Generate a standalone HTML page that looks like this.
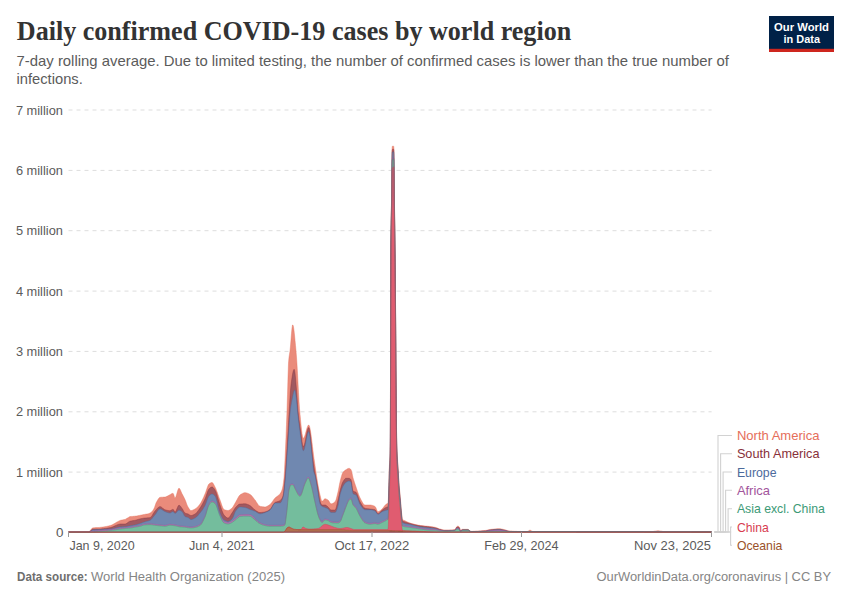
<!DOCTYPE html>
<html><head><meta charset="utf-8"><style>
html,body{margin:0;padding:0;background:#fff;width:850px;height:600px;overflow:hidden}
svg{display:block}
</style></head><body>
<svg width="850" height="600" viewBox="0 0 850 600">
<rect width="850" height="600" fill="#fff"/>
<line x1="68.5" y1="472.1" x2="711.6" y2="472.1" stroke="#dddddd" stroke-width="1" stroke-dasharray="4,4"/><line x1="68.5" y1="411.8" x2="711.6" y2="411.8" stroke="#dddddd" stroke-width="1" stroke-dasharray="4,4"/><line x1="68.5" y1="351.4" x2="711.6" y2="351.4" stroke="#dddddd" stroke-width="1" stroke-dasharray="4,4"/><line x1="68.5" y1="291.1" x2="711.6" y2="291.1" stroke="#dddddd" stroke-width="1" stroke-dasharray="4,4"/><line x1="68.5" y1="230.7" x2="711.6" y2="230.7" stroke="#dddddd" stroke-width="1" stroke-dasharray="4,4"/><line x1="68.5" y1="170.4" x2="711.6" y2="170.4" stroke="#dddddd" stroke-width="1" stroke-dasharray="4,4"/><line x1="68.5" y1="110.0" x2="711.6" y2="110.0" stroke="#dddddd" stroke-width="1" stroke-dasharray="4,4"/>
<polygon points="68.50,532.3 68.5,531.5 69.0,531.5 69.5,531.5 70.0,531.5 70.5,531.5 71.0,531.5 71.5,531.5 72.0,531.5 72.5,531.5 73.0,531.5 73.5,531.5 74.0,531.5 74.5,531.5 75.0,531.5 75.5,531.5 76.0,531.5 76.5,531.5 77.0,531.5 77.5,531.5 78.0,531.5 78.5,531.5 79.0,531.5 79.5,531.5 80.0,531.5 80.5,531.5 81.0,531.5 81.5,531.5 82.0,531.5 82.5,531.5 83.0,531.5 83.5,531.5 84.0,531.5 84.5,531.5 85.0,531.5 85.5,531.5 86.0,531.5 86.5,531.5 87.0,531.5 87.5,531.5 88.0,531.5 88.5,531.5 89.0,531.5 89.5,531.3 90.0,530.9 90.5,530.3 91.0,529.6 91.5,528.9 92.0,528.3 92.5,528.0 93.0,527.9 93.5,527.8 94.0,527.7 94.5,527.7 95.0,527.7 95.5,527.6 96.0,527.6 96.5,527.6 97.0,527.6 97.5,527.6 98.0,527.5 98.5,527.5 99.0,527.5 99.5,527.4 100.0,527.4 100.5,527.3 101.0,527.3 101.5,527.2 102.0,527.1 102.5,527.1 103.0,527.0 103.5,526.9 104.0,526.8 104.5,526.8 105.0,526.7 105.5,526.6 106.0,526.5 106.5,526.4 107.0,526.3 107.5,526.2 108.0,526.1 108.5,526.0 109.0,525.8 109.5,525.7 110.0,525.6 110.5,525.4 111.0,525.3 111.5,525.1 112.0,524.9 112.5,524.6 113.0,524.4 113.5,524.1 114.0,523.8 114.5,523.5 115.0,523.2 115.5,522.9 116.0,522.6 116.5,522.3 117.0,522.0 117.5,521.8 118.0,521.5 118.5,521.2 119.0,521.0 119.5,520.7 120.0,520.5 120.5,520.3 121.0,520.2 121.5,520.1 122.0,520.0 122.5,519.9 123.0,519.8 123.5,519.7 124.0,519.6 124.5,519.5 125.0,519.4 125.5,519.2 126.0,518.9 126.5,518.6 127.0,518.3 127.5,518.0 128.0,517.7 128.5,517.4 129.0,517.0 129.5,516.8 130.0,516.6 130.5,516.5 131.0,516.5 131.5,516.4 132.0,516.4 132.5,516.4 133.0,516.3 133.5,516.3 134.0,516.3 134.5,516.2 135.0,516.2 135.5,516.1 136.0,516.1 136.5,516.0 137.0,515.9 137.5,515.8 138.0,515.7 138.5,515.6 139.0,515.5 139.5,515.4 140.0,515.3 140.5,515.2 141.0,515.1 141.5,515.0 142.0,514.9 142.5,514.8 143.0,514.7 143.5,514.6 144.0,514.5 144.5,514.4 145.0,514.3 145.5,514.2 146.0,514.1 146.5,514.1 147.0,514.0 147.5,513.9 148.0,513.8 148.5,513.7 149.0,513.5 149.5,513.3 150.0,513.1 150.5,512.8 151.0,512.5 151.5,512.1 152.0,511.6 152.5,510.9 153.0,510.2 153.5,509.4 154.0,508.5 154.5,507.4 155.0,506.0 155.5,504.5 156.0,503.1 156.5,502.1 157.0,501.2 157.5,500.3 158.0,499.4 158.5,498.7 159.0,498.0 159.5,497.6 160.0,497.4 160.5,497.3 161.0,497.3 161.5,497.2 162.0,497.2 162.5,497.2 163.0,497.2 163.5,497.1 164.0,497.1 164.5,497.1 165.0,497.0 165.5,496.9 166.0,496.7 166.5,496.5 167.0,496.3 167.5,496.1 168.0,495.8 168.5,495.5 169.0,495.2 169.5,494.9 170.0,494.7 170.5,494.4 171.0,494.1 171.5,493.8 172.0,493.6 172.5,493.4 173.0,493.3 173.5,494.0 174.0,495.6 174.5,497.2 175.0,497.9 175.5,497.5 176.0,496.4 176.5,494.8 177.0,493.1 177.5,491.3 178.0,489.7 178.5,488.6 179.0,488.2 179.5,488.5 180.0,489.2 180.5,490.2 181.0,491.4 181.5,492.6 182.0,493.7 182.5,494.6 183.0,495.6 183.5,496.5 184.0,497.5 184.5,498.5 185.0,499.6 185.5,500.8 186.0,502.1 186.5,503.5 187.0,504.9 187.5,506.1 188.0,507.0 188.5,507.8 189.0,508.6 189.5,509.3 190.0,509.9 190.5,510.4 191.0,510.5 191.5,510.5 192.0,510.4 192.5,510.2 193.0,510.0 193.5,509.8 194.0,509.5 194.5,509.3 195.0,509.0 195.5,508.7 196.0,508.4 196.5,507.9 197.0,507.5 197.5,507.0 198.0,506.5 198.5,505.9 199.0,505.3 199.5,504.7 200.0,504.0 200.5,503.3 201.0,502.5 201.5,501.6 202.0,500.6 202.5,499.6 203.0,498.5 203.5,497.4 204.0,496.3 204.5,495.1 205.0,494.0 205.5,492.8 206.0,491.3 206.5,489.8 207.0,488.3 207.5,486.9 208.0,485.6 208.5,484.6 209.0,484.0 209.5,483.6 210.0,483.3 210.5,482.9 211.0,482.7 211.5,482.6 212.0,482.5 212.5,482.7 213.0,483.3 213.5,484.1 214.0,485.0 214.5,486.0 215.0,487.0 215.5,488.0 216.0,489.1 216.5,490.4 217.0,491.7 217.5,493.1 218.0,494.5 218.5,496.0 219.0,497.4 219.5,498.7 220.0,500.0 220.5,501.3 221.0,502.8 221.5,504.3 222.0,505.8 222.5,507.1 223.0,508.2 223.5,509.1 224.0,509.5 224.5,509.7 225.0,509.9 225.5,510.1 226.0,510.2 226.5,510.3 227.0,510.4 227.5,510.5 228.0,510.5 228.5,510.4 229.0,510.3 229.5,510.0 230.0,509.7 230.5,509.3 231.0,508.9 231.5,508.5 232.0,508.0 232.5,507.5 233.0,506.8 233.5,506.0 234.0,505.1 234.5,504.2 235.0,503.3 235.5,502.4 236.0,501.5 236.5,500.6 237.0,499.7 237.5,498.7 238.0,497.8 238.5,496.9 239.0,496.1 239.5,495.5 240.0,495.0 240.5,494.6 241.0,494.3 241.5,494.0 242.0,493.7 242.5,493.4 243.0,493.2 243.5,493.0 244.0,492.8 244.5,492.7 245.0,492.7 245.5,492.7 246.0,492.8 246.5,492.9 247.0,493.0 247.5,493.2 248.0,493.4 248.5,493.6 249.0,493.9 249.5,494.1 250.0,494.4 250.5,494.7 251.0,495.1 251.5,495.6 252.0,496.2 252.5,496.8 253.0,497.4 253.5,498.1 254.0,498.7 254.5,499.4 255.0,500.0 255.5,500.6 256.0,501.4 256.5,502.2 257.0,503.0 257.5,503.8 258.0,504.5 258.5,505.2 259.0,505.7 259.5,506.1 260.0,506.3 260.5,506.4 261.0,506.5 261.5,506.6 262.0,506.7 262.5,506.7 263.0,506.8 263.5,506.8 264.0,506.9 264.5,506.9 265.0,506.9 265.5,506.9 266.0,506.8 266.5,506.6 267.0,506.4 267.5,506.1 268.0,505.8 268.5,505.5 269.0,505.1 269.5,504.8 270.0,504.4 270.5,504.0 271.0,503.5 271.5,502.8 272.0,502.2 272.5,501.4 273.0,500.7 273.5,500.0 274.0,499.3 274.5,498.7 275.0,498.1 275.5,497.6 276.0,497.2 276.5,496.8 277.0,496.5 277.5,496.1 278.0,495.7 278.5,495.3 279.0,494.9 279.5,494.4 280.0,493.8 280.5,493.1 281.0,492.3 281.5,491.3 282.0,490.0 282.5,488.2 283.0,485.7 283.5,482.3 284.0,478.0 284.5,470.4 285.0,460.0 285.5,449.1 286.0,437.2 286.5,424.3 287.0,411.0 287.5,394.8 288.0,376.9 288.5,363.1 289.0,357.3 289.5,354.2 290.0,351.0 290.5,346.0 291.0,339.7 291.5,333.3 292.0,328.0 292.5,325.0 293.0,325.1 293.5,327.1 294.0,330.5 294.5,335.0 295.0,340.2 295.5,345.6 296.0,351.0 296.5,357.2 297.0,364.6 297.5,373.4 298.0,383.0 298.5,392.6 299.0,401.4 299.5,408.7 300.0,414.2 300.5,419.6 301.0,424.7 301.5,429.4 302.0,433.4 302.5,436.3 303.0,438.0 303.5,438.2 304.0,437.7 304.5,436.6 305.0,435.2 305.5,433.5 306.0,431.6 306.5,429.8 307.0,428.1 307.5,426.7 308.0,425.6 308.5,425.1 309.0,425.2 309.5,426.3 310.0,428.4 310.5,431.2 311.0,434.5 311.5,438.3 312.0,442.4 312.5,446.6 313.0,450.8 313.5,454.9 314.0,458.6 314.5,462.0 315.0,465.5 315.5,469.0 316.0,472.3 316.5,475.7 317.0,478.9 317.5,482.1 318.0,485.0 318.5,487.8 319.0,490.4 319.5,492.9 320.0,495.0 320.5,497.1 321.0,499.1 321.5,500.7 322.0,501.3 322.5,501.1 323.0,500.7 323.5,500.1 324.0,499.4 324.5,499.0 325.0,498.8 325.5,498.8 326.0,499.0 326.5,499.2 327.0,499.4 327.5,499.7 328.0,500.0 328.5,500.5 329.0,501.3 329.5,502.1 330.0,502.9 330.5,503.6 331.0,503.8 331.5,503.8 332.0,503.7 332.5,503.5 333.0,503.2 333.5,503.0 334.0,502.6 334.5,502.2 335.0,501.8 335.5,501.0 336.0,499.8 336.5,498.1 337.0,496.1 337.5,494.1 338.0,492.0 338.5,489.7 339.0,487.0 339.5,484.3 340.0,482.0 340.5,480.0 341.0,478.0 341.5,476.2 342.0,474.5 342.5,473.2 343.0,472.3 343.5,471.7 344.0,471.2 344.5,470.7 345.0,470.3 345.5,470.0 346.0,469.7 346.5,469.4 347.0,469.1 347.5,468.8 348.0,468.5 348.5,468.4 349.0,468.3 349.5,468.4 350.0,468.7 350.5,469.1 351.0,469.7 351.5,471.0 352.0,473.1 352.5,475.6 353.0,477.7 353.5,479.4 354.0,481.0 354.5,482.6 355.0,484.1 355.5,485.6 356.0,487.0 356.5,488.5 357.0,489.9 357.5,491.4 358.0,492.8 358.5,494.2 359.0,495.5 359.5,496.7 360.0,497.7 360.5,498.7 361.0,499.7 361.5,500.7 362.0,501.6 362.5,502.5 363.0,503.3 363.5,504.0 364.0,504.5 364.5,504.9 365.0,505.0 365.5,505.0 366.0,505.0 366.5,505.0 367.0,505.0 367.5,505.0 368.0,505.0 368.5,505.0 369.0,505.0 369.5,505.0 370.0,505.0 370.5,505.0 371.0,505.1 371.5,505.2 372.0,505.3 372.5,505.4 373.0,505.6 373.5,505.8 374.0,506.0 374.5,506.2 375.0,506.5 375.5,507.1 376.0,508.1 376.5,509.3 377.0,510.5 377.5,511.4 378.0,511.7 378.5,511.6 379.0,511.4 379.5,511.1 380.0,510.8 380.5,510.4 381.0,509.9 381.5,509.4 382.0,509.0 382.5,508.5 383.0,507.9 383.5,507.3 384.0,506.6 384.5,506.0 385.0,505.3 385.5,504.8 386.0,504.3 386.5,504.0 387.0,503.8 387.5,503.6 388.0,503.0 388.1,502.5 388.2,501.4 388.3,500.0 388.4,498.2 388.5,495.7 388.6,492.6 388.7,489.2 388.8,485.4 388.9,481.6 389.0,477.8 389.1,474.2 389.2,471.0 389.3,468.3 389.4,466.1 389.5,464.2 389.6,462.5 389.7,460.8 389.8,458.9 389.9,456.6 390.0,453.7 390.1,450.1 390.2,445.6 390.3,440.0 390.4,420.3 390.5,382.6 390.6,340.0 390.7,282.9 390.8,240.0 390.9,229.6 391.0,222.0 391.1,216.6 391.2,212.6 391.3,209.4 391.4,206.2 391.5,202.3 391.6,197.2 391.7,190.0 391.8,176.3 391.9,159.3 392.0,150.0 392.1,148.4 392.2,147.2 392.3,146.4 392.4,146.2 392.5,146.2 392.6,146.2 392.7,146.2 392.8,146.2 392.9,146.2 393.0,146.2 393.1,146.2 393.2,146.2 393.3,146.2 393.4,146.2 393.5,146.2 393.6,146.2 393.7,146.4 393.8,147.2 393.9,148.4 394.0,150.0 394.1,159.0 394.2,175.7 394.3,190.0 394.4,198.8 394.5,206.1 394.6,212.5 394.7,218.6 394.8,224.8 394.9,231.8 395.0,240.0 395.1,249.9 395.2,261.4 395.3,273.9 395.4,287.3 395.5,300.9 395.6,314.5 395.7,327.7 395.8,340.0 395.9,352.4 396.0,365.6 396.1,379.3 396.2,392.8 396.3,405.6 396.4,417.2 396.5,427.2 396.6,434.9 396.7,440.0 396.8,443.3 396.9,446.3 397.0,449.0 397.1,451.4 397.2,453.5 397.3,455.5 397.4,457.2 397.5,458.9 397.6,460.4 397.7,461.8 397.8,463.2 397.9,464.6 398.0,466.1 398.1,467.6 398.2,469.2 398.3,471.0 398.4,472.9 398.5,474.8 398.6,476.7 398.7,478.4 398.8,480.0 398.9,481.4 399.0,482.8 399.1,484.1 399.2,485.4 399.3,486.6 399.4,487.8 399.5,488.9 399.6,490.1 399.7,491.2 399.8,492.2 399.9,493.3 400.0,494.4 400.1,495.5 400.2,496.6 400.3,497.7 400.4,498.8 400.5,500.0 400.6,501.2 400.7,502.5 400.8,503.8 400.9,505.1 401.0,506.3 401.1,507.6 401.2,508.8 401.3,510.0 401.4,511.0 401.5,512.0 401.6,512.9 401.7,513.9 401.8,514.9 401.9,515.8 402.0,516.7 402.1,517.5 402.2,518.2 402.3,518.8 402.4,519.2 402.5,519.4 402.6,519.5 402.7,519.6 402.8,519.7 402.9,519.8 403.0,519.9 403.5,520.2 404.5,520.6 405.5,521.0 406.5,521.5 407.5,522.0 408.5,522.4 409.5,522.8 410.5,523.2 411.5,523.5 412.5,523.8 413.5,524.0 414.5,524.3 415.5,524.5 416.5,524.8 417.5,525.0 418.5,525.2 419.5,525.3 420.5,525.5 421.5,525.6 422.5,525.7 423.5,525.8 424.5,525.9 425.5,526.0 426.5,526.1 427.5,526.2 428.5,526.3 429.5,526.4 430.5,526.6 431.5,526.7 432.5,526.8 433.5,527.0 434.5,527.2 435.5,527.4 436.5,527.7 437.5,528.1 438.5,528.5 439.5,528.9 440.5,529.1 441.5,529.4 442.5,529.7 443.5,529.9 444.5,530.0 445.5,530.0 446.5,530.0 447.5,530.0 448.5,530.0 449.5,530.0 450.5,529.9 451.5,529.9 452.5,529.9 453.5,529.8 454.5,529.7 455.5,529.1 456.5,526.9 457.5,526.2 458.5,526.2 459.5,527.4 460.5,531.0 461.5,529.7 462.5,529.3 463.5,529.3 464.5,529.3 465.5,529.3 466.5,529.3 467.5,529.3 468.5,529.6 469.5,530.8 470.5,531.3 471.5,531.3 472.5,531.3 473.5,531.2 474.5,531.2 475.5,531.2 476.5,531.1 477.5,531.1 478.5,531.0 479.5,530.9 480.5,530.9 481.5,530.8 482.5,530.7 483.5,530.6 484.5,530.5 485.5,530.4 486.5,530.3 487.5,530.0 488.5,529.8 489.5,529.6 490.5,529.4 491.5,529.3 492.5,529.2 493.5,529.1 494.5,528.9 495.5,528.9 496.5,528.8 497.5,528.7 498.5,528.7 499.5,528.7 500.5,528.8 501.5,529.0 502.5,529.2 503.5,529.4 504.5,529.7 505.5,529.9 506.5,530.3 507.5,530.7 508.5,530.9 509.5,531.0 510.5,531.1 511.5,531.1 512.5,531.2 513.5,531.2 514.5,531.3 515.5,531.3 516.5,531.3 517.5,531.4 518.5,531.4 519.5,531.4 520.5,531.4 521.5,531.5 522.5,531.5 523.5,531.5 524.5,531.5 525.5,531.5 526.5,531.5 527.5,531.4 528.5,530.9 529.5,530.3 530.5,530.3 531.5,530.9 532.5,531.4 533.5,531.5 534.5,531.5 535.5,531.5 536.5,531.5 537.5,531.5 538.5,531.5 539.5,531.5 540.5,531.5 541.5,531.5 542.5,531.5 543.5,531.5 544.5,531.5 545.5,531.5 546.5,531.5 547.5,531.5 548.5,531.5 549.5,531.5 550.5,531.5 551.5,531.5 552.5,531.5 553.5,531.5 554.5,531.5 555.5,531.5 556.5,531.5 557.5,531.5 558.5,531.5 559.5,531.5 560.5,531.5 561.5,531.5 562.5,531.5 563.5,531.5 564.5,531.5 565.5,531.5 566.5,531.5 567.5,531.5 568.5,531.5 569.5,531.5 570.5,531.5 571.5,531.5 572.5,531.5 573.5,531.5 574.5,531.5 575.5,531.5 576.5,531.5 577.5,531.5 578.5,531.5 579.5,531.5 580.5,531.5 581.5,531.5 582.5,531.5 583.5,531.5 584.5,531.5 585.5,531.5 586.5,531.5 587.5,531.5 588.5,531.5 589.5,531.5 590.5,531.5 591.5,531.5 592.5,531.5 593.5,531.5 594.5,531.5 595.5,531.5 596.5,531.5 597.5,531.5 598.5,531.5 599.5,531.5 600.5,531.5 601.5,531.5 602.5,531.5 603.5,531.5 604.5,531.5 605.5,531.5 606.5,531.5 607.5,531.5 608.5,531.5 609.5,531.5 610.5,531.5 611.5,531.5 612.5,531.5 613.5,531.5 614.5,531.5 615.5,531.5 616.5,531.5 617.5,531.5 618.5,531.5 619.5,531.5 620.5,531.5 621.5,531.5 622.5,531.5 623.5,531.5 624.5,531.5 625.5,531.5 626.5,531.5 627.5,531.5 628.5,531.5 629.5,531.5 630.5,531.5 631.5,531.5 632.5,531.5 633.5,531.5 634.5,531.5 635.5,531.5 636.5,531.5 637.5,531.5 638.5,531.5 639.5,531.5 640.5,531.5 641.5,531.5 642.5,531.5 643.5,531.5 644.5,531.5 645.5,531.5 646.5,531.5 647.5,531.5 648.5,531.5 649.5,531.5 650.5,531.5 651.5,531.5 652.5,531.5 653.5,531.4 654.5,531.2 655.5,531.1 656.5,530.9 657.5,530.8 658.5,530.8 659.5,530.9 660.5,531.1 661.5,531.2 662.5,531.4 663.5,531.5 664.5,531.5 665.5,531.5 666.5,531.5 667.5,531.5 668.5,531.5 669.5,531.5 670.5,531.5 671.5,531.5 672.5,531.5 673.5,531.5 674.5,531.5 675.5,531.5 676.5,531.5 677.5,531.5 678.5,531.5 679.5,531.5 680.5,531.5 681.5,531.5 682.5,531.5 683.5,531.5 684.5,531.5 685.5,531.5 686.5,531.5 687.5,531.5 688.5,531.5 689.5,531.5 690.5,531.5 691.5,531.5 692.5,531.5 693.5,531.5 694.5,531.5 695.5,531.5 696.5,531.5 697.5,531.5 698.5,531.5 699.5,531.5 700.5,531.5 701.5,531.5 702.5,531.5 703.5,531.5 704.5,531.5 705.5,531.5 706.5,531.5 707.5,531.5 708.5,531.5 709.5,531.5 710.5,531.5 711.5,531.5 711.50,532.3" fill="#ea8b7b"/>
<polygon points="68.50,532.3 68.5,531.8 69.0,531.8 69.5,531.8 70.0,531.8 70.5,531.8 71.0,531.8 71.5,531.8 72.0,531.8 72.5,531.8 73.0,531.8 73.5,531.8 74.0,531.8 74.5,531.8 75.0,531.8 75.5,531.8 76.0,531.8 76.5,531.8 77.0,531.8 77.5,531.8 78.0,531.8 78.5,531.8 79.0,531.8 79.5,531.8 80.0,531.8 80.5,531.8 81.0,531.8 81.5,531.8 82.0,531.8 82.5,531.8 83.0,531.8 83.5,531.8 84.0,531.8 84.5,531.8 85.0,531.8 85.5,531.8 86.0,531.8 86.5,531.8 87.0,531.8 87.5,531.8 88.0,531.8 88.5,531.8 89.0,531.8 89.5,531.7 90.0,531.4 90.5,530.9 91.0,530.4 91.5,530.0 92.0,529.6 92.5,529.3 93.0,529.3 93.5,529.2 94.0,529.2 94.5,529.2 95.0,529.2 95.5,529.1 96.0,529.1 96.5,529.1 97.0,529.1 97.5,529.1 98.0,529.1 98.5,529.1 99.0,529.0 99.5,529.0 100.0,529.0 100.5,529.0 101.0,528.9 101.5,528.9 102.0,528.8 102.5,528.8 103.0,528.7 103.5,528.7 104.0,528.6 104.5,528.5 105.0,528.5 105.5,528.4 106.0,528.3 106.5,528.3 107.0,528.2 107.5,528.1 108.0,528.0 108.5,527.9 109.0,527.8 109.5,527.7 110.0,527.7 110.5,527.6 111.0,527.4 111.5,527.3 112.0,527.1 112.5,526.9 113.0,526.7 113.5,526.5 114.0,526.3 114.5,526.1 115.0,525.8 115.5,525.6 116.0,525.4 116.5,525.2 117.0,525.0 117.5,524.8 118.0,524.6 118.5,524.4 119.0,524.3 119.5,524.2 120.0,524.1 120.5,524.0 121.0,524.0 121.5,524.0 122.0,524.0 122.5,524.0 123.0,524.0 123.5,524.0 124.0,524.0 124.5,524.0 125.0,524.0 125.5,523.9 126.0,523.8 126.5,523.5 127.0,523.1 127.5,522.8 128.0,522.4 128.5,522.0 129.0,521.7 129.5,521.4 130.0,521.2 130.5,521.1 131.0,521.0 131.5,520.9 132.0,520.8 132.5,520.7 133.0,520.6 133.5,520.6 134.0,520.5 134.5,520.4 135.0,520.3 135.5,520.2 136.0,520.0 136.5,519.9 137.0,519.8 137.5,519.6 138.0,519.4 138.5,519.3 139.0,519.2 139.5,519.0 140.0,518.9 140.5,518.8 141.0,518.7 141.5,518.6 142.0,518.5 142.5,518.4 143.0,518.3 143.5,518.2 144.0,518.1 144.5,518.1 145.0,518.0 145.5,518.0 146.0,517.9 146.5,517.9 147.0,517.9 147.5,517.8 148.0,517.8 148.5,517.8 149.0,517.7 149.5,517.7 150.0,517.6 150.5,517.4 151.0,517.0 151.5,516.4 152.0,515.7 152.5,514.9 153.0,514.1 153.5,513.2 154.0,512.4 154.5,511.7 155.0,511.1 155.5,510.5 156.0,510.0 156.5,509.3 157.0,508.8 157.5,508.2 158.0,507.7 158.5,507.2 159.0,506.9 159.5,506.7 160.0,506.6 160.5,506.7 161.0,506.9 161.5,507.2 162.0,507.6 162.5,508.0 163.0,508.5 163.5,508.9 164.0,509.3 164.5,509.6 165.0,509.8 165.5,509.9 166.0,510.1 166.5,510.2 167.0,510.3 167.5,510.4 168.0,510.5 168.5,510.6 169.0,510.7 169.5,510.7 170.0,510.7 170.5,510.6 171.0,510.3 171.5,510.0 172.0,509.7 172.5,509.4 173.0,509.3 173.5,509.7 174.0,510.6 174.5,511.6 175.0,512.0 175.5,511.7 176.0,510.9 176.5,509.8 177.0,508.6 177.5,507.4 178.0,506.3 178.5,505.5 179.0,505.2 179.5,505.3 180.0,505.8 180.5,506.3 181.0,507.0 181.5,507.7 182.0,508.4 182.5,509.1 183.0,510.0 183.5,511.0 184.0,511.8 184.5,512.6 185.0,513.0 185.5,513.2 186.0,513.4 186.5,513.6 187.0,513.7 187.5,513.8 188.0,514.0 188.5,514.2 189.0,514.6 189.5,514.9 190.0,515.2 190.5,515.4 191.0,515.5 191.5,515.5 192.0,515.4 192.5,515.2 193.0,515.0 193.5,514.8 194.0,514.5 194.5,514.3 195.0,514.0 195.5,513.7 196.0,513.2 196.5,512.7 197.0,512.2 197.5,511.5 198.0,510.9 198.5,510.2 199.0,509.5 199.5,508.7 200.0,508.0 200.5,507.3 201.0,506.5 201.5,505.7 202.0,504.8 202.5,503.9 203.0,503.0 203.5,502.0 204.0,501.1 204.5,500.0 205.0,499.0 205.5,497.8 206.0,496.4 206.5,495.0 207.0,493.5 207.5,492.0 208.0,490.7 208.5,489.7 209.0,489.0 209.5,488.5 210.0,488.0 210.5,487.6 211.0,487.3 211.5,487.1 212.0,487.0 212.5,487.1 213.0,487.5 213.5,488.0 214.0,488.6 214.5,489.3 215.0,490.0 215.5,490.9 216.0,492.0 216.5,493.4 217.0,495.0 217.5,496.7 218.0,498.5 218.5,500.2 219.0,501.9 219.5,503.5 220.0,505.0 220.5,506.4 221.0,507.9 221.5,509.4 222.0,510.8 222.5,512.1 223.0,513.3 223.5,514.3 224.0,515.0 224.5,515.6 225.0,516.1 225.5,516.6 226.0,517.1 226.5,517.5 227.0,517.7 227.5,517.9 228.0,518.0 228.5,517.9 229.0,517.5 229.5,516.9 230.0,516.2 230.5,515.4 231.0,514.5 231.5,513.7 232.0,513.0 232.5,512.3 233.0,511.5 233.5,510.7 234.0,509.8 234.5,509.0 235.0,508.2 235.5,507.6 236.0,507.0 236.5,506.5 237.0,506.0 237.5,505.5 238.0,505.0 238.5,504.6 239.0,504.3 239.5,504.1 240.0,504.0 240.5,504.0 241.0,503.9 241.5,503.9 242.0,503.9 242.5,503.9 243.0,503.8 243.5,503.8 244.0,503.8 244.5,503.8 245.0,503.8 245.5,503.8 246.0,503.9 246.5,504.0 247.0,504.2 247.5,504.4 248.0,504.6 248.5,504.8 249.0,505.1 249.5,505.3 250.0,505.6 250.5,505.9 251.0,506.3 251.5,506.7 252.0,507.2 252.5,507.7 253.0,508.2 253.5,508.7 254.0,509.2 254.5,509.6 255.0,510.0 255.5,510.3 256.0,510.7 256.5,511.0 257.0,511.3 257.5,511.6 258.0,511.9 258.5,512.2 259.0,512.3 259.5,512.5 260.0,512.5 260.5,512.5 261.0,512.5 261.5,512.4 262.0,512.4 262.5,512.3 263.0,512.3 263.5,512.2 264.0,512.1 264.5,512.0 265.0,511.9 265.5,511.8 266.0,511.6 266.5,511.4 267.0,511.2 267.5,511.0 268.0,510.7 268.5,510.4 269.0,510.1 269.5,509.8 270.0,509.4 270.5,508.9 271.0,508.3 271.5,507.6 272.0,506.7 272.5,505.9 273.0,505.0 273.5,504.2 274.0,503.5 274.5,502.9 275.0,502.5 275.5,502.2 276.0,502.0 276.5,501.9 277.0,501.7 277.5,501.6 278.0,501.4 278.5,501.3 279.0,501.1 279.5,500.9 280.0,500.6 280.5,500.2 281.0,499.7 281.5,499.1 282.0,498.3 282.5,497.3 283.0,496.0 283.5,493.5 284.0,489.1 284.5,483.7 285.0,478.0 285.5,471.8 286.0,464.5 286.5,456.5 287.0,448.2 287.5,440.0 288.0,431.6 288.5,422.8 289.0,414.2 289.5,406.1 290.0,397.8 290.5,390.3 291.0,385.0 291.5,381.2 292.0,377.7 292.5,374.6 293.0,372.0 293.5,370.2 294.0,369.3 294.5,369.8 295.0,373.0 295.5,378.1 296.0,384.1 296.5,390.0 297.0,396.8 297.5,404.6 298.0,411.0 298.5,415.7 299.0,419.7 299.5,423.3 300.0,426.7 300.5,430.0 301.0,433.7 301.5,437.6 302.0,441.4 302.5,444.5 303.0,446.4 303.5,446.6 304.0,445.8 304.5,444.3 305.0,442.2 305.5,439.7 306.0,437.1 306.5,434.5 307.0,432.0 307.5,429.9 308.0,428.4 308.5,427.6 309.0,427.8 309.5,429.6 310.0,432.7 310.5,436.8 311.0,441.5 311.5,446.5 312.0,451.5 312.5,456.1 313.0,460.0 313.5,463.4 314.0,466.8 314.5,470.0 315.0,473.0 315.5,475.8 316.0,478.4 316.5,481.0 317.0,483.5 317.5,486.1 318.0,488.8 318.5,492.0 319.0,495.6 319.5,498.8 320.0,501.0 320.5,502.5 321.0,503.8 321.5,504.7 322.0,505.0 322.5,505.0 323.0,505.0 323.5,505.0 324.0,505.0 324.5,505.0 325.0,505.0 325.5,505.1 326.0,505.3 326.5,505.7 327.0,506.1 327.5,506.5 328.0,506.9 328.5,507.4 329.0,508.1 329.5,508.7 330.0,509.4 330.5,509.8 331.0,510.0 331.5,510.0 332.0,510.0 332.5,510.0 333.0,510.0 333.5,510.0 334.0,510.0 334.5,510.0 335.0,510.0 335.5,509.5 336.0,508.3 336.5,506.5 337.0,504.3 337.5,502.1 338.0,500.0 338.5,497.9 339.0,495.5 339.5,493.1 340.0,491.0 340.5,489.1 341.0,487.3 341.5,485.6 342.0,484.0 342.5,482.7 343.0,481.7 343.5,480.9 344.0,480.1 344.5,479.4 345.0,478.8 345.5,478.4 346.0,478.3 346.5,478.3 347.0,478.3 347.5,478.3 348.0,478.3 348.5,478.3 349.0,478.3 349.5,478.4 350.0,478.7 350.5,479.1 351.0,479.7 351.5,481.7 352.0,485.4 352.5,489.1 353.0,491.0 353.5,491.3 354.0,491.6 354.5,491.7 355.0,491.8 355.5,492.0 356.0,492.3 356.5,492.9 357.0,493.8 357.5,495.1 358.0,496.5 358.5,498.0 359.0,499.4 359.5,500.7 360.0,501.7 360.5,502.6 361.0,503.4 361.5,504.3 362.0,505.1 362.5,505.9 363.0,506.6 363.5,507.2 364.0,507.7 364.5,508.1 365.0,508.3 365.5,508.4 366.0,508.5 366.5,508.6 367.0,508.7 367.5,508.7 368.0,508.8 368.5,508.8 369.0,508.9 369.5,508.9 370.0,509.0 370.5,509.1 371.0,509.1 371.5,509.2 372.0,509.2 372.5,509.3 373.0,509.3 373.5,509.4 374.0,509.5 374.5,509.6 375.0,509.7 375.5,510.1 376.0,510.9 376.5,511.8 377.0,512.7 377.5,513.4 378.0,513.7 378.5,513.6 379.0,513.3 379.5,512.9 380.0,512.4 380.5,511.8 381.0,511.3 381.5,510.7 382.0,510.3 382.5,509.9 383.0,509.5 383.5,509.1 384.0,508.7 384.5,508.3 385.0,508.0 385.5,507.7 386.0,507.5 386.5,507.3 387.0,507.2 387.5,507.0 388.0,507.0 388.1,506.4 388.2,505.3 388.3,504.0 388.4,502.1 388.5,499.6 388.6,496.5 388.7,493.0 388.8,489.3 388.9,485.5 389.0,481.7 389.1,478.1 389.2,474.8 389.3,472.1 389.4,469.9 389.5,468.0 389.6,466.3 389.7,464.5 389.8,462.6 389.9,460.3 390.0,457.4 390.1,453.8 390.2,449.3 390.3,443.7 390.4,424.0 390.5,386.2 390.6,343.6 390.7,286.5 390.8,243.6 390.9,233.2 391.0,225.6 391.1,220.1 391.2,216.1 391.3,212.9 391.4,209.6 391.5,205.8 391.6,200.6 391.7,193.4 391.8,179.7 391.9,162.7 392.0,153.4 392.1,151.7 392.2,150.5 392.3,149.8 392.4,149.5 392.5,149.5 392.6,149.5 392.7,149.5 392.8,149.5 392.9,149.5 393.0,149.4 393.1,149.4 393.2,149.4 393.3,149.4 393.4,149.4 393.5,149.4 393.6,149.4 393.7,149.6 393.8,150.3 393.9,151.5 394.0,153.1 394.1,162.1 394.2,178.8 394.3,193.0 394.4,201.8 394.5,209.1 394.6,215.5 394.7,221.6 394.8,227.8 394.9,234.7 395.0,242.9 395.1,252.9 395.2,264.3 395.3,276.8 395.4,290.1 395.5,303.8 395.6,317.4 395.7,330.5 395.8,342.8 395.9,355.2 396.0,368.4 396.1,382.1 396.2,395.5 396.3,408.3 396.4,419.9 396.5,429.9 396.6,437.6 396.7,442.7 396.8,446.0 396.9,449.0 397.0,451.6 397.1,454.0 397.2,456.2 397.3,458.1 397.4,459.8 397.5,461.4 397.6,462.9 397.7,464.3 397.8,465.7 397.9,467.1 398.0,468.6 398.1,470.1 398.2,471.7 398.3,473.4 398.4,475.3 398.5,477.2 398.6,479.1 398.7,480.8 398.8,482.4 398.9,483.8 399.0,485.2 399.1,486.5 399.2,487.7 399.3,488.9 399.4,490.1 399.5,491.2 399.6,492.3 399.7,493.4 399.8,494.5 399.9,495.5 400.0,496.6 400.1,497.7 400.2,498.7 400.3,499.8 400.4,501.0 400.5,502.1 400.6,503.3 400.7,504.6 400.8,505.8 400.9,507.1 401.0,508.4 401.1,509.6 401.2,510.8 401.3,512.0 401.4,513.0 401.5,514.0 401.6,514.9 401.7,515.8 401.8,516.8 401.9,517.7 402.0,518.6 402.1,519.4 402.2,520.1 402.3,520.6 402.4,521.0 402.5,521.2 402.6,521.2 402.7,521.3 402.8,521.3 402.9,521.4 403.0,521.4 403.5,521.6 404.5,521.8 405.5,522.2 406.5,522.5 407.5,522.8 408.5,523.1 409.5,523.4 410.5,523.6 411.5,523.9 412.5,524.2 413.5,524.4 414.5,524.7 415.5,524.9 416.5,525.1 417.5,525.3 418.5,525.5 419.5,525.7 420.5,525.9 421.5,526.0 422.5,526.1 423.5,526.3 424.5,526.4 425.5,526.5 426.5,526.6 427.5,526.7 428.5,526.8 429.5,526.9 430.5,527.1 431.5,527.2 432.5,527.4 433.5,527.5 434.5,527.7 435.5,527.9 436.5,528.3 437.5,528.6 438.5,529.0 439.5,529.4 440.5,529.6 441.5,529.9 442.5,530.1 443.5,530.3 444.5,530.4 445.5,530.4 446.5,530.4 447.5,530.4 448.5,530.4 449.5,530.3 450.5,530.3 451.5,530.3 452.5,530.2 453.5,530.1 454.5,530.0 455.5,529.5 456.5,527.5 457.5,527.0 458.5,527.0 459.5,528.1 460.5,531.3 461.5,530.2 462.5,529.8 463.5,529.8 464.5,529.8 465.5,529.8 466.5,529.8 467.5,529.8 468.5,530.1 469.5,530.8 470.5,531.4 471.5,531.5 472.5,531.5 473.5,531.5 474.5,531.5 475.5,531.4 476.5,531.4 477.5,531.4 478.5,531.3 479.5,531.3 480.5,531.3 481.5,531.2 482.5,531.1 483.5,531.1 484.5,531.0 485.5,531.0 486.5,530.8 487.5,530.5 488.5,530.3 489.5,530.1 490.5,529.9 491.5,529.8 492.5,529.7 493.5,529.6 494.5,529.5 495.5,529.4 496.5,529.4 497.5,529.3 498.5,529.3 499.5,529.3 500.5,529.4 501.5,529.6 502.5,529.8 503.5,530.0 504.5,530.2 505.5,530.4 506.5,530.7 507.5,531.0 508.5,531.2 509.5,531.3 510.5,531.4 511.5,531.4 512.5,531.5 513.5,531.5 514.5,531.5 515.5,531.5 516.5,531.5 517.5,531.5 518.5,531.5 519.5,531.5 520.5,531.5 521.5,531.5 522.5,531.5 523.5,531.5 524.5,531.5 525.5,531.5 526.5,531.5 527.5,531.5 528.5,531.5 529.5,531.5 530.5,531.5 531.5,531.5 532.5,531.5 533.5,531.5 534.5,531.5 535.5,531.5 536.5,531.5 537.5,531.5 538.5,531.5 539.5,531.5 540.5,531.5 541.5,531.5 542.5,531.5 543.5,531.5 544.5,531.5 545.5,531.5 546.5,531.5 547.5,531.5 548.5,531.5 549.5,531.5 550.5,531.5 551.5,531.5 552.5,531.5 553.5,531.5 554.5,531.5 555.5,531.5 556.5,531.5 557.5,531.5 558.5,531.5 559.5,531.5 560.5,531.5 561.5,531.5 562.5,531.5 563.5,531.5 564.5,531.5 565.5,531.5 566.5,531.5 567.5,531.5 568.5,531.5 569.5,531.5 570.5,531.5 571.5,531.5 572.5,531.5 573.5,531.5 574.5,531.5 575.5,531.5 576.5,531.6 577.5,531.6 578.5,531.6 579.5,531.6 580.5,531.6 581.5,531.6 582.5,531.6 583.5,531.6 584.5,531.6 585.5,531.6 586.5,531.6 587.5,531.6 588.5,531.6 589.5,531.6 590.5,531.6 591.5,531.6 592.5,531.6 593.5,531.6 594.5,531.6 595.5,531.6 596.5,531.6 597.5,531.6 598.5,531.6 599.5,531.6 600.5,531.6 601.5,531.6 602.5,531.6 603.5,531.6 604.5,531.6 605.5,531.6 606.5,531.6 607.5,531.6 608.5,531.6 609.5,531.6 610.5,531.6 611.5,531.6 612.5,531.6 613.5,531.6 614.5,531.6 615.5,531.6 616.5,531.6 617.5,531.6 618.5,531.6 619.5,531.6 620.5,531.6 621.5,531.6 622.5,531.6 623.5,531.6 624.5,531.6 625.5,531.6 626.5,531.6 627.5,531.6 628.5,531.6 629.5,531.6 630.5,531.6 631.5,531.6 632.5,531.6 633.5,531.6 634.5,531.6 635.5,531.6 636.5,531.6 637.5,531.6 638.5,531.6 639.5,531.6 640.5,531.6 641.5,531.6 642.5,531.6 643.5,531.6 644.5,531.7 645.5,531.7 646.5,531.7 647.5,531.7 648.5,531.7 649.5,531.7 650.5,531.7 651.5,531.7 652.5,531.7 653.5,531.7 654.5,531.7 655.5,531.7 656.5,531.7 657.5,531.7 658.5,531.7 659.5,531.7 660.5,531.7 661.5,531.7 662.5,531.7 663.5,531.7 664.5,531.7 665.5,531.7 666.5,531.7 667.5,531.7 668.5,531.7 669.5,531.7 670.5,531.7 671.5,531.7 672.5,531.7 673.5,531.7 674.5,531.7 675.5,531.7 676.5,531.7 677.5,531.7 678.5,531.7 679.5,531.7 680.5,531.7 681.5,531.7 682.5,531.7 683.5,531.7 684.5,531.7 685.5,531.7 686.5,531.7 687.5,531.7 688.5,531.7 689.5,531.7 690.5,531.7 691.5,531.8 692.5,531.8 693.5,531.8 694.5,531.8 695.5,531.8 696.5,531.8 697.5,531.8 698.5,531.8 699.5,531.8 700.5,531.8 701.5,531.8 702.5,531.8 703.5,531.8 704.5,531.8 705.5,531.8 706.5,531.8 707.5,531.8 708.5,531.8 709.5,531.8 710.5,531.8 711.5,531.8 711.50,532.3" fill="#a05961"/>
<polygon points="68.50,532.3 68.5,532.0 69.0,532.0 69.5,532.0 70.0,532.0 70.5,532.0 71.0,532.0 71.5,532.0 72.0,532.0 72.5,532.0 73.0,532.0 73.5,532.0 74.0,532.0 74.5,532.0 75.0,532.0 75.5,532.0 76.0,532.0 76.5,532.0 77.0,532.0 77.5,532.0 78.0,532.0 78.5,532.0 79.0,532.0 79.5,532.0 80.0,532.0 80.5,532.0 81.0,532.0 81.5,532.0 82.0,532.0 82.5,532.0 83.0,532.0 83.5,532.0 84.0,532.0 84.5,532.0 85.0,532.0 85.5,532.0 86.0,532.0 86.5,532.0 87.0,532.0 87.5,532.0 88.0,532.0 88.5,532.0 89.0,532.0 89.5,531.9 90.0,531.6 90.5,531.2 91.0,530.8 91.5,530.4 92.0,530.0 92.5,529.8 93.0,529.8 93.5,529.7 94.0,529.7 94.5,529.7 95.0,529.7 95.5,529.6 96.0,529.6 96.5,529.6 97.0,529.6 97.5,529.6 98.0,529.6 98.5,529.5 99.0,529.5 99.5,529.5 100.0,529.5 100.5,529.5 101.0,529.4 101.5,529.4 102.0,529.4 102.5,529.4 103.0,529.4 103.5,529.4 104.0,529.3 104.5,529.3 105.0,529.3 105.5,529.3 106.0,529.3 106.5,529.2 107.0,529.2 107.5,529.2 108.0,529.2 108.5,529.1 109.0,529.1 109.5,529.1 110.0,529.0 110.5,529.0 111.0,528.9 111.5,528.9 112.0,528.8 112.5,528.7 113.0,528.6 113.5,528.5 114.0,528.4 114.5,528.2 115.0,528.1 115.5,528.0 116.0,527.9 116.5,527.7 117.0,527.6 117.5,527.5 118.0,527.4 118.5,527.3 119.0,527.2 119.5,527.1 120.0,527.0 120.5,526.9 121.0,526.9 121.5,526.9 122.0,526.8 122.5,526.8 123.0,526.8 123.5,526.8 124.0,526.8 124.5,526.7 125.0,526.7 125.5,526.7 126.0,526.6 126.5,526.5 127.0,526.4 127.5,526.3 128.0,526.2 128.5,526.1 129.0,526.0 129.5,525.9 130.0,525.8 130.5,525.7 131.0,525.6 131.5,525.5 132.0,525.5 132.5,525.4 133.0,525.3 133.5,525.2 134.0,525.1 134.5,525.0 135.0,524.9 135.5,524.8 136.0,524.7 136.5,524.5 137.0,524.4 137.5,524.3 138.0,524.1 138.5,524.0 139.0,523.8 139.5,523.7 140.0,523.5 140.5,523.3 141.0,523.2 141.5,523.0 142.0,522.8 142.5,522.6 143.0,522.4 143.5,522.2 144.0,522.0 144.5,521.9 145.0,521.7 145.5,521.6 146.0,521.4 146.5,521.3 147.0,521.2 147.5,521.1 148.0,521.0 148.5,520.8 149.0,520.7 149.5,520.5 150.0,520.3 150.5,520.0 151.0,519.6 151.5,519.1 152.0,518.6 152.5,518.0 153.0,517.3 153.5,516.7 154.0,516.0 154.5,515.4 155.0,514.8 155.5,514.2 156.0,513.5 156.5,512.7 157.0,511.9 157.5,511.1 158.0,510.4 158.5,509.8 159.0,509.3 159.5,509.0 160.0,508.9 160.5,509.0 161.0,509.1 161.5,509.4 162.0,509.7 162.5,510.0 163.0,510.4 163.5,510.7 164.0,511.1 164.5,511.4 165.0,511.6 165.5,511.8 166.0,512.0 166.5,512.2 167.0,512.4 167.5,512.5 168.0,512.7 168.5,512.8 169.0,512.9 169.5,513.0 170.0,513.0 170.5,512.9 171.0,512.6 171.5,512.3 172.0,512.0 172.5,511.7 173.0,511.6 173.5,511.9 174.0,512.5 174.5,513.1 175.0,513.4 175.5,513.3 176.0,512.9 176.5,512.4 177.0,511.8 177.5,511.2 178.0,510.7 178.5,510.3 179.0,510.2 179.5,510.3 180.0,510.4 180.5,510.6 181.0,510.9 181.5,511.2 182.0,511.6 182.5,512.2 183.0,513.1 183.5,514.1 184.0,515.1 184.5,516.0 185.0,516.5 185.5,516.7 186.0,516.9 186.5,517.0 187.0,517.2 187.5,517.3 188.0,517.5 188.5,517.8 189.0,518.2 189.5,518.7 190.0,519.1 190.5,519.4 191.0,519.5 191.5,519.5 192.0,519.4 192.5,519.2 193.0,519.0 193.5,518.8 194.0,518.5 194.5,518.3 195.0,518.0 195.5,517.7 196.0,517.3 196.5,516.9 197.0,516.4 197.5,515.9 198.0,515.4 198.5,514.8 199.0,514.2 199.5,513.6 200.0,513.0 200.5,512.4 201.0,511.7 201.5,511.1 202.0,510.4 202.5,509.7 203.0,508.9 203.5,508.1 204.0,507.3 204.5,506.4 205.0,505.5 205.5,504.4 206.0,503.2 206.5,501.8 207.0,500.3 207.5,498.9 208.0,497.7 208.5,496.7 209.0,496.0 209.5,495.5 210.0,495.0 210.5,494.6 211.0,494.3 211.5,494.1 212.0,494.0 212.5,494.1 213.0,494.3 213.5,494.6 214.0,495.0 214.5,495.5 215.0,496.0 215.5,496.8 216.0,498.1 216.5,499.7 217.0,501.6 217.5,503.7 218.0,505.9 218.5,508.0 219.0,509.9 219.5,511.6 220.0,513.0 220.5,514.1 221.0,515.3 221.5,516.3 222.0,517.3 222.5,518.2 223.0,519.0 223.5,519.6 224.0,520.0 224.5,520.3 225.0,520.6 225.5,520.8 226.0,521.1 226.5,521.2 227.0,521.4 227.5,521.5 228.0,521.5 228.5,521.4 229.0,521.3 229.5,521.0 230.0,520.7 230.5,520.4 231.0,519.9 231.5,519.5 232.0,519.0 232.5,518.3 233.0,517.4 233.5,516.2 234.0,514.9 234.5,513.6 235.0,512.3 235.5,511.3 236.0,510.5 236.5,509.9 237.0,509.3 237.5,508.7 238.0,508.1 238.5,507.7 239.0,507.3 239.5,507.1 240.0,507.0 240.5,507.0 241.0,507.0 241.5,507.1 242.0,507.1 242.5,507.2 243.0,507.2 243.5,507.3 244.0,507.3 244.5,507.4 245.0,507.5 245.5,507.6 246.0,507.7 246.5,507.9 247.0,508.1 247.5,508.3 248.0,508.5 248.5,508.8 249.0,509.0 249.5,509.2 250.0,509.4 250.5,509.6 251.0,509.8 251.5,510.0 252.0,510.1 252.5,510.3 253.0,510.5 253.5,510.7 254.0,510.9 254.5,511.1 255.0,511.3 255.5,511.5 256.0,511.8 256.5,512.2 257.0,512.5 257.5,512.8 258.0,513.1 258.5,513.4 259.0,513.6 259.5,513.7 260.0,513.8 260.5,513.8 261.0,513.7 261.5,513.6 262.0,513.5 262.5,513.4 263.0,513.2 263.5,513.0 264.0,512.9 264.5,512.7 265.0,512.5 265.5,512.3 266.0,512.1 266.5,511.9 267.0,511.7 267.5,511.5 268.0,511.2 268.5,511.0 269.0,510.7 269.5,510.4 270.0,510.0 270.5,509.5 271.0,508.8 271.5,508.0 272.0,507.1 272.5,506.1 273.0,505.2 273.5,504.4 274.0,503.7 274.5,503.3 275.0,503.1 275.5,503.1 276.0,503.1 276.5,503.1 277.0,503.1 277.5,503.1 278.0,503.0 278.5,503.0 279.0,503.0 279.5,503.0 280.0,503.0 280.5,502.8 281.0,502.2 281.5,501.4 282.0,500.3 282.5,499.0 283.0,497.5 283.5,495.1 284.0,491.4 284.5,486.9 285.0,482.0 285.5,476.4 286.0,469.7 286.5,462.7 287.0,455.9 287.5,449.0 288.0,441.9 288.5,435.0 289.0,427.8 289.5,420.5 290.0,414.0 290.5,409.3 291.0,405.7 291.5,402.6 292.0,400.0 292.5,397.5 293.0,395.0 293.5,392.7 294.0,391.0 294.5,390.1 295.0,390.4 295.5,392.7 296.0,396.1 296.5,400.0 297.0,405.2 297.5,411.0 298.0,415.7 298.5,420.2 299.0,424.5 299.5,428.4 300.0,432.0 300.5,435.6 301.0,439.5 301.5,443.2 302.0,446.5 302.5,449.0 303.0,450.5 303.5,450.7 304.0,449.9 304.5,448.4 305.0,446.3 305.5,443.9 306.0,441.2 306.5,438.6 307.0,436.2 307.5,434.1 308.0,432.6 308.5,431.8 309.0,432.0 309.5,433.7 310.0,436.7 310.5,440.6 311.0,445.2 311.5,450.1 312.0,455.2 312.5,460.0 313.0,466.1 313.5,471.0 314.0,472.6 314.5,473.7 315.0,475.0 315.5,477.1 316.0,479.8 316.5,482.9 317.0,486.2 317.5,489.5 318.0,492.5 318.5,495.7 319.0,499.1 319.5,502.0 320.0,503.8 320.5,504.7 321.0,505.4 321.5,505.9 322.0,506.3 322.5,506.6 323.0,506.8 323.5,507.0 324.0,507.1 324.5,507.3 325.0,507.5 325.5,507.7 326.0,507.9 326.5,508.1 327.0,508.3 327.5,508.5 328.0,508.8 328.5,509.3 329.0,510.0 329.5,510.9 330.0,511.7 330.5,512.3 331.0,512.5 331.5,512.5 332.0,512.5 332.5,512.5 333.0,512.5 333.5,512.5 334.0,512.5 334.5,512.5 335.0,512.5 335.5,512.2 336.0,511.5 336.5,510.5 337.0,509.1 337.5,507.6 338.0,506.0 338.5,503.7 339.0,500.7 339.5,497.5 340.0,495.0 340.5,493.1 341.0,491.4 341.5,489.9 342.0,488.5 342.5,487.3 343.0,486.3 343.5,485.4 344.0,484.6 344.5,483.9 345.0,483.2 345.5,482.7 346.0,482.3 346.5,482.0 347.0,481.7 347.5,481.4 348.0,481.2 348.5,481.1 349.0,481.0 349.5,481.1 350.0,481.4 350.5,481.8 351.0,482.3 351.5,484.3 352.0,488.1 352.5,491.8 353.0,493.7 353.5,494.0 354.0,494.3 354.5,494.4 355.0,494.5 355.5,494.7 356.0,495.0 356.5,495.6 357.0,496.6 357.5,497.8 358.0,499.3 358.5,500.7 359.0,502.1 359.5,503.4 360.0,504.3 360.5,505.1 361.0,505.8 361.5,506.6 362.0,507.3 362.5,507.9 363.0,508.5 363.5,509.0 364.0,509.4 364.5,509.6 365.0,509.7 365.5,509.7 366.0,509.7 366.5,509.7 367.0,509.7 367.5,509.7 368.0,509.7 368.5,509.7 369.0,509.7 369.5,509.7 370.0,509.7 370.5,509.7 371.0,509.8 371.5,509.8 372.0,509.9 372.5,510.1 373.0,510.2 373.5,510.4 374.0,510.6 374.5,510.8 375.0,511.0 375.5,511.4 376.0,512.1 376.5,512.8 377.0,513.5 377.5,514.1 378.0,514.3 378.5,514.2 379.0,514.0 379.5,513.6 380.0,513.2 380.5,512.8 381.0,512.4 381.5,512.0 382.0,511.7 382.5,511.5 383.0,511.3 383.5,511.1 384.0,510.9 384.5,510.7 385.0,510.5 385.5,510.4 386.0,510.3 386.5,510.2 387.0,510.1 387.5,510.0 388.0,510.0 388.1,509.4 388.2,508.3 388.3,506.9 388.4,505.1 388.5,502.6 388.6,499.5 388.7,496.0 388.8,492.2 388.9,488.4 389.0,484.6 389.1,481.0 389.2,477.7 389.3,475.0 389.4,472.8 389.5,470.9 389.6,469.1 389.7,467.4 389.8,465.4 389.9,463.1 390.0,460.2 390.1,456.6 390.2,452.0 390.3,446.4 390.4,426.7 390.5,388.9 390.6,346.3 390.7,289.2 390.8,246.3 390.9,235.9 391.0,228.3 391.1,222.8 391.2,218.8 391.3,215.5 391.4,212.3 391.5,208.4 391.6,203.3 391.7,196.1 391.8,182.3 391.9,165.3 392.0,156.0 392.1,154.3 392.2,153.1 392.3,152.4 392.4,152.1 392.5,152.1 392.6,152.0 392.7,152.0 392.8,152.0 392.9,152.0 393.0,151.9 393.1,151.9 393.2,151.9 393.3,151.9 393.4,151.8 393.5,151.8 393.6,151.8 393.7,152.0 393.8,152.7 393.9,153.9 394.0,155.5 394.1,164.5 394.2,181.2 394.3,195.4 394.4,204.2 394.5,211.5 394.6,217.9 394.7,223.9 394.8,230.1 394.9,237.0 395.0,245.2 395.1,255.1 395.2,266.6 395.3,279.1 395.4,292.4 395.5,306.0 395.6,319.6 395.7,332.7 395.8,345.0 395.9,357.4 396.0,370.6 396.1,384.2 396.2,397.7 396.3,410.5 396.4,422.1 396.5,432.0 396.6,439.8 396.7,444.8 396.8,448.1 396.9,451.1 397.0,453.7 397.1,456.1 397.2,458.2 397.3,460.1 397.4,461.9 397.5,463.4 397.6,464.9 397.7,466.4 397.8,467.7 397.9,469.1 398.0,470.5 398.1,472.0 398.2,473.6 398.3,475.4 398.4,477.3 398.5,479.1 398.6,481.0 398.7,482.7 398.8,484.3 398.9,485.7 399.0,487.0 399.1,488.3 399.2,489.6 399.3,490.8 399.4,491.9 399.5,493.0 399.6,494.1 399.7,495.2 399.8,496.3 399.9,497.3 400.0,498.4 400.1,499.4 400.2,500.5 400.3,501.6 400.4,502.7 400.5,503.8 400.6,505.0 400.7,506.3 400.8,507.5 400.9,508.8 401.0,510.1 401.1,511.3 401.2,512.5 401.3,513.6 401.4,514.6 401.5,515.6 401.6,516.5 401.7,517.4 401.8,518.4 401.9,519.3 402.0,520.2 402.1,520.9 402.2,521.6 402.3,522.2 402.4,522.5 402.5,522.7 402.6,522.8 402.7,522.8 402.8,522.9 402.9,522.9 403.0,522.9 403.5,523.1 404.5,523.5 405.5,523.7 406.5,523.9 407.5,524.1 408.5,524.2 409.5,524.4 410.5,524.6 411.5,524.8 412.5,525.1 413.5,525.3 414.5,525.6 415.5,525.8 416.5,526.1 417.5,526.3 418.5,526.5 419.5,526.7 420.5,526.9 421.5,527.0 422.5,527.2 423.5,527.3 424.5,527.4 425.5,527.5 426.5,527.6 427.5,527.7 428.5,527.8 429.5,527.9 430.5,528.1 431.5,528.1 432.5,528.2 433.5,528.3 434.5,528.4 435.5,528.6 436.5,528.9 437.5,529.2 438.5,529.6 439.5,529.9 440.5,530.1 441.5,530.3 442.5,530.5 443.5,530.7 444.5,530.8 445.5,530.8 446.5,530.8 447.5,530.8 448.5,530.8 449.5,530.7 450.5,530.7 451.5,530.6 452.5,530.5 453.5,530.5 454.5,530.4 455.5,529.9 456.5,528.3 457.5,528.0 458.5,528.3 459.5,529.4 460.5,531.3 461.5,530.4 462.5,530.0 463.5,530.0 464.5,530.0 465.5,530.0 466.5,530.0 467.5,530.0 468.5,530.1 469.5,530.8 470.5,531.4 471.5,531.5 472.5,531.5 473.5,531.5 474.5,531.5 475.5,531.5 476.5,531.5 477.5,531.5 478.5,531.5 479.5,531.4 480.5,531.4 481.5,531.4 482.5,531.3 483.5,531.3 484.5,531.2 485.5,531.2 486.5,531.0 487.5,530.7 488.5,530.5 489.5,530.3 490.5,530.1 491.5,530.0 492.5,529.9 493.5,529.8 494.5,529.7 495.5,529.6 496.5,529.6 497.5,529.5 498.5,529.5 499.5,529.5 500.5,529.6 501.5,529.8 502.5,530.0 503.5,530.2 504.5,530.4 505.5,530.6 506.5,530.9 507.5,531.2 508.5,531.4 509.5,531.5 510.5,531.5 511.5,531.5 512.5,531.5 513.5,531.5 514.5,531.5 515.5,531.5 516.5,531.5 517.5,531.5 518.5,531.5 519.5,531.5 520.5,531.5 521.5,531.5 522.5,531.5 523.5,531.5 524.5,531.5 525.5,531.5 526.5,531.5 527.5,531.5 528.5,531.5 529.5,531.5 530.5,531.5 531.5,531.5 532.5,531.5 533.5,531.5 534.5,531.5 535.5,531.5 536.5,531.5 537.5,531.5 538.5,531.5 539.5,531.5 540.5,531.5 541.5,531.5 542.5,531.5 543.5,531.5 544.5,531.5 545.5,531.5 546.5,531.5 547.5,531.5 548.5,531.5 549.5,531.5 550.5,531.5 551.5,531.5 552.5,531.5 553.5,531.5 554.5,531.5 555.5,531.5 556.5,531.5 557.5,531.5 558.5,531.5 559.5,531.5 560.5,531.5 561.5,531.5 562.5,531.5 563.5,531.5 564.5,531.5 565.5,531.5 566.5,531.5 567.5,531.5 568.5,531.5 569.5,531.5 570.5,531.5 571.5,531.5 572.5,531.5 573.5,531.5 574.5,531.5 575.5,531.5 576.5,531.6 577.5,531.6 578.5,531.6 579.5,531.6 580.5,531.6 581.5,531.6 582.5,531.6 583.5,531.6 584.5,531.6 585.5,531.6 586.5,531.6 587.5,531.6 588.5,531.6 589.5,531.6 590.5,531.6 591.5,531.6 592.5,531.6 593.5,531.6 594.5,531.6 595.5,531.6 596.5,531.6 597.5,531.6 598.5,531.6 599.5,531.6 600.5,531.6 601.5,531.6 602.5,531.6 603.5,531.6 604.5,531.6 605.5,531.6 606.5,531.6 607.5,531.6 608.5,531.6 609.5,531.6 610.5,531.6 611.5,531.6 612.5,531.6 613.5,531.6 614.5,531.6 615.5,531.6 616.5,531.6 617.5,531.6 618.5,531.6 619.5,531.6 620.5,531.6 621.5,531.6 622.5,531.6 623.5,531.6 624.5,531.6 625.5,531.6 626.5,531.6 627.5,531.6 628.5,531.6 629.5,531.6 630.5,531.6 631.5,531.6 632.5,531.6 633.5,531.6 634.5,531.6 635.5,531.6 636.5,531.6 637.5,531.6 638.5,531.6 639.5,531.6 640.5,531.6 641.5,531.6 642.5,531.6 643.5,531.6 644.5,531.7 645.5,531.7 646.5,531.7 647.5,531.7 648.5,531.7 649.5,531.7 650.5,531.7 651.5,531.7 652.5,531.7 653.5,531.7 654.5,531.7 655.5,531.7 656.5,531.7 657.5,531.7 658.5,531.7 659.5,531.7 660.5,531.7 661.5,531.7 662.5,531.7 663.5,531.7 664.5,531.7 665.5,531.7 666.5,531.7 667.5,531.7 668.5,531.7 669.5,531.7 670.5,531.7 671.5,531.7 672.5,531.7 673.5,531.7 674.5,531.7 675.5,531.7 676.5,531.7 677.5,531.7 678.5,531.7 679.5,531.7 680.5,531.7 681.5,531.7 682.5,531.7 683.5,531.7 684.5,531.7 685.5,531.7 686.5,531.7 687.5,531.7 688.5,531.7 689.5,531.7 690.5,531.7 691.5,531.8 692.5,531.8 693.5,531.8 694.5,531.8 695.5,531.8 696.5,531.8 697.5,531.8 698.5,531.8 699.5,531.8 700.5,531.8 701.5,531.8 702.5,531.8 703.5,531.8 704.5,531.8 705.5,531.8 706.5,531.8 707.5,531.8 708.5,531.8 709.5,531.8 710.5,531.8 711.5,531.8 711.50,532.3" fill="#7088b0"/>
<polygon points="68.50,532.3 68.5,532.0 69.0,532.0 69.5,532.0 70.0,532.0 70.5,532.0 71.0,532.0 71.5,532.0 72.0,532.0 72.5,532.0 73.0,532.0 73.5,532.0 74.0,532.0 74.5,532.0 75.0,532.0 75.5,532.0 76.0,532.0 76.5,532.0 77.0,532.0 77.5,532.0 78.0,532.0 78.5,532.0 79.0,532.0 79.5,532.0 80.0,532.0 80.5,532.0 81.0,532.0 81.5,532.0 82.0,532.0 82.5,532.0 83.0,532.0 83.5,532.0 84.0,532.0 84.5,532.0 85.0,532.0 85.5,532.0 86.0,532.0 86.5,532.0 87.0,532.0 87.5,532.0 88.0,532.0 88.5,532.0 89.0,532.0 89.5,531.9 90.0,531.6 90.5,531.2 91.0,531.1 91.5,531.1 92.0,531.0 92.5,531.0 93.0,531.0 93.5,531.0 94.0,530.9 94.5,530.9 95.0,530.9 95.5,530.8 96.0,530.8 96.5,530.7 97.0,530.7 97.5,530.7 98.0,530.6 98.5,530.6 99.0,530.6 99.5,530.5 100.0,530.5 100.5,530.4 101.0,530.4 101.5,530.4 102.0,530.3 102.5,530.3 103.0,530.2 103.5,530.2 104.0,530.1 104.5,530.1 105.0,530.0 105.5,530.0 106.0,530.0 106.5,529.9 107.0,529.9 107.5,529.8 108.0,529.8 108.5,529.7 109.0,529.6 109.5,529.6 110.0,529.5 110.5,529.5 111.0,529.4 111.5,529.4 112.0,529.3 112.5,529.2 113.0,529.2 113.5,529.1 114.0,529.0 114.5,528.9 115.0,528.9 115.5,528.8 116.0,528.7 116.5,528.6 117.0,528.6 117.5,528.5 118.0,528.4 118.5,528.3 119.0,528.3 119.5,528.2 120.0,528.1 120.5,528.1 121.0,528.0 121.5,527.9 122.0,527.9 122.5,527.8 123.0,527.7 123.5,527.7 124.0,527.6 124.5,527.6 125.0,527.5 125.5,527.5 126.0,527.4 126.5,527.4 127.0,527.3 127.5,527.3 128.0,527.3 128.5,527.2 129.0,527.2 129.5,527.2 130.0,527.1 130.5,527.0 131.0,527.0 131.5,526.9 132.0,526.8 132.5,526.7 133.0,526.6 133.5,526.5 134.0,526.4 134.5,526.3 135.0,526.2 135.5,526.1 136.0,526.0 136.5,525.9 137.0,525.9 137.5,525.8 138.0,525.7 138.5,525.6 139.0,525.5 139.5,525.4 140.0,525.3 140.5,525.2 141.0,525.0 141.5,524.9 142.0,524.7 142.5,524.5 143.0,524.3 143.5,524.2 144.0,524.1 144.5,524.0 145.0,523.9 145.5,523.9 146.0,523.8 146.5,523.8 147.0,523.8 147.5,523.8 148.0,523.7 148.5,523.7 149.0,523.7 149.5,523.7 150.0,523.7 150.5,523.7 151.0,523.7 151.5,523.8 152.0,523.9 152.5,523.9 153.0,524.0 153.5,524.1 154.0,524.2 154.5,524.2 155.0,524.3 155.5,524.4 156.0,524.4 156.5,524.5 157.0,524.5 157.5,524.6 158.0,524.6 158.5,524.7 159.0,524.7 159.5,524.8 160.0,524.8 160.5,524.9 161.0,524.9 161.5,525.0 162.0,525.0 162.5,525.1 163.0,525.2 163.5,525.2 164.0,525.3 164.5,525.3 165.0,525.3 165.5,525.3 166.0,525.2 166.5,525.1 167.0,524.9 167.5,524.8 168.0,524.7 168.5,524.5 169.0,524.4 169.5,524.3 170.0,524.3 170.5,524.3 171.0,524.3 171.5,524.4 172.0,524.4 172.5,524.5 173.0,524.5 173.5,524.6 174.0,524.7 174.5,524.7 175.0,524.8 175.5,524.9 176.0,525.0 176.5,525.1 177.0,525.2 177.5,525.4 178.0,525.5 178.5,525.6 179.0,525.7 179.5,525.8 180.0,525.8 180.5,525.9 181.0,525.9 181.5,526.0 182.0,526.0 182.5,526.1 183.0,526.1 183.5,526.2 184.0,526.2 184.5,526.2 185.0,526.3 185.5,526.4 186.0,526.4 186.5,526.5 187.0,526.6 187.5,526.7 188.0,526.7 188.5,526.8 189.0,526.9 189.5,526.9 190.0,527.0 190.5,527.0 191.0,527.0 191.5,527.0 192.0,527.0 192.5,526.9 193.0,526.8 193.5,526.8 194.0,526.7 194.5,526.6 195.0,526.5 195.5,526.4 196.0,526.3 196.5,526.1 197.0,526.0 197.5,525.8 198.0,525.6 198.5,525.3 199.0,525.1 199.5,524.8 200.0,524.5 200.5,524.1 201.0,523.6 201.5,522.9 202.0,522.1 202.5,521.2 203.0,520.3 203.5,519.2 204.0,518.2 204.5,517.1 205.0,516.0 205.5,514.7 206.0,513.2 206.5,511.4 207.0,509.6 207.5,507.9 208.0,506.3 208.5,505.0 209.0,504.0 209.5,503.3 210.0,502.6 210.5,502.0 211.0,501.5 211.5,501.1 212.0,501.0 212.5,501.1 213.0,501.2 213.5,501.5 214.0,501.8 214.5,502.1 215.0,502.5 215.5,503.1 216.0,504.0 216.5,505.1 217.0,506.5 217.5,508.0 218.0,509.5 218.5,511.0 219.0,512.5 219.5,513.9 220.0,515.0 220.5,516.1 221.0,517.2 221.5,518.3 222.0,519.3 222.5,519.6 223.0,520.4 223.5,521.0 224.0,521.4 224.5,521.6 225.0,521.8 225.5,522.0 226.0,522.1 226.5,522.2 227.0,522.3 227.5,522.4 228.0,522.4 228.5,522.4 229.0,522.3 229.5,522.1 230.0,521.9 230.5,521.7 231.0,521.4 231.5,521.2 232.0,520.9 232.5,520.6 233.0,520.3 233.5,519.9 234.0,519.5 234.5,519.1 235.0,518.7 235.5,518.3 236.0,517.9 236.5,517.5 237.0,517.0 237.5,516.6 238.0,516.1 238.5,515.7 239.0,515.3 239.5,515.0 240.0,514.9 240.5,514.8 241.0,514.8 241.5,514.8 242.0,514.7 242.5,514.7 243.0,514.7 243.5,514.6 244.0,514.6 244.5,514.6 245.0,514.6 245.5,514.6 246.0,514.6 246.5,514.6 247.0,514.6 247.5,514.6 248.0,514.6 248.5,514.6 249.0,514.7 249.5,514.7 250.0,514.7 250.5,514.8 251.0,515.0 251.5,515.3 252.0,515.7 252.5,516.1 253.0,516.6 253.5,517.1 254.0,517.5 254.5,518.0 255.0,519.0 255.5,519.4 256.0,519.8 256.5,520.2 257.0,520.6 257.5,521.1 258.0,521.5 258.5,521.9 259.0,522.2 259.5,522.5 260.0,522.8 260.5,523.0 261.0,523.3 261.5,523.5 262.0,523.7 262.5,523.9 263.0,524.1 263.5,524.2 264.0,524.4 264.5,524.5 265.0,524.6 265.5,524.7 266.0,524.8 266.5,524.9 267.0,525.0 267.5,525.1 268.0,525.2 268.5,525.2 269.0,525.3 269.5,525.3 270.0,525.3 270.5,525.3 271.0,525.3 271.5,525.3 272.0,525.3 272.5,525.3 273.0,525.3 273.5,525.3 274.0,525.3 274.5,525.3 275.0,525.3 275.5,525.3 276.0,525.3 276.5,525.3 277.0,525.3 277.5,525.3 278.0,525.3 278.5,525.3 279.0,525.3 279.5,525.3 280.0,525.3 280.5,525.3 281.0,525.3 281.5,525.2 282.0,525.2 282.5,525.1 283.0,525.0 283.5,524.9 284.0,524.7 284.5,524.4 285.0,524.0 285.5,521.3 286.0,517.0 286.5,513.2 287.0,509.0 287.5,503.8 288.0,497.8 288.5,492.4 289.0,489.0 289.5,487.1 290.0,485.5 290.5,484.4 291.0,484.0 291.5,484.0 292.0,484.0 292.5,484.0 293.0,484.0 293.5,484.4 294.0,485.5 294.5,486.7 295.0,487.8 295.5,488.7 296.0,489.7 296.5,490.7 297.0,491.7 297.5,492.6 298.0,493.5 298.5,494.2 299.0,494.8 299.5,495.2 300.0,495.3 300.5,495.0 301.0,494.3 301.5,493.2 302.0,491.9 302.5,490.3 303.0,488.7 303.5,487.0 304.0,485.4 304.5,484.0 305.0,482.8 305.5,481.7 306.0,480.5 306.5,479.4 307.0,478.4 307.5,477.6 308.0,477.1 308.5,477.1 309.0,477.7 309.5,479.0 310.0,480.6 310.5,482.3 311.0,484.0 311.5,485.7 312.0,487.7 312.5,489.9 313.0,492.2 313.5,494.6 314.0,497.0 314.5,499.3 315.0,501.5 315.5,503.7 316.0,506.0 316.5,508.2 317.0,510.3 317.5,512.3 318.0,514.0 318.5,515.5 319.0,516.9 319.5,518.0 320.0,519.0 320.5,519.9 321.0,520.7 321.5,521.3 322.0,521.5 322.5,521.3 323.0,520.9 323.5,520.2 324.0,519.6 324.5,519.2 325.0,519.0 325.5,519.0 326.0,519.1 326.5,519.2 327.0,519.3 327.5,519.5 328.0,519.6 328.5,519.8 329.0,520.2 329.5,520.6 330.0,521.0 330.5,521.3 331.0,521.5 331.5,521.6 332.0,521.7 332.5,521.8 333.0,521.8 333.5,521.9 334.0,521.9 334.5,522.0 335.0,522.0 335.5,522.0 336.0,522.0 336.5,522.1 337.0,522.1 337.5,522.1 338.0,522.1 338.5,522.0 339.0,521.8 339.5,521.4 340.0,521.0 340.5,520.4 341.0,519.4 341.5,518.1 342.0,516.7 342.5,515.3 343.0,514.0 343.5,512.7 344.0,511.4 344.5,510.0 345.0,508.6 345.5,507.3 346.0,506.0 346.5,504.7 347.0,503.4 347.5,502.1 348.0,500.9 348.5,500.0 349.0,499.3 349.5,498.8 350.0,498.4 350.5,498.1 351.0,498.0 351.5,498.8 352.0,500.6 352.5,502.6 353.0,504.0 353.5,504.7 354.0,505.3 354.5,505.7 355.0,506.2 355.5,506.7 356.0,507.3 356.5,508.1 357.0,509.0 357.5,510.1 358.0,511.2 358.5,512.3 359.0,513.4 359.5,514.4 360.0,515.3 360.5,516.1 361.0,517.0 361.5,517.8 362.0,518.6 362.5,519.4 363.0,520.1 363.5,520.7 364.0,521.3 364.5,521.7 365.0,522.0 365.5,522.2 366.0,522.4 366.5,522.6 367.0,522.8 367.5,522.9 368.0,523.1 368.5,523.2 369.0,523.2 369.5,523.3 370.0,523.3 370.5,523.3 371.0,523.2 371.5,523.2 372.0,523.1 372.5,523.0 373.0,522.9 373.5,522.8 374.0,522.8 374.5,522.7 375.0,522.7 375.5,522.7 376.0,522.9 376.5,523.0 377.0,523.1 377.5,523.3 378.0,523.3 378.5,523.2 379.0,523.1 379.5,522.9 380.0,522.6 380.5,522.3 381.0,522.0 381.5,521.8 382.0,521.5 382.5,521.3 383.0,521.0 383.5,520.8 384.0,520.6 384.5,520.3 385.0,520.1 385.5,519.8 386.0,519.5 386.5,519.1 387.0,518.8 387.5,518.6 388.0,518.5 388.1,517.9 388.2,516.7 388.3,515.3 388.4,513.4 388.5,510.8 388.6,507.7 388.7,504.2 388.8,500.4 388.9,496.5 389.0,492.6 389.1,489.0 389.2,485.7 389.3,482.9 389.4,480.7 389.5,478.7 389.6,477.0 389.7,475.2 389.8,473.2 389.9,470.8 390.0,467.8 390.1,464.2 390.2,459.6 390.3,454.0 390.4,434.2 390.5,396.4 390.6,353.8 390.7,296.6 390.8,253.6 390.9,243.2 391.0,235.5 391.1,230.0 391.2,225.9 391.3,222.6 391.4,219.4 391.5,215.5 391.6,210.3 391.7,203.0 391.8,189.2 391.9,172.2 392.0,162.8 392.1,161.1 392.2,159.9 392.3,159.1 392.4,158.7 392.5,158.7 392.6,158.6 392.7,158.5 392.8,158.5 392.9,158.4 393.0,158.3 393.1,158.3 393.2,158.2 393.3,158.1 393.4,158.1 393.5,158.0 393.6,157.9 393.7,158.1 393.8,158.8 393.9,159.9 394.0,161.5 394.1,170.4 394.2,187.1 394.3,201.3 394.4,210.0 394.5,217.2 394.6,223.6 394.7,229.6 394.8,235.8 394.9,242.6 395.0,250.8 395.1,260.7 395.2,272.0 395.3,284.5 395.4,297.8 395.5,311.4 395.6,324.9 395.7,338.0 395.8,350.3 395.9,362.6 396.0,375.8 396.1,389.3 396.2,402.7 396.3,415.5 396.4,427.1 396.5,437.0 396.6,444.7 396.7,449.7 396.8,452.9 396.9,455.9 397.0,458.5 397.1,460.8 397.2,462.9 397.3,464.7 397.4,466.4 397.5,468.0 397.6,469.4 397.7,470.8 397.8,472.1 397.9,473.5 398.0,474.9 398.1,476.3 398.2,477.9 398.3,479.6 398.4,481.4 398.5,483.2 398.6,485.0 398.7,486.7 398.8,488.2 398.9,489.6 399.0,490.9 399.1,492.2 399.2,493.4 399.3,494.5 399.4,495.6 399.5,496.7 399.6,497.8 399.7,498.8 399.8,499.8 399.9,500.8 400.0,501.8 400.1,502.9 400.2,503.9 400.3,504.9 400.4,506.0 400.5,507.1 400.6,508.3 400.7,509.4 400.8,510.7 400.9,511.9 401.0,513.1 401.1,514.3 401.2,515.4 401.3,516.5 401.4,517.5 401.5,518.4 401.6,519.3 401.7,520.2 401.8,521.1 401.9,522.0 402.0,522.8 402.1,523.5 402.2,524.2 402.3,524.7 402.4,525.0 402.5,525.2 402.6,525.2 402.7,525.2 402.8,525.2 402.9,525.3 403.0,525.3 403.5,525.4 404.5,525.7 405.5,525.9 406.5,526.0 407.5,526.2 408.5,526.3 409.5,526.4 410.5,526.6 411.5,526.7 412.5,526.9 413.5,527.0 414.5,527.2 415.5,527.3 416.5,527.5 417.5,527.6 418.5,527.8 419.5,527.9 420.5,528.1 421.5,528.2 422.5,528.4 423.5,528.5 424.5,528.7 425.5,528.8 426.5,529.0 427.5,529.1 428.5,529.2 429.5,529.2 430.5,529.2 431.5,529.2 432.5,529.2 433.5,529.2 434.5,529.2 435.5,529.2 436.5,529.4 437.5,529.6 438.5,529.8 439.5,530.0 440.5,530.1 441.5,530.3 442.5,530.5 443.5,530.7 444.5,530.8 445.5,530.8 446.5,530.8 447.5,530.8 448.5,530.8 449.5,530.7 450.5,530.7 451.5,530.6 452.5,530.5 453.5,530.5 454.5,530.4 455.5,529.9 456.5,528.3 457.5,528.1 458.5,528.4 459.5,529.4 460.5,531.3 461.5,530.4 462.5,530.0 463.5,530.0 464.5,530.0 465.5,530.0 466.5,530.0 467.5,530.0 468.5,530.1 469.5,530.8 470.5,531.4 471.5,531.5 472.5,531.5 473.5,531.5 474.5,531.5 475.5,531.5 476.5,531.5 477.5,531.5 478.5,531.5 479.5,531.4 480.5,531.4 481.5,531.4 482.5,531.3 483.5,531.3 484.5,531.2 485.5,531.2 486.5,531.0 487.5,530.7 488.5,530.5 489.5,530.5 490.5,530.5 491.5,530.5 492.5,530.5 493.5,530.5 494.5,530.5 495.5,530.5 496.5,530.5 497.5,530.5 498.5,530.5 499.5,530.5 500.5,530.5 501.5,530.5 502.5,530.5 503.5,530.5 504.5,530.5 505.5,530.6 506.5,530.9 507.5,531.2 508.5,531.4 509.5,531.5 510.5,531.5 511.5,531.5 512.5,531.5 513.5,531.5 514.5,531.5 515.5,531.5 516.5,531.5 517.5,531.5 518.5,531.5 519.5,531.5 520.5,531.5 521.5,531.5 522.5,531.5 523.5,531.5 524.5,531.5 525.5,531.5 526.5,531.5 527.5,531.5 528.5,531.5 529.5,531.5 530.5,531.5 531.5,531.5 532.5,531.5 533.5,531.5 534.5,531.5 535.5,531.5 536.5,531.5 537.5,531.5 538.5,531.5 539.5,531.5 540.5,531.5 541.5,531.5 542.5,531.5 543.5,531.5 544.5,531.5 545.5,531.5 546.5,531.5 547.5,531.5 548.5,531.5 549.5,531.5 550.5,531.5 551.5,531.5 552.5,531.5 553.5,531.5 554.5,531.5 555.5,531.5 556.5,531.5 557.5,531.5 558.5,531.5 559.5,531.5 560.5,531.5 561.5,531.5 562.5,531.5 563.5,531.5 564.5,531.5 565.5,531.5 566.5,531.5 567.5,531.5 568.5,531.5 569.5,531.5 570.5,531.5 571.5,531.5 572.5,531.5 573.5,531.5 574.5,531.5 575.5,531.5 576.5,531.6 577.5,531.6 578.5,531.6 579.5,531.6 580.5,531.6 581.5,531.6 582.5,531.6 583.5,531.6 584.5,531.6 585.5,531.6 586.5,531.6 587.5,531.6 588.5,531.6 589.5,531.6 590.5,531.6 591.5,531.6 592.5,531.6 593.5,531.6 594.5,531.6 595.5,531.6 596.5,531.6 597.5,531.6 598.5,531.6 599.5,531.6 600.5,531.6 601.5,531.6 602.5,531.6 603.5,531.6 604.5,531.6 605.5,531.6 606.5,531.6 607.5,531.6 608.5,531.6 609.5,531.6 610.5,531.6 611.5,531.6 612.5,531.6 613.5,531.6 614.5,531.6 615.5,531.6 616.5,531.6 617.5,531.6 618.5,531.6 619.5,531.6 620.5,531.6 621.5,531.6 622.5,531.6 623.5,531.6 624.5,531.6 625.5,531.6 626.5,531.6 627.5,531.6 628.5,531.6 629.5,531.6 630.5,531.6 631.5,531.6 632.5,531.6 633.5,531.6 634.5,531.6 635.5,531.6 636.5,531.6 637.5,531.6 638.5,531.6 639.5,531.6 640.5,531.6 641.5,531.6 642.5,531.6 643.5,531.6 644.5,531.7 645.5,531.7 646.5,531.7 647.5,531.7 648.5,531.7 649.5,531.7 650.5,531.7 651.5,531.7 652.5,531.7 653.5,531.7 654.5,531.7 655.5,531.7 656.5,531.7 657.5,531.7 658.5,531.7 659.5,531.7 660.5,531.7 661.5,531.7 662.5,531.7 663.5,531.7 664.5,531.7 665.5,531.7 666.5,531.7 667.5,531.7 668.5,531.7 669.5,531.7 670.5,531.7 671.5,531.7 672.5,531.7 673.5,531.7 674.5,531.7 675.5,531.7 676.5,531.7 677.5,531.7 678.5,531.7 679.5,531.7 680.5,531.7 681.5,531.7 682.5,531.7 683.5,531.7 684.5,531.7 685.5,531.7 686.5,531.7 687.5,531.7 688.5,531.7 689.5,531.7 690.5,531.7 691.5,531.8 692.5,531.8 693.5,531.8 694.5,531.8 695.5,531.8 696.5,531.8 697.5,531.8 698.5,531.8 699.5,531.8 700.5,531.8 701.5,531.8 702.5,531.8 703.5,531.8 704.5,531.8 705.5,531.8 706.5,531.8 707.5,531.8 708.5,531.8 709.5,531.8 710.5,531.8 711.5,531.8 711.50,532.3" fill="#b577b0"/>
<polygon points="68.50,532.3 68.5,532.2 69.0,532.2 69.5,532.2 70.0,532.2 70.5,532.2 71.0,532.2 71.5,532.2 72.0,532.2 72.5,532.2 73.0,532.2 73.5,532.2 74.0,532.2 74.5,532.2 75.0,532.2 75.5,532.2 76.0,532.2 76.5,532.2 77.0,532.2 77.5,532.2 78.0,532.2 78.5,532.2 79.0,532.2 79.5,532.2 80.0,532.2 80.5,532.2 81.0,532.2 81.5,532.2 82.0,532.2 82.5,532.2 83.0,532.2 83.5,532.2 84.0,532.2 84.5,532.2 85.0,532.2 85.5,532.2 86.0,532.2 86.5,532.2 87.0,532.2 87.5,532.2 88.0,532.2 88.5,532.2 89.0,532.2 89.5,532.2 90.0,532.2 90.5,532.1 91.0,532.1 91.5,532.1 92.0,532.0 92.5,532.0 93.0,532.0 93.5,532.0 94.0,531.9 94.5,531.9 95.0,531.9 95.5,531.8 96.0,531.8 96.5,531.7 97.0,531.7 97.5,531.7 98.0,531.6 98.5,531.6 99.0,531.6 99.5,531.5 100.0,531.5 100.5,531.4 101.0,531.4 101.5,531.4 102.0,531.3 102.5,531.3 103.0,531.2 103.5,531.2 104.0,531.1 104.5,531.1 105.0,531.0 105.5,531.0 106.0,531.0 106.5,530.9 107.0,530.9 107.5,530.8 108.0,530.8 108.5,530.7 109.0,530.6 109.5,530.6 110.0,530.5 110.5,530.5 111.0,530.4 111.5,530.4 112.0,530.3 112.5,530.2 113.0,530.2 113.5,530.1 114.0,530.0 114.5,529.9 115.0,529.9 115.5,529.8 116.0,529.7 116.5,529.6 117.0,529.6 117.5,529.5 118.0,529.4 118.5,529.3 119.0,529.3 119.5,529.2 120.0,529.1 120.5,529.1 121.0,529.0 121.5,528.9 122.0,528.9 122.5,528.8 123.0,528.7 123.5,528.7 124.0,528.6 124.5,528.6 125.0,528.5 125.5,528.5 126.0,528.4 126.5,528.4 127.0,528.3 127.5,528.3 128.0,528.3 128.5,528.2 129.0,528.2 129.5,528.2 130.0,528.1 130.5,528.0 131.0,528.0 131.5,527.9 132.0,527.8 132.5,527.7 133.0,527.6 133.5,527.5 134.0,527.4 134.5,527.3 135.0,527.2 135.5,527.1 136.0,527.0 136.5,526.9 137.0,526.9 137.5,526.8 138.0,526.7 138.5,526.6 139.0,526.5 139.5,526.4 140.0,526.3 140.5,526.2 141.0,526.0 141.5,525.9 142.0,525.7 142.5,525.5 143.0,525.3 143.5,525.2 144.0,525.1 144.5,525.0 145.0,524.9 145.5,524.9 146.0,524.8 146.5,524.8 147.0,524.8 147.5,524.8 148.0,524.7 148.5,524.7 149.0,524.7 149.5,524.7 150.0,524.7 150.5,524.7 151.0,524.7 151.5,524.8 152.0,524.9 152.5,524.9 153.0,525.0 153.5,525.1 154.0,525.2 154.5,525.2 155.0,525.3 155.5,525.4 156.0,525.4 156.5,525.5 157.0,525.5 157.5,525.6 158.0,525.6 158.5,525.7 159.0,525.7 159.5,525.8 160.0,525.8 160.5,525.9 161.0,525.9 161.5,526.0 162.0,526.0 162.5,526.1 163.0,526.2 163.5,526.2 164.0,526.3 164.5,526.3 165.0,526.3 165.5,526.3 166.0,526.2 166.5,526.1 167.0,525.9 167.5,525.8 168.0,525.7 168.5,525.5 169.0,525.4 169.5,525.3 170.0,525.3 170.5,525.3 171.0,525.3 171.5,525.4 172.0,525.4 172.5,525.5 173.0,525.5 173.5,525.6 174.0,525.7 174.5,525.7 175.0,525.8 175.5,525.9 176.0,526.0 176.5,526.1 177.0,526.2 177.5,526.4 178.0,526.5 178.5,526.6 179.0,526.7 179.5,526.8 180.0,526.8 180.5,526.9 181.0,526.9 181.5,527.0 182.0,527.0 182.5,527.1 183.0,527.1 183.5,527.2 184.0,527.2 184.5,527.2 185.0,527.3 185.5,527.4 186.0,527.4 186.5,527.5 187.0,527.6 187.5,527.7 188.0,527.7 188.5,527.8 189.0,527.9 189.5,527.9 190.0,528.0 190.5,528.0 191.0,528.0 191.5,528.0 192.0,528.0 192.5,527.9 193.0,527.8 193.5,527.8 194.0,527.7 194.5,527.6 195.0,527.5 195.5,527.4 196.0,527.3 196.5,527.1 197.0,527.0 197.5,526.8 198.0,526.6 198.5,526.3 199.0,526.1 199.5,525.8 200.0,525.5 200.5,525.1 201.0,524.6 201.5,523.9 202.0,523.1 202.5,522.2 203.0,521.3 203.5,520.2 204.0,519.2 204.5,518.1 205.0,517.0 205.5,515.7 206.0,514.2 206.5,512.4 207.0,510.6 207.5,508.9 208.0,507.3 208.5,506.0 209.0,505.0 209.5,504.3 210.0,503.6 210.5,503.0 211.0,502.5 211.5,502.1 212.0,502.0 212.5,502.1 213.0,502.2 213.5,502.5 214.0,502.8 214.5,503.1 215.0,503.5 215.5,504.1 216.0,505.0 216.5,506.1 217.0,507.5 217.5,509.0 218.0,510.5 218.5,512.0 219.0,513.5 219.5,514.9 220.0,516.0 220.5,517.1 221.0,518.2 221.5,519.3 222.0,520.3 222.5,521.2 223.0,522.0 223.5,522.6 224.0,523.0 224.5,523.2 225.0,523.4 225.5,523.6 226.0,523.7 226.5,523.8 227.0,523.9 227.5,524.0 228.0,524.0 228.5,524.0 229.0,523.9 229.5,523.7 230.0,523.5 230.5,523.3 231.0,523.0 231.5,522.8 232.0,522.5 232.5,522.2 233.0,521.9 233.5,521.5 234.0,521.1 234.5,520.7 235.0,520.3 235.5,519.9 236.0,519.5 236.5,519.1 237.0,518.6 237.5,518.2 238.0,517.7 238.5,517.3 239.0,516.9 239.5,516.6 240.0,516.5 240.5,516.4 241.0,516.4 241.5,516.4 242.0,516.3 242.5,516.3 243.0,516.3 243.5,516.2 244.0,516.2 244.5,516.2 245.0,516.2 245.5,516.2 246.0,516.2 246.5,516.2 247.0,516.2 247.5,516.2 248.0,516.2 248.5,516.2 249.0,516.3 249.5,516.3 250.0,516.3 250.5,516.4 251.0,516.6 251.5,516.9 252.0,517.3 252.5,517.7 253.0,518.2 253.5,518.7 254.0,519.1 254.5,519.6 255.0,520.0 255.5,520.4 256.0,520.8 256.5,521.2 257.0,521.6 257.5,522.1 258.0,522.5 258.5,522.9 259.0,523.2 259.5,523.5 260.0,523.8 260.5,524.0 261.0,524.3 261.5,524.5 262.0,524.7 262.5,524.9 263.0,525.1 263.5,525.2 264.0,525.4 264.5,525.5 265.0,525.6 265.5,525.7 266.0,525.8 266.5,525.9 267.0,526.0 267.5,526.1 268.0,526.2 268.5,526.2 269.0,526.3 269.5,526.3 270.0,526.3 270.5,526.3 271.0,526.3 271.5,526.3 272.0,526.3 272.5,526.3 273.0,526.3 273.5,526.3 274.0,526.3 274.5,526.3 275.0,526.3 275.5,526.3 276.0,526.3 276.5,526.3 277.0,526.3 277.5,526.3 278.0,526.3 278.5,526.3 279.0,526.3 279.5,526.3 280.0,526.3 280.5,526.3 281.0,526.3 281.5,526.2 282.0,526.2 282.5,526.1 283.0,526.0 283.5,525.9 284.0,525.7 284.5,525.4 285.0,525.0 285.5,522.3 286.0,518.0 286.5,514.2 287.0,510.0 287.5,504.8 288.0,498.8 288.5,493.4 289.0,490.0 289.5,488.1 290.0,486.5 290.5,485.4 291.0,485.0 291.5,485.0 292.0,485.0 292.5,485.0 293.0,485.0 293.5,485.4 294.0,486.5 294.5,487.7 295.0,488.8 295.5,489.7 296.0,490.7 296.5,491.7 297.0,492.7 297.5,493.6 298.0,494.5 298.5,495.2 299.0,495.8 299.5,496.2 300.0,496.3 300.5,496.0 301.0,495.3 301.5,494.2 302.0,492.9 302.5,491.3 303.0,489.7 303.5,488.0 304.0,486.4 304.5,485.0 305.0,483.8 305.5,482.7 306.0,481.5 306.5,480.4 307.0,479.4 307.5,478.6 308.0,478.1 308.5,478.1 309.0,478.7 309.5,480.0 310.0,481.6 310.5,483.3 311.0,485.0 311.5,486.7 312.0,488.7 312.5,490.9 313.0,493.2 313.5,495.6 314.0,498.0 314.5,500.3 315.0,502.5 315.5,504.7 316.0,507.0 316.5,509.2 317.0,511.3 317.5,513.3 318.0,515.0 318.5,516.5 319.0,517.9 319.5,519.0 320.0,520.0 320.5,520.9 321.0,521.7 321.5,522.3 322.0,522.5 322.5,522.3 323.0,521.9 323.5,521.2 324.0,520.6 324.5,520.2 325.0,520.0 325.5,520.0 326.0,520.1 326.5,520.2 327.0,520.3 327.5,520.5 328.0,520.6 328.5,520.8 329.0,521.2 329.5,521.6 330.0,522.0 330.5,522.3 331.0,522.5 331.5,522.6 332.0,522.7 332.5,522.8 333.0,522.8 333.5,522.9 334.0,522.9 334.5,523.0 335.0,523.0 335.5,523.0 336.0,523.0 336.5,523.1 337.0,523.1 337.5,523.1 338.0,523.1 338.5,523.0 339.0,522.8 339.5,522.4 340.0,522.0 340.5,521.4 341.0,520.4 341.5,519.1 342.0,517.7 342.5,516.3 343.0,515.0 343.5,513.7 344.0,512.4 344.5,511.0 345.0,509.6 345.5,508.3 346.0,507.0 346.5,505.7 347.0,504.4 347.5,503.1 348.0,501.9 348.5,501.0 349.0,500.3 349.5,499.8 350.0,499.4 350.5,499.1 351.0,499.0 351.5,499.8 352.0,501.6 352.5,503.6 353.0,505.0 353.5,505.7 354.0,506.3 354.5,506.7 355.0,507.2 355.5,507.7 356.0,508.3 356.5,509.1 357.0,510.0 357.5,511.1 358.0,512.2 358.5,513.3 359.0,514.4 359.5,515.4 360.0,516.3 360.5,517.1 361.0,518.0 361.5,518.8 362.0,519.6 362.5,520.4 363.0,521.1 363.5,521.7 364.0,522.3 364.5,522.7 365.0,523.0 365.5,523.2 366.0,523.4 366.5,523.6 367.0,523.8 367.5,523.9 368.0,524.1 368.5,524.2 369.0,524.2 369.5,524.3 370.0,524.3 370.5,524.3 371.0,524.2 371.5,524.2 372.0,524.1 372.5,524.0 373.0,523.9 373.5,523.8 374.0,523.8 374.5,523.7 375.0,523.7 375.5,523.7 376.0,523.9 376.5,524.0 377.0,524.1 377.5,524.3 378.0,524.3 378.5,524.2 379.0,524.1 379.5,523.9 380.0,523.6 380.5,523.3 381.0,523.0 381.5,522.8 382.0,522.5 382.5,522.3 383.0,522.0 383.5,521.8 384.0,521.6 384.5,521.3 385.0,521.1 385.5,520.8 386.0,520.5 386.5,520.1 387.0,519.8 387.5,519.6 388.0,519.5 388.1,518.9 388.2,517.7 388.3,516.3 388.4,514.4 388.5,511.8 388.6,508.7 388.7,505.2 388.8,501.4 388.9,497.5 389.0,493.6 389.1,490.0 389.2,486.7 389.3,483.9 389.4,481.7 389.5,479.7 389.6,478.0 389.7,476.2 389.8,474.2 389.9,471.8 390.0,468.8 390.1,465.2 390.2,460.6 390.3,455.0 390.4,435.2 390.5,397.4 390.6,354.8 390.7,297.6 390.8,254.6 390.9,244.2 391.0,236.5 391.1,231.0 391.2,226.9 391.3,223.6 391.4,220.4 391.5,216.5 391.6,211.3 391.7,204.0 391.8,190.2 391.9,173.2 392.0,163.8 392.1,162.1 392.2,160.9 392.3,160.1 392.4,159.7 392.5,159.7 392.6,159.6 392.7,159.5 392.8,159.5 392.9,159.4 393.0,159.3 393.1,159.3 393.2,159.2 393.3,159.1 393.4,159.1 393.5,159.0 393.6,158.9 393.7,159.1 393.8,159.8 393.9,160.9 394.0,162.5 394.1,171.4 394.2,188.1 394.3,202.3 394.4,211.0 394.5,218.2 394.6,224.6 394.7,230.6 394.8,236.8 394.9,243.6 395.0,251.8 395.1,261.7 395.2,273.0 395.3,285.5 395.4,298.8 395.5,312.4 395.6,325.9 395.7,339.0 395.8,351.3 395.9,363.6 396.0,376.8 396.1,390.3 396.2,403.7 396.3,416.5 396.4,428.1 396.5,438.0 396.6,445.7 396.7,450.7 396.8,453.9 396.9,456.9 397.0,459.5 397.1,461.8 397.2,463.9 397.3,465.7 397.4,467.4 397.5,469.0 397.6,470.4 397.7,471.8 397.8,473.1 397.9,474.5 398.0,475.9 398.1,477.3 398.2,478.9 398.3,480.6 398.4,482.4 398.5,484.2 398.6,486.0 398.7,487.7 398.8,489.2 398.9,490.6 399.0,491.9 399.1,493.2 399.2,494.4 399.3,495.5 399.4,496.6 399.5,497.7 399.6,498.8 399.7,499.8 399.8,500.8 399.9,501.8 400.0,502.8 400.1,503.9 400.2,504.9 400.3,505.9 400.4,507.0 400.5,508.1 400.6,509.3 400.7,510.4 400.8,511.7 400.9,512.9 401.0,514.1 401.1,515.3 401.2,516.4 401.3,517.5 401.4,518.5 401.5,519.4 401.6,520.3 401.7,521.2 401.8,522.1 401.9,523.0 402.0,523.8 402.1,524.5 402.2,525.2 402.3,525.7 402.4,526.0 402.5,526.2 402.6,526.2 402.7,526.2 402.8,526.2 402.9,526.3 403.0,526.3 403.5,526.4 404.5,526.7 405.5,526.9 406.5,527.0 407.5,527.2 408.5,527.3 409.5,527.4 410.5,527.6 411.5,527.7 412.5,527.9 413.5,528.0 414.5,528.2 415.5,528.3 416.5,528.5 417.5,528.6 418.5,528.8 419.5,528.9 420.5,529.1 421.5,529.2 422.5,529.4 423.5,529.5 424.5,529.7 425.5,529.8 426.5,530.0 427.5,530.1 428.5,530.2 429.5,530.2 430.5,530.2 431.5,530.2 432.5,530.2 433.5,530.2 434.5,530.2 435.5,530.2 436.5,530.4 437.5,530.6 438.5,530.8 439.5,531.0 440.5,531.0 441.5,531.0 442.5,531.0 443.5,531.0 444.5,531.0 445.5,531.0 446.5,531.0 447.5,531.0 448.5,531.0 449.5,530.9 450.5,530.9 451.5,530.8 452.5,530.7 453.5,530.7 454.5,530.6 455.5,530.2 456.5,529.2 457.5,529.1 458.5,529.4 459.5,530.1 460.5,531.3 461.5,531.3 462.5,530.2 463.5,530.0 464.5,530.0 465.5,530.0 466.5,530.0 467.5,530.0 468.5,530.1 469.5,530.8 470.5,531.4 471.5,531.5 472.5,531.5 473.5,531.5 474.5,531.5 475.5,531.5 476.5,531.5 477.5,531.5 478.5,531.5 479.5,531.5 480.5,531.5 481.5,531.5 482.5,531.5 483.5,531.5 484.5,531.5 485.5,531.5 486.5,531.5 487.5,531.5 488.5,531.5 489.5,531.5 490.5,531.5 491.5,531.5 492.5,531.5 493.5,531.5 494.5,531.5 495.5,531.5 496.5,531.5 497.5,531.5 498.5,531.5 499.5,531.5 500.5,531.5 501.5,531.5 502.5,531.5 503.5,531.5 504.5,531.5 505.5,531.5 506.5,531.5 507.5,531.5 508.5,531.5 509.5,531.5 510.5,531.5 511.5,531.5 512.5,531.5 513.5,531.5 514.5,531.5 515.5,531.5 516.5,531.5 517.5,531.5 518.5,531.5 519.5,531.5 520.5,531.5 521.5,531.5 522.5,531.5 523.5,531.5 524.5,531.5 525.5,531.5 526.5,531.5 527.5,531.5 528.5,531.5 529.5,531.5 530.5,531.5 531.5,531.5 532.5,531.5 533.5,531.5 534.5,531.5 535.5,531.5 536.5,531.5 537.5,531.5 538.5,531.5 539.5,531.5 540.5,531.5 541.5,531.5 542.5,531.5 543.5,531.5 544.5,531.5 545.5,531.5 546.5,531.5 547.5,531.5 548.5,531.5 549.5,531.5 550.5,531.5 551.5,531.5 552.5,531.5 553.5,531.5 554.5,531.5 555.5,531.5 556.5,531.5 557.5,531.5 558.5,531.5 559.5,531.5 560.5,531.5 561.5,531.5 562.5,531.5 563.5,531.5 564.5,531.5 565.5,531.5 566.5,531.5 567.5,531.5 568.5,531.5 569.5,531.5 570.5,531.5 571.5,531.5 572.5,531.5 573.5,531.5 574.5,531.5 575.5,531.5 576.5,531.6 577.5,531.6 578.5,531.6 579.5,531.6 580.5,531.6 581.5,531.6 582.5,531.6 583.5,531.6 584.5,531.6 585.5,531.6 586.5,531.6 587.5,531.6 588.5,531.6 589.5,531.6 590.5,531.6 591.5,531.6 592.5,531.6 593.5,531.6 594.5,531.6 595.5,531.6 596.5,531.6 597.5,531.6 598.5,531.6 599.5,531.6 600.5,531.6 601.5,531.6 602.5,531.6 603.5,531.6 604.5,531.6 605.5,531.6 606.5,531.6 607.5,531.6 608.5,531.6 609.5,531.6 610.5,531.6 611.5,531.6 612.5,531.6 613.5,531.6 614.5,531.6 615.5,531.6 616.5,531.6 617.5,531.6 618.5,531.6 619.5,531.6 620.5,531.6 621.5,531.6 622.5,531.6 623.5,531.6 624.5,531.6 625.5,531.6 626.5,531.6 627.5,531.6 628.5,531.6 629.5,531.6 630.5,531.6 631.5,531.6 632.5,531.6 633.5,531.6 634.5,531.6 635.5,531.6 636.5,531.6 637.5,531.6 638.5,531.6 639.5,531.6 640.5,531.6 641.5,531.6 642.5,531.6 643.5,531.6 644.5,531.7 645.5,531.7 646.5,531.7 647.5,531.7 648.5,531.7 649.5,531.7 650.5,531.7 651.5,531.7 652.5,531.7 653.5,531.7 654.5,531.7 655.5,531.7 656.5,531.7 657.5,531.7 658.5,531.7 659.5,531.7 660.5,531.7 661.5,531.7 662.5,531.7 663.5,531.7 664.5,531.7 665.5,531.7 666.5,531.7 667.5,531.7 668.5,531.7 669.5,531.7 670.5,531.7 671.5,531.7 672.5,531.7 673.5,531.7 674.5,531.7 675.5,531.7 676.5,531.7 677.5,531.7 678.5,531.7 679.5,531.7 680.5,531.7 681.5,531.7 682.5,531.7 683.5,531.7 684.5,531.7 685.5,531.7 686.5,531.7 687.5,531.7 688.5,531.7 689.5,531.7 690.5,531.7 691.5,531.8 692.5,531.8 693.5,531.8 694.5,531.8 695.5,531.8 696.5,531.8 697.5,531.8 698.5,531.8 699.5,531.8 700.5,531.8 701.5,531.8 702.5,531.8 703.5,531.8 704.5,531.8 705.5,531.8 706.5,531.8 707.5,531.8 708.5,531.8 709.5,531.8 710.5,531.8 711.5,531.8 711.50,532.3" fill="#74bd9d"/>
<polygon points="68.50,532.3 68.5,532.3 69.0,532.3 69.5,532.3 70.0,532.3 70.5,532.3 71.0,532.3 71.5,532.3 72.0,532.3 72.5,532.3 73.0,532.3 73.5,532.3 74.0,532.3 74.5,532.3 75.0,532.3 75.5,532.3 76.0,532.3 76.5,532.3 77.0,532.3 77.5,532.3 78.0,532.3 78.5,532.3 79.0,532.3 79.5,532.3 80.0,532.3 80.5,532.3 81.0,532.3 81.5,532.3 82.0,532.3 82.5,532.3 83.0,532.3 83.5,532.3 84.0,532.3 84.5,532.3 85.0,532.3 85.5,532.3 86.0,532.3 86.5,532.3 87.0,532.3 87.5,532.3 88.0,532.3 88.5,532.3 89.0,532.3 89.5,532.3 90.0,532.3 90.5,532.3 91.0,532.3 91.5,532.3 92.0,532.3 92.5,532.3 93.0,532.3 93.5,532.3 94.0,532.3 94.5,532.3 95.0,532.3 95.5,532.3 96.0,532.3 96.5,532.3 97.0,532.3 97.5,532.3 98.0,532.3 98.5,532.3 99.0,532.3 99.5,532.3 100.0,532.3 100.5,532.3 101.0,532.3 101.5,532.3 102.0,532.3 102.5,532.3 103.0,532.3 103.5,532.3 104.0,532.3 104.5,532.3 105.0,532.3 105.5,532.3 106.0,532.3 106.5,532.3 107.0,532.3 107.5,532.3 108.0,532.3 108.5,532.3 109.0,532.3 109.5,532.3 110.0,532.3 110.5,532.3 111.0,532.3 111.5,532.3 112.0,532.3 112.5,532.3 113.0,532.3 113.5,532.3 114.0,532.3 114.5,532.3 115.0,532.3 115.5,532.3 116.0,532.3 116.5,532.3 117.0,532.3 117.5,532.3 118.0,532.3 118.5,532.3 119.0,532.3 119.5,532.3 120.0,532.3 120.5,532.3 121.0,532.3 121.5,532.3 122.0,532.3 122.5,532.3 123.0,532.3 123.5,532.3 124.0,532.3 124.5,532.3 125.0,532.3 125.5,532.3 126.0,532.3 126.5,532.3 127.0,532.3 127.5,532.3 128.0,532.3 128.5,532.3 129.0,532.3 129.5,532.3 130.0,532.3 130.5,532.3 131.0,532.3 131.5,532.3 132.0,532.3 132.5,532.3 133.0,532.3 133.5,532.3 134.0,532.3 134.5,532.3 135.0,532.3 135.5,532.3 136.0,532.3 136.5,532.3 137.0,532.3 137.5,532.3 138.0,532.3 138.5,532.3 139.0,532.3 139.5,532.3 140.0,532.3 140.5,532.3 141.0,532.3 141.5,532.3 142.0,532.3 142.5,532.3 143.0,532.3 143.5,532.3 144.0,532.3 144.5,532.3 145.0,532.3 145.5,532.3 146.0,532.3 146.5,532.3 147.0,532.3 147.5,532.3 148.0,532.3 148.5,532.3 149.0,532.3 149.5,532.3 150.0,532.3 150.5,532.3 151.0,532.3 151.5,532.3 152.0,532.3 152.5,532.3 153.0,532.3 153.5,532.3 154.0,532.3 154.5,532.3 155.0,532.3 155.5,532.3 156.0,532.3 156.5,532.3 157.0,532.3 157.5,532.3 158.0,532.3 158.5,532.3 159.0,532.3 159.5,532.3 160.0,532.3 160.5,532.3 161.0,532.3 161.5,532.3 162.0,532.3 162.5,532.3 163.0,532.3 163.5,532.3 164.0,532.3 164.5,532.3 165.0,532.3 165.5,532.3 166.0,532.3 166.5,532.3 167.0,532.3 167.5,532.3 168.0,532.3 168.5,532.3 169.0,532.3 169.5,532.3 170.0,532.3 170.5,532.3 171.0,532.3 171.5,532.3 172.0,532.3 172.5,532.3 173.0,532.3 173.5,532.3 174.0,532.3 174.5,532.3 175.0,532.3 175.5,532.3 176.0,532.3 176.5,532.3 177.0,532.3 177.5,532.3 178.0,532.3 178.5,532.3 179.0,532.3 179.5,532.3 180.0,532.3 180.5,532.3 181.0,532.3 181.5,532.3 182.0,532.3 182.5,532.3 183.0,532.3 183.5,532.3 184.0,532.3 184.5,532.3 185.0,532.3 185.5,532.3 186.0,532.3 186.5,532.3 187.0,532.3 187.5,532.3 188.0,532.3 188.5,532.3 189.0,532.3 189.5,532.3 190.0,532.3 190.5,532.3 191.0,532.3 191.5,532.3 192.0,532.3 192.5,532.3 193.0,532.3 193.5,532.3 194.0,532.3 194.5,532.3 195.0,532.3 195.5,532.3 196.0,532.3 196.5,532.3 197.0,532.3 197.5,532.3 198.0,532.3 198.5,532.3 199.0,532.3 199.5,532.3 200.0,532.3 200.5,532.3 201.0,532.3 201.5,532.3 202.0,532.3 202.5,532.3 203.0,532.3 203.5,532.3 204.0,532.3 204.5,532.3 205.0,532.3 205.5,532.3 206.0,532.3 206.5,532.3 207.0,532.3 207.5,532.3 208.0,532.3 208.5,532.3 209.0,532.3 209.5,532.3 210.0,532.3 210.5,532.3 211.0,532.3 211.5,532.3 212.0,532.3 212.5,532.3 213.0,532.3 213.5,532.3 214.0,532.3 214.5,532.3 215.0,532.3 215.5,532.3 216.0,532.3 216.5,532.3 217.0,532.3 217.5,532.3 218.0,532.3 218.5,532.3 219.0,532.3 219.5,532.3 220.0,532.3 220.5,532.3 221.0,532.3 221.5,532.3 222.0,532.3 222.5,532.3 223.0,532.3 223.5,532.3 224.0,532.3 224.5,532.3 225.0,532.3 225.5,532.3 226.0,532.3 226.5,532.3 227.0,532.3 227.5,532.3 228.0,532.3 228.5,532.3 229.0,532.3 229.5,532.3 230.0,532.3 230.5,532.3 231.0,532.3 231.5,532.3 232.0,532.3 232.5,532.3 233.0,532.3 233.5,532.3 234.0,532.3 234.5,532.3 235.0,532.3 235.5,532.3 236.0,532.3 236.5,532.3 237.0,532.3 237.5,532.3 238.0,532.3 238.5,532.3 239.0,532.3 239.5,532.3 240.0,532.3 240.5,532.3 241.0,532.3 241.5,532.3 242.0,532.3 242.5,532.3 243.0,532.3 243.5,532.3 244.0,532.3 244.5,532.3 245.0,532.3 245.5,532.3 246.0,532.3 246.5,532.3 247.0,532.3 247.5,532.3 248.0,532.3 248.5,532.3 249.0,532.3 249.5,532.3 250.0,532.3 250.5,532.3 251.0,532.3 251.5,532.3 252.0,532.3 252.5,532.3 253.0,532.3 253.5,532.3 254.0,532.3 254.5,532.3 255.0,532.3 255.5,532.3 256.0,532.3 256.5,532.3 257.0,532.3 257.5,532.3 258.0,532.3 258.5,532.3 259.0,532.3 259.5,532.3 260.0,532.3 260.5,532.3 261.0,532.3 261.5,532.3 262.0,532.3 262.5,532.3 263.0,532.3 263.5,532.3 264.0,532.3 264.5,532.3 265.0,532.3 265.5,532.3 266.0,532.3 266.5,532.3 267.0,532.3 267.5,532.3 268.0,532.3 268.5,532.3 269.0,532.3 269.5,532.3 270.0,532.3 270.5,532.3 271.0,532.3 271.5,532.3 272.0,532.3 272.5,532.3 273.0,532.3 273.5,532.3 274.0,532.3 274.5,532.3 275.0,532.3 275.5,532.3 276.0,532.3 276.5,532.3 277.0,532.3 277.5,532.3 278.0,532.3 278.5,532.3 279.0,532.3 279.5,532.3 280.0,532.3 280.5,532.3 281.0,532.3 281.5,532.3 282.0,532.3 282.5,532.3 283.0,532.3 283.5,532.2 284.0,531.9 284.5,531.5 285.0,531.0 285.5,530.3 286.0,529.5 286.5,528.6 287.0,528.0 287.5,527.6 288.0,527.3 288.5,527.1 289.0,527.0 289.5,527.1 290.0,527.4 290.5,527.7 291.0,528.0 291.5,528.2 292.0,528.4 292.5,528.7 293.0,528.9 293.5,529.1 294.0,529.2 294.5,529.3 295.0,529.4 295.5,529.4 296.0,529.5 296.5,529.5 297.0,529.5 297.5,529.5 298.0,529.6 298.5,529.6 299.0,529.6 299.5,529.6 300.0,529.6 300.5,529.6 301.0,529.6 301.5,529.0 302.0,528.1 302.5,527.3 303.0,527.0 303.5,527.1 304.0,527.3 304.5,527.7 305.0,528.0 305.5,528.3 306.0,528.5 306.5,528.6 307.0,528.7 307.5,528.8 308.0,528.9 308.5,528.9 309.0,529.0 309.5,529.0 310.0,529.0 310.5,529.0 311.0,529.0 311.5,529.0 312.0,529.0 312.5,528.9 313.0,528.9 313.5,528.9 314.0,528.9 314.5,528.8 315.0,528.8 315.5,528.8 316.0,528.7 316.5,528.7 317.0,528.6 317.5,528.6 318.0,528.5 318.5,528.4 319.0,528.2 319.5,527.9 320.0,527.5 320.5,527.2 321.0,526.7 321.5,526.3 322.0,525.9 322.5,525.5 323.0,525.1 323.5,524.8 324.0,524.5 324.5,524.4 325.0,524.3 325.5,524.3 326.0,524.4 326.5,524.5 327.0,524.6 327.5,524.7 328.0,524.9 328.5,525.1 329.0,525.3 329.5,525.5 330.0,525.6 330.5,525.8 331.0,526.0 331.5,526.2 332.0,526.4 332.5,526.6 333.0,526.8 333.5,527.0 334.0,527.2 334.5,527.4 335.0,527.5 335.5,527.6 336.0,527.8 336.5,527.9 337.0,528.0 337.5,528.2 338.0,528.3 338.5,528.4 339.0,528.4 339.5,528.5 340.0,528.5 340.5,528.5 341.0,528.4 341.5,528.4 342.0,528.3 342.5,528.2 343.0,528.1 343.5,528.0 344.0,527.9 344.5,527.8 345.0,527.7 345.5,527.6 346.0,527.6 346.5,527.5 347.0,527.5 347.5,527.5 348.0,527.6 348.5,527.7 349.0,527.8 349.5,528.0 350.0,528.2 350.5,528.4 351.0,528.6 351.5,528.7 352.0,528.9 352.5,529.1 353.0,529.3 353.5,529.4 354.0,529.5 354.5,529.6 355.0,529.6 355.5,529.6 356.0,529.6 356.5,529.6 357.0,529.6 357.5,529.6 358.0,529.6 358.5,529.6 359.0,529.6 359.5,529.6 360.0,529.6 360.5,529.6 361.0,529.6 361.5,529.6 362.0,529.6 362.5,529.6 363.0,529.6 363.5,529.6 364.0,529.6 364.5,529.6 365.0,529.6 365.5,529.6 366.0,529.6 366.5,529.6 367.0,529.6 367.5,529.6 368.0,529.6 368.5,529.6 369.0,529.6 369.5,529.6 370.0,529.6 370.5,529.6 371.0,529.6 371.5,529.6 372.0,529.6 372.5,529.6 373.0,529.6 373.5,529.6 374.0,529.6 374.5,529.6 375.0,529.6 375.5,529.6 376.0,529.6 376.5,529.6 377.0,529.6 377.5,529.6 378.0,529.6 378.5,529.6 379.0,529.6 379.5,529.6 380.0,529.6 380.5,529.6 381.0,529.6 381.5,529.6 382.0,529.6 382.5,529.6 383.0,529.6 383.5,529.6 384.0,529.6 384.5,529.6 385.0,529.6 385.5,529.6 386.0,529.6 386.5,529.6 387.0,529.5 387.5,529.5 388.0,529.5 388.1,528.9 388.2,527.7 388.3,526.2 388.4,524.3 388.5,521.7 388.6,518.5 388.7,514.9 388.8,511.1 388.9,507.1 389.0,503.3 389.1,499.6 389.2,496.2 389.3,493.4 389.4,491.1 389.5,489.2 389.6,487.3 389.7,485.5 389.8,483.5 389.9,481.0 390.0,478.1 390.1,474.4 390.2,469.8 390.3,464.1 390.4,444.3 390.5,406.4 390.6,363.7 390.7,306.5 390.8,263.5 390.9,253.0 391.0,245.3 391.1,239.8 391.2,235.7 391.3,232.3 391.4,229.1 391.5,225.1 391.6,219.9 391.7,212.6 391.8,198.8 391.9,181.7 392.0,172.3 392.1,170.5 392.2,169.2 392.3,168.4 392.4,168.0 392.5,167.9 392.6,167.8 392.7,167.7 392.8,167.6 392.9,167.5 393.0,167.4 393.1,167.3 393.2,167.2 393.3,167.1 393.4,167.0 393.5,166.9 393.6,166.8 393.7,166.9 393.8,167.5 393.9,168.6 394.0,170.1 394.1,179.1 394.2,195.6 394.3,209.8 394.4,218.5 394.5,225.7 394.6,232.0 394.7,238.0 394.8,244.1 394.9,251.0 395.0,259.1 395.1,268.9 395.2,280.2 395.3,292.7 395.4,305.9 395.5,319.4 395.6,332.9 395.7,346.0 395.8,358.2 395.9,370.5 396.0,383.7 396.1,397.2 396.2,410.5 396.3,423.3 396.4,434.8 396.5,444.7 396.6,452.3 396.7,457.3 396.8,460.5 396.9,463.4 397.0,465.9 397.1,468.2 397.2,470.3 397.3,472.1 397.4,473.8 397.5,475.3 397.6,476.7 397.7,478.0 397.8,479.3 397.9,480.6 398.0,482.0 398.1,483.4 398.2,484.9 398.3,486.6 398.4,488.3 398.5,490.1 398.6,491.9 398.7,493.5 398.8,495.0 398.9,496.4 399.0,497.6 399.1,498.9 399.2,500.0 399.3,501.1 399.4,502.2 399.5,503.2 399.6,504.2 399.7,505.2 399.8,506.2 399.9,507.2 400.0,508.2 400.1,509.1 400.2,510.1 400.3,511.1 400.4,512.2 400.5,513.2 400.6,514.3 400.7,515.5 400.8,516.7 400.9,517.9 401.0,519.0 401.1,520.2 401.2,521.3 401.3,522.3 401.4,523.3 401.5,524.2 401.6,525.0 401.7,525.9 401.8,526.7 401.9,527.5 402.0,528.3 402.1,529.0 402.2,529.6 402.3,530.1 402.4,530.4 402.5,530.5 402.6,530.5 402.7,530.5 402.8,530.5 402.9,530.5 403.0,530.5 403.5,530.6 404.5,530.6 405.5,530.7 406.5,530.7 407.5,530.8 408.5,530.8 409.5,530.8 410.5,530.9 411.5,530.9 412.5,531.0 413.5,531.0 414.5,531.1 415.5,531.1 416.5,531.1 417.5,531.2 418.5,531.2 419.5,531.3 420.5,531.3 421.5,531.4 422.5,531.4 423.5,531.5 424.5,531.5 425.5,531.6 426.5,531.7 427.5,531.7 428.5,531.8 429.5,531.8 430.5,531.9 431.5,531.9 432.5,532.0 433.5,532.0 434.5,532.1 435.5,532.1 436.5,532.1 437.5,532.2 438.5,532.2 439.5,532.2 440.5,532.2 441.5,532.2 442.5,532.2 443.5,532.2 444.5,532.2 445.5,532.2 446.5,532.2 447.5,532.2 448.5,532.2 449.5,532.2 450.5,532.2 451.5,532.2 452.5,532.2 453.5,532.2 454.5,532.2 455.5,532.2 456.5,532.2 457.5,532.2 458.5,532.2 459.5,532.2 460.5,532.2 461.5,532.2 462.5,532.2 463.5,532.2 464.5,532.2 465.5,532.2 466.5,532.2 467.5,532.2 468.5,532.2 469.5,532.2 470.5,532.2 471.5,532.2 472.5,532.2 473.5,532.2 474.5,532.2 475.5,532.2 476.5,532.2 477.5,532.2 478.5,532.2 479.5,532.2 480.5,532.2 481.5,532.2 482.5,532.2 483.5,532.2 484.5,532.2 485.5,532.2 486.5,532.2 487.5,532.2 488.5,532.2 489.5,532.2 490.5,532.2 491.5,532.2 492.5,532.2 493.5,532.2 494.5,532.2 495.5,532.2 496.5,532.2 497.5,532.2 498.5,532.2 499.5,532.2 500.5,532.2 501.5,532.3 502.5,532.3 503.5,532.3 504.5,532.3 505.5,532.3 506.5,532.3 507.5,532.3 508.5,532.3 509.5,532.3 510.5,532.3 511.5,532.3 512.5,532.3 513.5,532.3 514.5,532.3 515.5,532.3 516.5,532.3 517.5,532.3 518.5,532.3 519.5,532.3 520.5,532.3 521.5,532.3 522.5,532.3 523.5,532.3 524.5,532.3 525.5,532.3 526.5,532.3 527.5,532.3 528.5,532.3 529.5,532.3 530.5,532.3 531.5,532.3 532.5,532.3 533.5,532.3 534.5,532.3 535.5,532.3 536.5,532.3 537.5,532.3 538.5,532.3 539.5,532.3 540.5,532.3 541.5,532.3 542.5,532.3 543.5,532.3 544.5,532.3 545.5,532.3 546.5,532.3 547.5,532.3 548.5,532.3 549.5,532.3 550.5,532.3 551.5,532.3 552.5,532.3 553.5,532.3 554.5,532.3 555.5,532.3 556.5,532.3 557.5,532.3 558.5,532.3 559.5,532.3 560.5,532.3 561.5,532.3 562.5,532.3 563.5,532.3 564.5,532.3 565.5,532.3 566.5,532.3 567.5,532.3 568.5,532.3 569.5,532.3 570.5,532.3 571.5,532.3 572.5,532.3 573.5,532.3 574.5,532.3 575.5,532.3 576.5,532.3 577.5,532.3 578.5,532.3 579.5,532.3 580.5,532.3 581.5,532.3 582.5,532.3 583.5,532.3 584.5,532.3 585.5,532.3 586.5,532.3 587.5,532.3 588.5,532.3 589.5,532.3 590.5,532.3 591.5,532.3 592.5,532.3 593.5,532.3 594.5,532.3 595.5,532.3 596.5,532.3 597.5,532.3 598.5,532.3 599.5,532.3 600.5,532.3 601.5,532.3 602.5,532.3 603.5,532.3 604.5,532.3 605.5,532.3 606.5,532.3 607.5,532.3 608.5,532.3 609.5,532.3 610.5,532.3 611.5,532.3 612.5,532.3 613.5,532.3 614.5,532.3 615.5,532.3 616.5,532.3 617.5,532.3 618.5,532.3 619.5,532.3 620.5,532.3 621.5,532.3 622.5,532.3 623.5,532.3 624.5,532.3 625.5,532.3 626.5,532.3 627.5,532.3 628.5,532.3 629.5,532.3 630.5,532.3 631.5,532.3 632.5,532.3 633.5,532.3 634.5,532.3 635.5,532.3 636.5,532.3 637.5,532.3 638.5,532.3 639.5,532.3 640.5,532.3 641.5,532.3 642.5,532.3 643.5,532.3 644.5,532.3 645.5,532.3 646.5,532.3 647.5,532.3 648.5,532.3 649.5,532.3 650.5,532.3 651.5,532.3 652.5,532.3 653.5,532.3 654.5,532.3 655.5,532.3 656.5,532.3 657.5,532.3 658.5,532.3 659.5,532.3 660.5,532.3 661.5,532.3 662.5,532.3 663.5,532.3 664.5,532.3 665.5,532.3 666.5,532.3 667.5,532.3 668.5,532.3 669.5,532.3 670.5,532.3 671.5,532.3 672.5,532.3 673.5,532.3 674.5,532.3 675.5,532.3 676.5,532.3 677.5,532.3 678.5,532.3 679.5,532.3 680.5,532.3 681.5,532.3 682.5,532.3 683.5,532.3 684.5,532.3 685.5,532.3 686.5,532.3 687.5,532.3 688.5,532.3 689.5,532.3 690.5,532.3 691.5,532.3 692.5,532.3 693.5,532.3 694.5,532.3 695.5,532.3 696.5,532.3 697.5,532.3 698.5,532.3 699.5,532.3 700.5,532.3 701.5,532.3 702.5,532.3 703.5,532.3 704.5,532.3 705.5,532.3 706.5,532.3 707.5,532.3 708.5,532.3 709.5,532.3 710.5,532.3 711.5,532.3 711.50,532.3" fill="#e05c70"/>
<polygon points="68.50,532.3 68.5,532.3 69.0,532.3 69.5,532.3 70.0,532.3 70.5,532.3 71.0,532.3 71.5,532.3 72.0,532.3 72.5,532.3 73.0,532.3 73.5,532.3 74.0,532.3 74.5,532.3 75.0,532.3 75.5,532.3 76.0,532.3 76.5,532.3 77.0,532.3 77.5,532.3 78.0,532.3 78.5,532.3 79.0,532.3 79.5,532.3 80.0,532.3 80.5,532.3 81.0,532.3 81.5,532.3 82.0,532.3 82.5,532.3 83.0,532.3 83.5,532.3 84.0,532.3 84.5,532.3 85.0,532.3 85.5,532.3 86.0,532.3 86.5,532.3 87.0,532.3 87.5,532.3 88.0,532.3 88.5,532.3 89.0,532.3 89.5,532.3 90.0,532.3 90.5,532.3 91.0,532.3 91.5,532.3 92.0,532.3 92.5,532.3 93.0,532.3 93.5,532.3 94.0,532.3 94.5,532.3 95.0,532.3 95.5,532.3 96.0,532.3 96.5,532.3 97.0,532.3 97.5,532.3 98.0,532.3 98.5,532.3 99.0,532.3 99.5,532.3 100.0,532.3 100.5,532.3 101.0,532.3 101.5,532.3 102.0,532.3 102.5,532.3 103.0,532.3 103.5,532.3 104.0,532.3 104.5,532.3 105.0,532.3 105.5,532.3 106.0,532.3 106.5,532.3 107.0,532.3 107.5,532.3 108.0,532.3 108.5,532.3 109.0,532.3 109.5,532.3 110.0,532.3 110.5,532.3 111.0,532.3 111.5,532.3 112.0,532.3 112.5,532.3 113.0,532.3 113.5,532.3 114.0,532.3 114.5,532.3 115.0,532.3 115.5,532.3 116.0,532.3 116.5,532.3 117.0,532.3 117.5,532.3 118.0,532.3 118.5,532.3 119.0,532.3 119.5,532.3 120.0,532.3 120.5,532.3 121.0,532.3 121.5,532.3 122.0,532.3 122.5,532.3 123.0,532.3 123.5,532.3 124.0,532.3 124.5,532.3 125.0,532.3 125.5,532.3 126.0,532.3 126.5,532.3 127.0,532.3 127.5,532.3 128.0,532.3 128.5,532.3 129.0,532.3 129.5,532.3 130.0,532.3 130.5,532.3 131.0,532.3 131.5,532.3 132.0,532.3 132.5,532.3 133.0,532.3 133.5,532.3 134.0,532.3 134.5,532.3 135.0,532.3 135.5,532.3 136.0,532.3 136.5,532.3 137.0,532.3 137.5,532.3 138.0,532.3 138.5,532.3 139.0,532.3 139.5,532.3 140.0,532.3 140.5,532.3 141.0,532.3 141.5,532.3 142.0,532.3 142.5,532.3 143.0,532.3 143.5,532.3 144.0,532.3 144.5,532.3 145.0,532.3 145.5,532.3 146.0,532.3 146.5,532.3 147.0,532.3 147.5,532.3 148.0,532.3 148.5,532.3 149.0,532.3 149.5,532.3 150.0,532.3 150.5,532.3 151.0,532.3 151.5,532.3 152.0,532.3 152.5,532.3 153.0,532.3 153.5,532.3 154.0,532.3 154.5,532.3 155.0,532.3 155.5,532.3 156.0,532.3 156.5,532.3 157.0,532.3 157.5,532.3 158.0,532.3 158.5,532.3 159.0,532.3 159.5,532.3 160.0,532.3 160.5,532.3 161.0,532.3 161.5,532.3 162.0,532.3 162.5,532.3 163.0,532.3 163.5,532.3 164.0,532.3 164.5,532.3 165.0,532.3 165.5,532.3 166.0,532.3 166.5,532.3 167.0,532.3 167.5,532.3 168.0,532.3 168.5,532.3 169.0,532.3 169.5,532.3 170.0,532.3 170.5,532.3 171.0,532.3 171.5,532.3 172.0,532.3 172.5,532.3 173.0,532.3 173.5,532.3 174.0,532.3 174.5,532.3 175.0,532.3 175.5,532.3 176.0,532.3 176.5,532.3 177.0,532.3 177.5,532.3 178.0,532.3 178.5,532.3 179.0,532.3 179.5,532.3 180.0,532.3 180.5,532.3 181.0,532.3 181.5,532.3 182.0,532.3 182.5,532.3 183.0,532.3 183.5,532.3 184.0,532.3 184.5,532.3 185.0,532.3 185.5,532.3 186.0,532.3 186.5,532.3 187.0,532.3 187.5,532.3 188.0,532.3 188.5,532.3 189.0,532.3 189.5,532.3 190.0,532.3 190.5,532.3 191.0,532.3 191.5,532.3 192.0,532.3 192.5,532.3 193.0,532.3 193.5,532.3 194.0,532.3 194.5,532.3 195.0,532.3 195.5,532.3 196.0,532.3 196.5,532.3 197.0,532.3 197.5,532.3 198.0,532.3 198.5,532.3 199.0,532.3 199.5,532.3 200.0,532.3 200.5,532.3 201.0,532.3 201.5,532.3 202.0,532.3 202.5,532.3 203.0,532.3 203.5,532.3 204.0,532.3 204.5,532.3 205.0,532.3 205.5,532.3 206.0,532.3 206.5,532.3 207.0,532.3 207.5,532.3 208.0,532.3 208.5,532.3 209.0,532.3 209.5,532.3 210.0,532.3 210.5,532.3 211.0,532.3 211.5,532.3 212.0,532.3 212.5,532.3 213.0,532.3 213.5,532.3 214.0,532.3 214.5,532.3 215.0,532.3 215.5,532.3 216.0,532.3 216.5,532.3 217.0,532.3 217.5,532.3 218.0,532.3 218.5,532.3 219.0,532.3 219.5,532.3 220.0,532.3 220.5,532.3 221.0,532.3 221.5,532.3 222.0,532.3 222.5,532.3 223.0,532.3 223.5,532.3 224.0,532.3 224.5,532.3 225.0,532.3 225.5,532.3 226.0,532.3 226.5,532.3 227.0,532.3 227.5,532.3 228.0,532.3 228.5,532.3 229.0,532.3 229.5,532.3 230.0,532.3 230.5,532.3 231.0,532.3 231.5,532.3 232.0,532.3 232.5,532.3 233.0,532.3 233.5,532.3 234.0,532.3 234.5,532.3 235.0,532.3 235.5,532.3 236.0,532.3 236.5,532.3 237.0,532.3 237.5,532.3 238.0,532.3 238.5,532.3 239.0,532.3 239.5,532.3 240.0,532.3 240.5,532.3 241.0,532.3 241.5,532.3 242.0,532.3 242.5,532.3 243.0,532.3 243.5,532.3 244.0,532.3 244.5,532.3 245.0,532.3 245.5,532.3 246.0,532.3 246.5,532.3 247.0,532.3 247.5,532.3 248.0,532.3 248.5,532.3 249.0,532.3 249.5,532.3 250.0,532.3 250.5,532.3 251.0,532.3 251.5,532.3 252.0,532.3 252.5,532.3 253.0,532.3 253.5,532.3 254.0,532.3 254.5,532.3 255.0,532.3 255.5,532.3 256.0,532.3 256.5,532.3 257.0,532.3 257.5,532.3 258.0,532.3 258.5,532.3 259.0,532.3 259.5,532.3 260.0,532.3 260.5,532.3 261.0,532.3 261.5,532.3 262.0,532.3 262.5,532.3 263.0,532.3 263.5,532.3 264.0,532.3 264.5,532.3 265.0,532.3 265.5,532.3 266.0,532.3 266.5,532.3 267.0,532.3 267.5,532.3 268.0,532.3 268.5,532.3 269.0,532.3 269.5,532.3 270.0,532.3 270.5,532.3 271.0,532.3 271.5,532.3 272.0,532.3 272.5,532.3 273.0,532.3 273.5,532.3 274.0,532.3 274.5,532.3 275.0,532.3 275.5,532.3 276.0,532.3 276.5,532.3 277.0,532.3 277.5,532.3 278.0,532.3 278.5,532.3 279.0,532.3 279.5,532.3 280.0,532.3 280.5,532.3 281.0,532.3 281.5,532.3 282.0,532.3 282.5,532.3 283.0,532.3 283.5,532.2 284.0,531.9 284.5,531.5 285.0,531.0 285.5,530.3 286.0,529.5 286.5,528.6 287.0,528.0 287.5,527.6 288.0,527.3 288.5,527.1 289.0,527.0 289.5,527.1 290.0,527.4 290.5,527.7 291.0,528.0 291.5,528.2 292.0,528.4 292.5,528.7 293.0,528.9 293.5,529.1 294.0,529.2 294.5,529.3 295.0,529.4 295.5,529.4 296.0,529.5 296.5,529.5 297.0,529.5 297.5,529.5 298.0,529.6 298.5,529.6 299.0,529.6 299.5,529.6 300.0,529.6 300.5,529.6 301.0,529.6 301.5,529.6 302.0,529.6 302.5,529.6 303.0,529.6 303.5,529.6 304.0,529.6 304.5,529.6 305.0,529.6 305.5,529.6 306.0,529.6 306.5,529.6 307.0,529.6 307.5,529.6 308.0,529.6 308.5,529.6 309.0,529.6 309.5,529.6 310.0,529.6 310.5,529.6 311.0,529.6 311.5,529.6 312.0,529.6 312.5,529.6 313.0,529.6 313.5,529.6 314.0,529.6 314.5,529.6 315.0,529.6 315.5,529.6 316.0,529.6 316.5,529.6 317.0,529.6 317.5,529.6 318.0,529.6 318.5,529.6 319.0,529.6 319.5,529.6 320.0,529.6 320.5,529.6 321.0,529.6 321.5,529.6 322.0,529.6 322.5,529.6 323.0,529.6 323.5,529.6 324.0,529.6 324.5,529.6 325.0,529.6 325.5,529.6 326.0,529.6 326.5,529.6 327.0,529.6 327.5,529.6 328.0,529.6 328.5,529.6 329.0,529.6 329.5,529.6 330.0,529.6 330.5,529.6 331.0,529.6 331.5,529.6 332.0,529.6 332.5,529.6 333.0,529.6 333.5,529.6 334.0,529.6 334.5,529.6 335.0,529.6 335.5,529.6 336.0,529.6 336.5,529.6 337.0,529.6 337.5,529.6 338.0,529.6 338.5,529.6 339.0,529.6 339.5,529.6 340.0,529.6 340.5,529.6 341.0,529.6 341.5,529.6 342.0,529.6 342.5,529.7 343.0,529.7 343.5,529.7 344.0,529.8 344.5,529.8 345.0,529.8 345.5,529.9 346.0,529.9 346.5,530.0 347.0,530.0 347.5,530.0 348.0,530.1 348.5,530.1 349.0,530.2 349.5,530.2 350.0,530.3 350.5,530.3 351.0,530.3 351.5,530.4 352.0,530.4 352.5,530.4 353.0,530.5 353.5,530.5 354.0,530.5 354.5,530.5 355.0,530.5 355.5,530.5 356.0,530.5 356.5,530.5 357.0,530.5 357.5,530.5 358.0,530.5 358.5,530.5 359.0,530.5 359.5,530.5 360.0,530.5 360.5,530.5 361.0,530.5 361.5,530.5 362.0,530.5 362.5,530.5 363.0,530.5 363.5,530.5 364.0,530.5 364.5,530.5 365.0,530.5 365.5,530.5 366.0,530.5 366.5,530.5 367.0,530.5 367.5,530.5 368.0,530.5 368.5,530.5 369.0,530.5 369.5,530.5 370.0,530.5 370.5,530.5 371.0,530.5 371.5,530.5 372.0,530.5 372.5,530.5 373.0,530.5 373.5,530.5 374.0,530.5 374.5,530.5 375.0,530.5 375.5,530.5 376.0,530.5 376.5,530.5 377.0,530.5 377.5,530.5 378.0,530.5 378.5,530.5 379.0,530.5 379.5,530.5 380.0,530.5 380.5,530.5 381.0,530.5 381.5,530.5 382.0,530.5 382.5,530.5 383.0,530.5 383.5,530.5 384.0,530.5 384.5,530.5 385.0,530.5 385.5,530.5 386.0,530.5 386.5,530.5 387.0,530.5 387.5,530.5 388.0,530.5 388.1,530.5 388.2,530.5 388.3,530.5 388.4,530.5 388.5,530.5 388.6,530.5 388.7,530.5 388.8,530.5 388.9,530.5 389.0,530.5 389.1,530.5 389.2,530.5 389.3,530.5 389.4,530.5 389.5,530.6 389.6,530.6 389.7,530.6 389.8,530.6 389.9,530.6 390.0,530.6 390.1,530.6 390.2,530.6 390.3,530.6 390.4,530.6 390.5,530.6 390.6,530.6 390.7,530.6 390.8,530.6 390.9,530.6 391.0,530.6 391.1,530.6 391.2,530.6 391.3,530.6 391.4,530.6 391.5,530.6 391.6,530.6 391.7,530.6 391.8,530.6 391.9,530.6 392.0,530.6 392.1,530.6 392.2,530.6 392.3,530.7 392.4,530.7 392.5,530.7 392.6,530.7 392.7,530.7 392.8,530.7 392.9,530.7 393.0,530.7 393.1,530.7 393.2,530.7 393.3,530.7 393.4,530.7 393.5,530.7 393.6,530.7 393.7,530.7 393.8,530.7 393.9,530.7 394.0,530.7 394.1,530.7 394.2,530.7 394.3,530.7 394.4,530.7 394.5,530.7 394.6,530.7 394.7,530.7 394.8,530.7 394.9,530.7 395.0,530.7 395.1,530.8 395.2,530.8 395.3,530.8 395.4,530.8 395.5,530.8 395.6,530.8 395.7,530.8 395.8,530.8 395.9,530.8 396.0,530.8 396.1,530.8 396.2,530.8 396.3,530.8 396.4,530.8 396.5,530.8 396.6,530.8 396.7,530.8 396.8,530.8 396.9,530.8 397.0,530.8 397.1,530.8 397.2,530.8 397.3,530.8 397.4,530.8 397.5,530.8 397.6,530.8 397.7,530.8 397.8,530.8 397.9,530.9 398.0,530.9 398.1,530.9 398.2,530.9 398.3,530.9 398.4,530.9 398.5,530.9 398.6,530.9 398.7,530.9 398.8,530.9 398.9,530.9 399.0,530.9 399.1,530.9 399.2,530.9 399.3,530.9 399.4,530.9 399.5,530.9 399.6,530.9 399.7,530.9 399.8,530.9 399.9,530.9 400.0,530.9 400.1,530.9 400.2,530.9 400.3,530.9 400.4,530.9 400.5,530.9 400.6,530.9 400.7,531.0 400.8,531.0 400.9,531.0 401.0,531.0 401.1,531.0 401.2,531.0 401.3,531.0 401.4,531.0 401.5,531.0 401.6,531.0 401.7,531.0 401.8,531.0 401.9,531.0 402.0,531.0 402.1,531.0 402.2,531.0 402.3,531.0 402.4,531.0 402.5,531.0 402.6,531.0 402.7,531.0 402.8,531.0 402.9,531.0 403.0,531.0 403.5,531.1 404.5,531.1 405.5,531.1 406.5,531.2 407.5,531.2 408.5,531.2 409.5,531.3 410.5,531.3 411.5,531.3 412.5,531.4 413.5,531.4 414.5,531.4 415.5,531.4 416.5,531.5 417.5,531.5 418.5,531.5 419.5,531.6 420.5,531.6 421.5,531.7 422.5,531.7 423.5,531.7 424.5,531.8 425.5,531.8 426.5,531.9 427.5,531.9 428.5,532.0 429.5,532.0 430.5,532.1 431.5,532.1 432.5,532.1 433.5,532.2 434.5,532.2 435.5,532.2 436.5,532.3 437.5,532.3 438.5,532.3 439.5,532.3 440.5,532.3 441.5,532.3 442.5,532.3 443.5,532.3 444.5,532.3 445.5,532.3 446.5,532.3 447.5,532.3 448.5,532.3 449.5,532.3 450.5,532.3 451.5,532.3 452.5,532.3 453.5,532.3 454.5,532.3 455.5,532.3 456.5,532.3 457.5,532.3 458.5,532.3 459.5,532.3 460.5,532.3 461.5,532.3 462.5,532.3 463.5,532.3 464.5,532.3 465.5,532.3 466.5,532.3 467.5,532.3 468.5,532.3 469.5,532.3 470.5,532.3 471.5,532.3 472.5,532.3 473.5,532.3 474.5,532.3 475.5,532.3 476.5,532.3 477.5,532.3 478.5,532.3 479.5,532.3 480.5,532.3 481.5,532.3 482.5,532.3 483.5,532.3 484.5,532.3 485.5,532.3 486.5,532.3 487.5,532.3 488.5,532.3 489.5,532.3 490.5,532.3 491.5,532.3 492.5,532.3 493.5,532.3 494.5,532.3 495.5,532.3 496.5,532.3 497.5,532.3 498.5,532.3 499.5,532.3 500.5,532.3 501.5,532.3 502.5,532.3 503.5,532.3 504.5,532.3 505.5,532.3 506.5,532.3 507.5,532.3 508.5,532.3 509.5,532.3 510.5,532.3 511.5,532.3 512.5,532.3 513.5,532.3 514.5,532.3 515.5,532.3 516.5,532.3 517.5,532.3 518.5,532.3 519.5,532.3 520.5,532.3 521.5,532.3 522.5,532.3 523.5,532.3 524.5,532.3 525.5,532.3 526.5,532.3 527.5,532.3 528.5,532.3 529.5,532.3 530.5,532.3 531.5,532.3 532.5,532.3 533.5,532.3 534.5,532.3 535.5,532.3 536.5,532.3 537.5,532.3 538.5,532.3 539.5,532.3 540.5,532.3 541.5,532.3 542.5,532.3 543.5,532.3 544.5,532.3 545.5,532.3 546.5,532.3 547.5,532.3 548.5,532.3 549.5,532.3 550.5,532.3 551.5,532.3 552.5,532.3 553.5,532.3 554.5,532.3 555.5,532.3 556.5,532.3 557.5,532.3 558.5,532.3 559.5,532.3 560.5,532.3 561.5,532.3 562.5,532.3 563.5,532.3 564.5,532.3 565.5,532.3 566.5,532.3 567.5,532.3 568.5,532.3 569.5,532.3 570.5,532.3 571.5,532.3 572.5,532.3 573.5,532.3 574.5,532.3 575.5,532.3 576.5,532.3 577.5,532.3 578.5,532.3 579.5,532.3 580.5,532.3 581.5,532.3 582.5,532.3 583.5,532.3 584.5,532.3 585.5,532.3 586.5,532.3 587.5,532.3 588.5,532.3 589.5,532.3 590.5,532.3 591.5,532.3 592.5,532.3 593.5,532.3 594.5,532.3 595.5,532.3 596.5,532.3 597.5,532.3 598.5,532.3 599.5,532.3 600.5,532.3 601.5,532.3 602.5,532.3 603.5,532.3 604.5,532.3 605.5,532.3 606.5,532.3 607.5,532.3 608.5,532.3 609.5,532.3 610.5,532.3 611.5,532.3 612.5,532.3 613.5,532.3 614.5,532.3 615.5,532.3 616.5,532.3 617.5,532.3 618.5,532.3 619.5,532.3 620.5,532.3 621.5,532.3 622.5,532.3 623.5,532.3 624.5,532.3 625.5,532.3 626.5,532.3 627.5,532.3 628.5,532.3 629.5,532.3 630.5,532.3 631.5,532.3 632.5,532.3 633.5,532.3 634.5,532.3 635.5,532.3 636.5,532.3 637.5,532.3 638.5,532.3 639.5,532.3 640.5,532.3 641.5,532.3 642.5,532.3 643.5,532.3 644.5,532.3 645.5,532.3 646.5,532.3 647.5,532.3 648.5,532.3 649.5,532.3 650.5,532.3 651.5,532.3 652.5,532.3 653.5,532.3 654.5,532.3 655.5,532.3 656.5,532.3 657.5,532.3 658.5,532.3 659.5,532.3 660.5,532.3 661.5,532.3 662.5,532.3 663.5,532.3 664.5,532.3 665.5,532.3 666.5,532.3 667.5,532.3 668.5,532.3 669.5,532.3 670.5,532.3 671.5,532.3 672.5,532.3 673.5,532.3 674.5,532.3 675.5,532.3 676.5,532.3 677.5,532.3 678.5,532.3 679.5,532.3 680.5,532.3 681.5,532.3 682.5,532.3 683.5,532.3 684.5,532.3 685.5,532.3 686.5,532.3 687.5,532.3 688.5,532.3 689.5,532.3 690.5,532.3 691.5,532.3 692.5,532.3 693.5,532.3 694.5,532.3 695.5,532.3 696.5,532.3 697.5,532.3 698.5,532.3 699.5,532.3 700.5,532.3 701.5,532.3 702.5,532.3 703.5,532.3 704.5,532.3 705.5,532.3 706.5,532.3 707.5,532.3 708.5,532.3 709.5,532.3 710.5,532.3 711.5,532.3 711.50,532.3" fill="#b0714f"/>
<line x1="68.5" y1="532" x2="711.5" y2="532" stroke="#8c4555" stroke-width="0.8"/>
<polyline points="68.5,531.5 69.0,531.5 69.5,531.5 70.0,531.5 70.5,531.5 71.0,531.5 71.5,531.5 72.0,531.5 72.5,531.5 73.0,531.5 73.5,531.5 74.0,531.5 74.5,531.5 75.0,531.5 75.5,531.5 76.0,531.5 76.5,531.5 77.0,531.5 77.5,531.5 78.0,531.5 78.5,531.5 79.0,531.5 79.5,531.5 80.0,531.5 80.5,531.5 81.0,531.5 81.5,531.5 82.0,531.5 82.5,531.5 83.0,531.5 83.5,531.5 84.0,531.5 84.5,531.5 85.0,531.5 85.5,531.5 86.0,531.5 86.5,531.5 87.0,531.5 87.5,531.5 88.0,531.5 88.5,531.5 89.0,531.5 89.5,531.3 90.0,530.9 90.5,530.3 91.0,529.6 91.5,528.9 92.0,528.3 92.5,528.0 93.0,527.9 93.5,527.8 94.0,527.7 94.5,527.7 95.0,527.7 95.5,527.6 96.0,527.6 96.5,527.6 97.0,527.6 97.5,527.6 98.0,527.5 98.5,527.5 99.0,527.5 99.5,527.4 100.0,527.4 100.5,527.3 101.0,527.3 101.5,527.2 102.0,527.1 102.5,527.1 103.0,527.0 103.5,526.9 104.0,526.8 104.5,526.8 105.0,526.7 105.5,526.6 106.0,526.5 106.5,526.4 107.0,526.3 107.5,526.2 108.0,526.1 108.5,526.0 109.0,525.8 109.5,525.7 110.0,525.6 110.5,525.4 111.0,525.3 111.5,525.1 112.0,524.9 112.5,524.6 113.0,524.4 113.5,524.1 114.0,523.8 114.5,523.5 115.0,523.2 115.5,522.9 116.0,522.6 116.5,522.3 117.0,522.0 117.5,521.8 118.0,521.5 118.5,521.2 119.0,521.0 119.5,520.7 120.0,520.5 120.5,520.3 121.0,520.2 121.5,520.1 122.0,520.0 122.5,519.9 123.0,519.8 123.5,519.7 124.0,519.6 124.5,519.5 125.0,519.4 125.5,519.2 126.0,518.9 126.5,518.6 127.0,518.3 127.5,518.0 128.0,517.7 128.5,517.4 129.0,517.0 129.5,516.8 130.0,516.6 130.5,516.5 131.0,516.5 131.5,516.4 132.0,516.4 132.5,516.4 133.0,516.3 133.5,516.3 134.0,516.3 134.5,516.2 135.0,516.2 135.5,516.1 136.0,516.1 136.5,516.0 137.0,515.9 137.5,515.8 138.0,515.7 138.5,515.6 139.0,515.5 139.5,515.4 140.0,515.3 140.5,515.2 141.0,515.1 141.5,515.0 142.0,514.9 142.5,514.8 143.0,514.7 143.5,514.6 144.0,514.5 144.5,514.4 145.0,514.3 145.5,514.2 146.0,514.1 146.5,514.1 147.0,514.0 147.5,513.9 148.0,513.8 148.5,513.7 149.0,513.5 149.5,513.3 150.0,513.1 150.5,512.8 151.0,512.5 151.5,512.1 152.0,511.6 152.5,510.9 153.0,510.2 153.5,509.4 154.0,508.5 154.5,507.4 155.0,506.0 155.5,504.5 156.0,503.1 156.5,502.1 157.0,501.2 157.5,500.3 158.0,499.4 158.5,498.7 159.0,498.0 159.5,497.6 160.0,497.4 160.5,497.3 161.0,497.3 161.5,497.2 162.0,497.2 162.5,497.2 163.0,497.2 163.5,497.1 164.0,497.1 164.5,497.1 165.0,497.0 165.5,496.9 166.0,496.7 166.5,496.5 167.0,496.3 167.5,496.1 168.0,495.8 168.5,495.5 169.0,495.2 169.5,494.9 170.0,494.7 170.5,494.4 171.0,494.1 171.5,493.8 172.0,493.6 172.5,493.4 173.0,493.3 173.5,494.0 174.0,495.6 174.5,497.2 175.0,497.9 175.5,497.5 176.0,496.4 176.5,494.8 177.0,493.1 177.5,491.3 178.0,489.7 178.5,488.6 179.0,488.2 179.5,488.5 180.0,489.2 180.5,490.2 181.0,491.4 181.5,492.6 182.0,493.7 182.5,494.6 183.0,495.6 183.5,496.5 184.0,497.5 184.5,498.5 185.0,499.6 185.5,500.8 186.0,502.1 186.5,503.5 187.0,504.9 187.5,506.1 188.0,507.0 188.5,507.8 189.0,508.6 189.5,509.3 190.0,509.9 190.5,510.4 191.0,510.5 191.5,510.5 192.0,510.4 192.5,510.2 193.0,510.0 193.5,509.8 194.0,509.5 194.5,509.3 195.0,509.0 195.5,508.7 196.0,508.4 196.5,507.9 197.0,507.5 197.5,507.0 198.0,506.5 198.5,505.9 199.0,505.3 199.5,504.7 200.0,504.0 200.5,503.3 201.0,502.5 201.5,501.6 202.0,500.6 202.5,499.6 203.0,498.5 203.5,497.4 204.0,496.3 204.5,495.1 205.0,494.0 205.5,492.8 206.0,491.3 206.5,489.8 207.0,488.3 207.5,486.9 208.0,485.6 208.5,484.6 209.0,484.0 209.5,483.6 210.0,483.3 210.5,482.9 211.0,482.7 211.5,482.6 212.0,482.5 212.5,482.7 213.0,483.3 213.5,484.1 214.0,485.0 214.5,486.0 215.0,487.0 215.5,488.0 216.0,489.1 216.5,490.4 217.0,491.7 217.5,493.1 218.0,494.5 218.5,496.0 219.0,497.4 219.5,498.7 220.0,500.0 220.5,501.3 221.0,502.8 221.5,504.3 222.0,505.8 222.5,507.1 223.0,508.2 223.5,509.1 224.0,509.5 224.5,509.7 225.0,509.9 225.5,510.1 226.0,510.2 226.5,510.3 227.0,510.4 227.5,510.5 228.0,510.5 228.5,510.4 229.0,510.3 229.5,510.0 230.0,509.7 230.5,509.3 231.0,508.9 231.5,508.5 232.0,508.0 232.5,507.5 233.0,506.8 233.5,506.0 234.0,505.1 234.5,504.2 235.0,503.3 235.5,502.4 236.0,501.5 236.5,500.6 237.0,499.7 237.5,498.7 238.0,497.8 238.5,496.9 239.0,496.1 239.5,495.5 240.0,495.0 240.5,494.6 241.0,494.3 241.5,494.0 242.0,493.7 242.5,493.4 243.0,493.2 243.5,493.0 244.0,492.8 244.5,492.7 245.0,492.7 245.5,492.7 246.0,492.8 246.5,492.9 247.0,493.0 247.5,493.2 248.0,493.4 248.5,493.6 249.0,493.9 249.5,494.1 250.0,494.4 250.5,494.7 251.0,495.1 251.5,495.6 252.0,496.2 252.5,496.8 253.0,497.4 253.5,498.1 254.0,498.7 254.5,499.4 255.0,500.0 255.5,500.6 256.0,501.4 256.5,502.2 257.0,503.0 257.5,503.8 258.0,504.5 258.5,505.2 259.0,505.7 259.5,506.1 260.0,506.3 260.5,506.4 261.0,506.5 261.5,506.6 262.0,506.7 262.5,506.7 263.0,506.8 263.5,506.8 264.0,506.9 264.5,506.9 265.0,506.9 265.5,506.9 266.0,506.8 266.5,506.6 267.0,506.4 267.5,506.1 268.0,505.8 268.5,505.5 269.0,505.1 269.5,504.8 270.0,504.4 270.5,504.0 271.0,503.5 271.5,502.8 272.0,502.2 272.5,501.4 273.0,500.7 273.5,500.0 274.0,499.3 274.5,498.7 275.0,498.1 275.5,497.6 276.0,497.2 276.5,496.8 277.0,496.5 277.5,496.1 278.0,495.7 278.5,495.3 279.0,494.9 279.5,494.4 280.0,493.8 280.5,493.1 281.0,492.3 281.5,491.3 282.0,490.0 282.5,488.2 283.0,485.7 283.5,482.3 284.0,478.0 284.5,470.4 285.0,460.0 285.5,449.1 286.0,437.2 286.5,424.3 287.0,411.0 287.5,394.8 288.0,376.9 288.5,363.1 289.0,357.3 289.5,354.2 290.0,351.0 290.5,346.0 291.0,339.7 291.5,333.3 292.0,328.0 292.5,325.0 293.0,325.1 293.5,327.1 294.0,330.5 294.5,335.0 295.0,340.2 295.5,345.6 296.0,351.0 296.5,357.2 297.0,364.6 297.5,373.4 298.0,383.0 298.5,392.6 299.0,401.4 299.5,408.7 300.0,414.2 300.5,419.6 301.0,424.7 301.5,429.4 302.0,433.4 302.5,436.3 303.0,438.0 303.5,438.2 304.0,437.7 304.5,436.6 305.0,435.2 305.5,433.5 306.0,431.6 306.5,429.8 307.0,428.1 307.5,426.7 308.0,425.6 308.5,425.1 309.0,425.2 309.5,426.3 310.0,428.4 310.5,431.2 311.0,434.5 311.5,438.3 312.0,442.4 312.5,446.6 313.0,450.8 313.5,454.9 314.0,458.6 314.5,462.0 315.0,465.5 315.5,469.0 316.0,472.3 316.5,475.7 317.0,478.9 317.5,482.1 318.0,485.0 318.5,487.8 319.0,490.4 319.5,492.9 320.0,495.0 320.5,497.1 321.0,499.1 321.5,500.7 322.0,501.3 322.5,501.1 323.0,500.7 323.5,500.1 324.0,499.4 324.5,499.0 325.0,498.8 325.5,498.8 326.0,499.0 326.5,499.2 327.0,499.4 327.5,499.7 328.0,500.0 328.5,500.5 329.0,501.3 329.5,502.1 330.0,502.9 330.5,503.6 331.0,503.8 331.5,503.8 332.0,503.7 332.5,503.5 333.0,503.2 333.5,503.0 334.0,502.6 334.5,502.2 335.0,501.8 335.5,501.0 336.0,499.8 336.5,498.1 337.0,496.1 337.5,494.1 338.0,492.0 338.5,489.7 339.0,487.0 339.5,484.3 340.0,482.0 340.5,480.0 341.0,478.0 341.5,476.2 342.0,474.5 342.5,473.2 343.0,472.3 343.5,471.7 344.0,471.2 344.5,470.7 345.0,470.3 345.5,470.0 346.0,469.7 346.5,469.4 347.0,469.1 347.5,468.8 348.0,468.5 348.5,468.4 349.0,468.3 349.5,468.4 350.0,468.7 350.5,469.1 351.0,469.7 351.5,471.0 352.0,473.1 352.5,475.6 353.0,477.7 353.5,479.4 354.0,481.0 354.5,482.6 355.0,484.1 355.5,485.6 356.0,487.0 356.5,488.5 357.0,489.9 357.5,491.4 358.0,492.8 358.5,494.2 359.0,495.5 359.5,496.7 360.0,497.7 360.5,498.7 361.0,499.7 361.5,500.7 362.0,501.6 362.5,502.5 363.0,503.3 363.5,504.0 364.0,504.5 364.5,504.9 365.0,505.0 365.5,505.0 366.0,505.0 366.5,505.0 367.0,505.0 367.5,505.0 368.0,505.0 368.5,505.0 369.0,505.0 369.5,505.0 370.0,505.0 370.5,505.0 371.0,505.1 371.5,505.2 372.0,505.3 372.5,505.4 373.0,505.6 373.5,505.8 374.0,506.0 374.5,506.2 375.0,506.5 375.5,507.1 376.0,508.1 376.5,509.3 377.0,510.5 377.5,511.4 378.0,511.7 378.5,511.6 379.0,511.4 379.5,511.1 380.0,510.8 380.5,510.4 381.0,509.9 381.5,509.4 382.0,509.0 382.5,508.5 383.0,507.9 383.5,507.3 384.0,506.6 384.5,506.0 385.0,505.3 385.5,504.8 386.0,504.3 386.5,504.0 387.0,503.8 387.5,503.6 388.0,503.0 388.1,502.5 388.2,501.4 388.3,500.0 388.4,498.2 388.5,495.7 388.6,492.6 388.7,489.2 388.8,485.4 388.9,481.6 389.0,477.8 389.1,474.2 389.2,471.0 389.3,468.3 389.4,466.1 389.5,464.2 389.6,462.5 389.7,460.8 389.8,458.9 389.9,456.6 390.0,453.7 390.1,450.1 390.2,445.6 390.3,440.0 390.4,420.3 390.5,382.6 390.6,340.0 390.7,282.9 390.8,240.0 390.9,229.6 391.0,222.0 391.1,216.6 391.2,212.6 391.3,209.4 391.4,206.2 391.5,202.3 391.6,197.2 391.7,190.0 391.8,176.3 391.9,159.3 392.0,150.0 392.1,148.4 392.2,147.2 392.3,146.4 392.4,146.2 392.5,146.2 392.6,146.2 392.7,146.2 392.8,146.2 392.9,146.2 393.0,146.2 393.1,146.2 393.2,146.2 393.3,146.2 393.4,146.2 393.5,146.2 393.6,146.2 393.7,146.4 393.8,147.2 393.9,148.4 394.0,150.0 394.1,159.0 394.2,175.7 394.3,190.0 394.4,198.8 394.5,206.1 394.6,212.5 394.7,218.6 394.8,224.8 394.9,231.8 395.0,240.0 395.1,249.9 395.2,261.4 395.3,273.9 395.4,287.3 395.5,300.9 395.6,314.5 395.7,327.7 395.8,340.0 395.9,352.4 396.0,365.6 396.1,379.3 396.2,392.8 396.3,405.6 396.4,417.2 396.5,427.2 396.6,434.9 396.7,440.0 396.8,443.3 396.9,446.3 397.0,449.0 397.1,451.4 397.2,453.5 397.3,455.5 397.4,457.2 397.5,458.9 397.6,460.4 397.7,461.8 397.8,463.2 397.9,464.6 398.0,466.1 398.1,467.6 398.2,469.2 398.3,471.0 398.4,472.9 398.5,474.8 398.6,476.7 398.7,478.4 398.8,480.0 398.9,481.4 399.0,482.8 399.1,484.1 399.2,485.4 399.3,486.6 399.4,487.8 399.5,488.9 399.6,490.1 399.7,491.2 399.8,492.2 399.9,493.3 400.0,494.4 400.1,495.5 400.2,496.6 400.3,497.7 400.4,498.8 400.5,500.0 400.6,501.2 400.7,502.5 400.8,503.8 400.9,505.1 401.0,506.3 401.1,507.6 401.2,508.8 401.3,510.0 401.4,511.0 401.5,512.0 401.6,512.9 401.7,513.9 401.8,514.9 401.9,515.8 402.0,516.7 402.1,517.5 402.2,518.2 402.3,518.8 402.4,519.2 402.5,519.4 402.6,519.5 402.7,519.6 402.8,519.7 402.9,519.8 403.0,519.9 403.5,520.2 404.5,520.6 405.5,521.0 406.5,521.5 407.5,522.0 408.5,522.4 409.5,522.8 410.5,523.2 411.5,523.5 412.5,523.8 413.5,524.0 414.5,524.3 415.5,524.5 416.5,524.8 417.5,525.0 418.5,525.2 419.5,525.3 420.5,525.5 421.5,525.6 422.5,525.7 423.5,525.8 424.5,525.9 425.5,526.0 426.5,526.1 427.5,526.2 428.5,526.3 429.5,526.4 430.5,526.6 431.5,526.7 432.5,526.8 433.5,527.0 434.5,527.2 435.5,527.4 436.5,527.7 437.5,528.1 438.5,528.5 439.5,528.9 440.5,529.1 441.5,529.4 442.5,529.7 443.5,529.9 444.5,530.0 445.5,530.0 446.5,530.0 447.5,530.0 448.5,530.0 449.5,530.0 450.5,529.9 451.5,529.9 452.5,529.9 453.5,529.8 454.5,529.7 455.5,529.1 456.5,526.9 457.5,526.2 458.5,526.2 459.5,527.4 460.5,531.0 461.5,529.7 462.5,529.3 463.5,529.3 464.5,529.3 465.5,529.3 466.5,529.3 467.5,529.3 468.5,529.6 469.5,530.8 470.5,531.3 471.5,531.3 472.5,531.3 473.5,531.2 474.5,531.2 475.5,531.2 476.5,531.1 477.5,531.1 478.5,531.0 479.5,530.9 480.5,530.9 481.5,530.8 482.5,530.7 483.5,530.6 484.5,530.5 485.5,530.4 486.5,530.3 487.5,530.0 488.5,529.8 489.5,529.6 490.5,529.4 491.5,529.3 492.5,529.2 493.5,529.1 494.5,528.9 495.5,528.9 496.5,528.8 497.5,528.7 498.5,528.7 499.5,528.7 500.5,528.8 501.5,529.0 502.5,529.2 503.5,529.4 504.5,529.7 505.5,529.9 506.5,530.3 507.5,530.7 508.5,530.9 509.5,531.0 510.5,531.1 511.5,531.1 512.5,531.2 513.5,531.2 514.5,531.3 515.5,531.3 516.5,531.3 517.5,531.4 518.5,531.4 519.5,531.4 520.5,531.4 521.5,531.5 522.5,531.5 523.5,531.5 524.5,531.5 525.5,531.5 526.5,531.5 527.5,531.4 528.5,530.9 529.5,530.3 530.5,530.3 531.5,530.9 532.5,531.4 533.5,531.5 534.5,531.5 535.5,531.5 536.5,531.5 537.5,531.5 538.5,531.5 539.5,531.5 540.5,531.5 541.5,531.5 542.5,531.5 543.5,531.5 544.5,531.5 545.5,531.5 546.5,531.5 547.5,531.5 548.5,531.5 549.5,531.5 550.5,531.5 551.5,531.5 552.5,531.5 553.5,531.5 554.5,531.5 555.5,531.5 556.5,531.5 557.5,531.5 558.5,531.5 559.5,531.5 560.5,531.5 561.5,531.5 562.5,531.5 563.5,531.5 564.5,531.5 565.5,531.5 566.5,531.5 567.5,531.5 568.5,531.5 569.5,531.5 570.5,531.5 571.5,531.5 572.5,531.5 573.5,531.5 574.5,531.5 575.5,531.5 576.5,531.5 577.5,531.5 578.5,531.5 579.5,531.5 580.5,531.5 581.5,531.5 582.5,531.5 583.5,531.5 584.5,531.5 585.5,531.5 586.5,531.5 587.5,531.5 588.5,531.5 589.5,531.5 590.5,531.5 591.5,531.5 592.5,531.5 593.5,531.5 594.5,531.5 595.5,531.5 596.5,531.5 597.5,531.5 598.5,531.5 599.5,531.5 600.5,531.5 601.5,531.5 602.5,531.5 603.5,531.5 604.5,531.5 605.5,531.5 606.5,531.5 607.5,531.5 608.5,531.5 609.5,531.5 610.5,531.5 611.5,531.5 612.5,531.5 613.5,531.5 614.5,531.5 615.5,531.5 616.5,531.5 617.5,531.5 618.5,531.5 619.5,531.5 620.5,531.5 621.5,531.5 622.5,531.5 623.5,531.5 624.5,531.5 625.5,531.5 626.5,531.5 627.5,531.5 628.5,531.5 629.5,531.5 630.5,531.5 631.5,531.5 632.5,531.5 633.5,531.5 634.5,531.5 635.5,531.5 636.5,531.5 637.5,531.5 638.5,531.5 639.5,531.5 640.5,531.5 641.5,531.5 642.5,531.5 643.5,531.5 644.5,531.5 645.5,531.5 646.5,531.5 647.5,531.5 648.5,531.5 649.5,531.5 650.5,531.5 651.5,531.5 652.5,531.5 653.5,531.4 654.5,531.2 655.5,531.1 656.5,530.9 657.5,530.8 658.5,530.8 659.5,530.9 660.5,531.1 661.5,531.2 662.5,531.4 663.5,531.5 664.5,531.5 665.5,531.5 666.5,531.5 667.5,531.5 668.5,531.5 669.5,531.5 670.5,531.5 671.5,531.5 672.5,531.5 673.5,531.5 674.5,531.5 675.5,531.5 676.5,531.5 677.5,531.5 678.5,531.5 679.5,531.5 680.5,531.5 681.5,531.5 682.5,531.5 683.5,531.5 684.5,531.5 685.5,531.5 686.5,531.5 687.5,531.5 688.5,531.5 689.5,531.5 690.5,531.5 691.5,531.5 692.5,531.5 693.5,531.5 694.5,531.5 695.5,531.5 696.5,531.5 697.5,531.5 698.5,531.5 699.5,531.5 700.5,531.5 701.5,531.5 702.5,531.5 703.5,531.5 704.5,531.5 705.5,531.5 706.5,531.5 707.5,531.5 708.5,531.5 709.5,531.5 710.5,531.5 711.5,531.5" fill="none" stroke="#e56e5a" stroke-width="0.7" stroke-opacity="0.6" stroke-linejoin="round"/>
<polyline points="68.5,531.8 69.0,531.8 69.5,531.8 70.0,531.8 70.5,531.8 71.0,531.8 71.5,531.8 72.0,531.8 72.5,531.8 73.0,531.8 73.5,531.8 74.0,531.8 74.5,531.8 75.0,531.8 75.5,531.8 76.0,531.8 76.5,531.8 77.0,531.8 77.5,531.8 78.0,531.8 78.5,531.8 79.0,531.8 79.5,531.8 80.0,531.8 80.5,531.8 81.0,531.8 81.5,531.8 82.0,531.8 82.5,531.8 83.0,531.8 83.5,531.8 84.0,531.8 84.5,531.8 85.0,531.8 85.5,531.8 86.0,531.8 86.5,531.8 87.0,531.8 87.5,531.8 88.0,531.8 88.5,531.8 89.0,531.8 89.5,531.7 90.0,531.4 90.5,530.9 91.0,530.4 91.5,530.0 92.0,529.6 92.5,529.3 93.0,529.3 93.5,529.2 94.0,529.2 94.5,529.2 95.0,529.2 95.5,529.1 96.0,529.1 96.5,529.1 97.0,529.1 97.5,529.1 98.0,529.1 98.5,529.1 99.0,529.0 99.5,529.0 100.0,529.0 100.5,529.0 101.0,528.9 101.5,528.9 102.0,528.8 102.5,528.8 103.0,528.7 103.5,528.7 104.0,528.6 104.5,528.5 105.0,528.5 105.5,528.4 106.0,528.3 106.5,528.3 107.0,528.2 107.5,528.1 108.0,528.0 108.5,527.9 109.0,527.8 109.5,527.7 110.0,527.7 110.5,527.6 111.0,527.4 111.5,527.3 112.0,527.1 112.5,526.9 113.0,526.7 113.5,526.5 114.0,526.3 114.5,526.1 115.0,525.8 115.5,525.6 116.0,525.4 116.5,525.2 117.0,525.0 117.5,524.8 118.0,524.6 118.5,524.4 119.0,524.3 119.5,524.2 120.0,524.1 120.5,524.0 121.0,524.0 121.5,524.0 122.0,524.0 122.5,524.0 123.0,524.0 123.5,524.0 124.0,524.0 124.5,524.0 125.0,524.0 125.5,523.9 126.0,523.8 126.5,523.5 127.0,523.1 127.5,522.8 128.0,522.4 128.5,522.0 129.0,521.7 129.5,521.4 130.0,521.2 130.5,521.1 131.0,521.0 131.5,520.9 132.0,520.8 132.5,520.7 133.0,520.6 133.5,520.6 134.0,520.5 134.5,520.4 135.0,520.3 135.5,520.2 136.0,520.0 136.5,519.9 137.0,519.8 137.5,519.6 138.0,519.4 138.5,519.3 139.0,519.2 139.5,519.0 140.0,518.9 140.5,518.8 141.0,518.7 141.5,518.6 142.0,518.5 142.5,518.4 143.0,518.3 143.5,518.2 144.0,518.1 144.5,518.1 145.0,518.0 145.5,518.0 146.0,517.9 146.5,517.9 147.0,517.9 147.5,517.8 148.0,517.8 148.5,517.8 149.0,517.7 149.5,517.7 150.0,517.6 150.5,517.4 151.0,517.0 151.5,516.4 152.0,515.7 152.5,514.9 153.0,514.1 153.5,513.2 154.0,512.4 154.5,511.7 155.0,511.1 155.5,510.5 156.0,510.0 156.5,509.3 157.0,508.8 157.5,508.2 158.0,507.7 158.5,507.2 159.0,506.9 159.5,506.7 160.0,506.6 160.5,506.7 161.0,506.9 161.5,507.2 162.0,507.6 162.5,508.0 163.0,508.5 163.5,508.9 164.0,509.3 164.5,509.6 165.0,509.8 165.5,509.9 166.0,510.1 166.5,510.2 167.0,510.3 167.5,510.4 168.0,510.5 168.5,510.6 169.0,510.7 169.5,510.7 170.0,510.7 170.5,510.6 171.0,510.3 171.5,510.0 172.0,509.7 172.5,509.4 173.0,509.3 173.5,509.7 174.0,510.6 174.5,511.6 175.0,512.0 175.5,511.7 176.0,510.9 176.5,509.8 177.0,508.6 177.5,507.4 178.0,506.3 178.5,505.5 179.0,505.2 179.5,505.3 180.0,505.8 180.5,506.3 181.0,507.0 181.5,507.7 182.0,508.4 182.5,509.1 183.0,510.0 183.5,511.0 184.0,511.8 184.5,512.6 185.0,513.0 185.5,513.2 186.0,513.4 186.5,513.6 187.0,513.7 187.5,513.8 188.0,514.0 188.5,514.2 189.0,514.6 189.5,514.9 190.0,515.2 190.5,515.4 191.0,515.5 191.5,515.5 192.0,515.4 192.5,515.2 193.0,515.0 193.5,514.8 194.0,514.5 194.5,514.3 195.0,514.0 195.5,513.7 196.0,513.2 196.5,512.7 197.0,512.2 197.5,511.5 198.0,510.9 198.5,510.2 199.0,509.5 199.5,508.7 200.0,508.0 200.5,507.3 201.0,506.5 201.5,505.7 202.0,504.8 202.5,503.9 203.0,503.0 203.5,502.0 204.0,501.1 204.5,500.0 205.0,499.0 205.5,497.8 206.0,496.4 206.5,495.0 207.0,493.5 207.5,492.0 208.0,490.7 208.5,489.7 209.0,489.0 209.5,488.5 210.0,488.0 210.5,487.6 211.0,487.3 211.5,487.1 212.0,487.0 212.5,487.1 213.0,487.5 213.5,488.0 214.0,488.6 214.5,489.3 215.0,490.0 215.5,490.9 216.0,492.0 216.5,493.4 217.0,495.0 217.5,496.7 218.0,498.5 218.5,500.2 219.0,501.9 219.5,503.5 220.0,505.0 220.5,506.4 221.0,507.9 221.5,509.4 222.0,510.8 222.5,512.1 223.0,513.3 223.5,514.3 224.0,515.0 224.5,515.6 225.0,516.1 225.5,516.6 226.0,517.1 226.5,517.5 227.0,517.7 227.5,517.9 228.0,518.0 228.5,517.9 229.0,517.5 229.5,516.9 230.0,516.2 230.5,515.4 231.0,514.5 231.5,513.7 232.0,513.0 232.5,512.3 233.0,511.5 233.5,510.7 234.0,509.8 234.5,509.0 235.0,508.2 235.5,507.6 236.0,507.0 236.5,506.5 237.0,506.0 237.5,505.5 238.0,505.0 238.5,504.6 239.0,504.3 239.5,504.1 240.0,504.0 240.5,504.0 241.0,503.9 241.5,503.9 242.0,503.9 242.5,503.9 243.0,503.8 243.5,503.8 244.0,503.8 244.5,503.8 245.0,503.8 245.5,503.8 246.0,503.9 246.5,504.0 247.0,504.2 247.5,504.4 248.0,504.6 248.5,504.8 249.0,505.1 249.5,505.3 250.0,505.6 250.5,505.9 251.0,506.3 251.5,506.7 252.0,507.2 252.5,507.7 253.0,508.2 253.5,508.7 254.0,509.2 254.5,509.6 255.0,510.0 255.5,510.3 256.0,510.7 256.5,511.0 257.0,511.3 257.5,511.6 258.0,511.9 258.5,512.2 259.0,512.3 259.5,512.5 260.0,512.5 260.5,512.5 261.0,512.5 261.5,512.4 262.0,512.4 262.5,512.3 263.0,512.3 263.5,512.2 264.0,512.1 264.5,512.0 265.0,511.9 265.5,511.8 266.0,511.6 266.5,511.4 267.0,511.2 267.5,511.0 268.0,510.7 268.5,510.4 269.0,510.1 269.5,509.8 270.0,509.4 270.5,508.9 271.0,508.3 271.5,507.6 272.0,506.7 272.5,505.9 273.0,505.0 273.5,504.2 274.0,503.5 274.5,502.9 275.0,502.5 275.5,502.2 276.0,502.0 276.5,501.9 277.0,501.7 277.5,501.6 278.0,501.4 278.5,501.3 279.0,501.1 279.5,500.9 280.0,500.6 280.5,500.2 281.0,499.7 281.5,499.1 282.0,498.3 282.5,497.3 283.0,496.0 283.5,493.5 284.0,489.1 284.5,483.7 285.0,478.0 285.5,471.8 286.0,464.5 286.5,456.5 287.0,448.2 287.5,440.0 288.0,431.6 288.5,422.8 289.0,414.2 289.5,406.1 290.0,397.8 290.5,390.3 291.0,385.0 291.5,381.2 292.0,377.7 292.5,374.6 293.0,372.0 293.5,370.2 294.0,369.3 294.5,369.8 295.0,373.0 295.5,378.1 296.0,384.1 296.5,390.0 297.0,396.8 297.5,404.6 298.0,411.0 298.5,415.7 299.0,419.7 299.5,423.3 300.0,426.7 300.5,430.0 301.0,433.7 301.5,437.6 302.0,441.4 302.5,444.5 303.0,446.4 303.5,446.6 304.0,445.8 304.5,444.3 305.0,442.2 305.5,439.7 306.0,437.1 306.5,434.5 307.0,432.0 307.5,429.9 308.0,428.4 308.5,427.6 309.0,427.8 309.5,429.6 310.0,432.7 310.5,436.8 311.0,441.5 311.5,446.5 312.0,451.5 312.5,456.1 313.0,460.0 313.5,463.4 314.0,466.8 314.5,470.0 315.0,473.0 315.5,475.8 316.0,478.4 316.5,481.0 317.0,483.5 317.5,486.1 318.0,488.8 318.5,492.0 319.0,495.6 319.5,498.8 320.0,501.0 320.5,502.5 321.0,503.8 321.5,504.7 322.0,505.0 322.5,505.0 323.0,505.0 323.5,505.0 324.0,505.0 324.5,505.0 325.0,505.0 325.5,505.1 326.0,505.3 326.5,505.7 327.0,506.1 327.5,506.5 328.0,506.9 328.5,507.4 329.0,508.1 329.5,508.7 330.0,509.4 330.5,509.8 331.0,510.0 331.5,510.0 332.0,510.0 332.5,510.0 333.0,510.0 333.5,510.0 334.0,510.0 334.5,510.0 335.0,510.0 335.5,509.5 336.0,508.3 336.5,506.5 337.0,504.3 337.5,502.1 338.0,500.0 338.5,497.9 339.0,495.5 339.5,493.1 340.0,491.0 340.5,489.1 341.0,487.3 341.5,485.6 342.0,484.0 342.5,482.7 343.0,481.7 343.5,480.9 344.0,480.1 344.5,479.4 345.0,478.8 345.5,478.4 346.0,478.3 346.5,478.3 347.0,478.3 347.5,478.3 348.0,478.3 348.5,478.3 349.0,478.3 349.5,478.4 350.0,478.7 350.5,479.1 351.0,479.7 351.5,481.7 352.0,485.4 352.5,489.1 353.0,491.0 353.5,491.3 354.0,491.6 354.5,491.7 355.0,491.8 355.5,492.0 356.0,492.3 356.5,492.9 357.0,493.8 357.5,495.1 358.0,496.5 358.5,498.0 359.0,499.4 359.5,500.7 360.0,501.7 360.5,502.6 361.0,503.4 361.5,504.3 362.0,505.1 362.5,505.9 363.0,506.6 363.5,507.2 364.0,507.7 364.5,508.1 365.0,508.3 365.5,508.4 366.0,508.5 366.5,508.6 367.0,508.7 367.5,508.7 368.0,508.8 368.5,508.8 369.0,508.9 369.5,508.9 370.0,509.0 370.5,509.1 371.0,509.1 371.5,509.2 372.0,509.2 372.5,509.3 373.0,509.3 373.5,509.4 374.0,509.5 374.5,509.6 375.0,509.7 375.5,510.1 376.0,510.9 376.5,511.8 377.0,512.7 377.5,513.4 378.0,513.7 378.5,513.6 379.0,513.3 379.5,512.9 380.0,512.4 380.5,511.8 381.0,511.3 381.5,510.7 382.0,510.3 382.5,509.9 383.0,509.5 383.5,509.1 384.0,508.7 384.5,508.3 385.0,508.0 385.5,507.7 386.0,507.5 386.5,507.3 387.0,507.2 387.5,507.0 388.0,507.0 388.1,506.4 388.2,505.3 388.3,504.0 388.4,502.1 388.5,499.6 388.6,496.5 388.7,493.0 388.8,489.3 388.9,485.5 389.0,481.7 389.1,478.1 389.2,474.8 389.3,472.1 389.4,469.9 389.5,468.0 389.6,466.3 389.7,464.5 389.8,462.6 389.9,460.3 390.0,457.4 390.1,453.8 390.2,449.3 390.3,443.7 390.4,424.0 390.5,386.2 390.6,343.6 390.7,286.5 390.8,243.6 390.9,233.2 391.0,225.6 391.1,220.1 391.2,216.1 391.3,212.9 391.4,209.6 391.5,205.8 391.6,200.6 391.7,193.4 391.8,179.7 391.9,162.7 392.0,153.4 392.1,151.7 392.2,150.5 392.3,149.8 392.4,149.5 392.5,149.5 392.6,149.5 392.7,149.5 392.8,149.5 392.9,149.5 393.0,149.4 393.1,149.4 393.2,149.4 393.3,149.4 393.4,149.4 393.5,149.4 393.6,149.4 393.7,149.6 393.8,150.3 393.9,151.5 394.0,153.1 394.1,162.1 394.2,178.8 394.3,193.0 394.4,201.8 394.5,209.1 394.6,215.5 394.7,221.6 394.8,227.8 394.9,234.7 395.0,242.9 395.1,252.9 395.2,264.3 395.3,276.8 395.4,290.1 395.5,303.8 395.6,317.4 395.7,330.5 395.8,342.8 395.9,355.2 396.0,368.4 396.1,382.1 396.2,395.5 396.3,408.3 396.4,419.9 396.5,429.9 396.6,437.6 396.7,442.7 396.8,446.0 396.9,449.0 397.0,451.6 397.1,454.0 397.2,456.2 397.3,458.1 397.4,459.8 397.5,461.4 397.6,462.9 397.7,464.3 397.8,465.7 397.9,467.1 398.0,468.6 398.1,470.1 398.2,471.7 398.3,473.4 398.4,475.3 398.5,477.2 398.6,479.1 398.7,480.8 398.8,482.4 398.9,483.8 399.0,485.2 399.1,486.5 399.2,487.7 399.3,488.9 399.4,490.1 399.5,491.2 399.6,492.3 399.7,493.4 399.8,494.5 399.9,495.5 400.0,496.6 400.1,497.7 400.2,498.7 400.3,499.8 400.4,501.0 400.5,502.1 400.6,503.3 400.7,504.6 400.8,505.8 400.9,507.1 401.0,508.4 401.1,509.6 401.2,510.8 401.3,512.0 401.4,513.0 401.5,514.0 401.6,514.9 401.7,515.8 401.8,516.8 401.9,517.7 402.0,518.6 402.1,519.4 402.2,520.1 402.3,520.6 402.4,521.0 402.5,521.2 402.6,521.2 402.7,521.3 402.8,521.3 402.9,521.4 403.0,521.4 403.5,521.6 404.5,521.8 405.5,522.2 406.5,522.5 407.5,522.8 408.5,523.1 409.5,523.4 410.5,523.6 411.5,523.9 412.5,524.2 413.5,524.4 414.5,524.7 415.5,524.9 416.5,525.1 417.5,525.3 418.5,525.5 419.5,525.7 420.5,525.9 421.5,526.0 422.5,526.1 423.5,526.3 424.5,526.4 425.5,526.5 426.5,526.6 427.5,526.7 428.5,526.8 429.5,526.9 430.5,527.1 431.5,527.2 432.5,527.4 433.5,527.5 434.5,527.7 435.5,527.9 436.5,528.3 437.5,528.6 438.5,529.0 439.5,529.4 440.5,529.6 441.5,529.9 442.5,530.1 443.5,530.3 444.5,530.4 445.5,530.4 446.5,530.4 447.5,530.4 448.5,530.4 449.5,530.3 450.5,530.3 451.5,530.3 452.5,530.2 453.5,530.1 454.5,530.0 455.5,529.5 456.5,527.5 457.5,527.0 458.5,527.0 459.5,528.1 460.5,531.3 461.5,530.2 462.5,529.8 463.5,529.8 464.5,529.8 465.5,529.8 466.5,529.8 467.5,529.8 468.5,530.1 469.5,530.8 470.5,531.4 471.5,531.5 472.5,531.5 473.5,531.5 474.5,531.5 475.5,531.4 476.5,531.4 477.5,531.4 478.5,531.3 479.5,531.3 480.5,531.3 481.5,531.2 482.5,531.1 483.5,531.1 484.5,531.0 485.5,531.0 486.5,530.8 487.5,530.5 488.5,530.3 489.5,530.1 490.5,529.9 491.5,529.8 492.5,529.7 493.5,529.6 494.5,529.5 495.5,529.4 496.5,529.4 497.5,529.3 498.5,529.3 499.5,529.3 500.5,529.4 501.5,529.6 502.5,529.8 503.5,530.0 504.5,530.2 505.5,530.4 506.5,530.7 507.5,531.0 508.5,531.2 509.5,531.3 510.5,531.4 511.5,531.4 512.5,531.5 513.5,531.5 514.5,531.5 515.5,531.5 516.5,531.5 517.5,531.5 518.5,531.5 519.5,531.5 520.5,531.5 521.5,531.5 522.5,531.5 523.5,531.5 524.5,531.5 525.5,531.5 526.5,531.5 527.5,531.5 528.5,531.5 529.5,531.5 530.5,531.5 531.5,531.5 532.5,531.5 533.5,531.5 534.5,531.5 535.5,531.5 536.5,531.5 537.5,531.5 538.5,531.5 539.5,531.5 540.5,531.5 541.5,531.5 542.5,531.5 543.5,531.5 544.5,531.5 545.5,531.5 546.5,531.5 547.5,531.5 548.5,531.5 549.5,531.5 550.5,531.5 551.5,531.5 552.5,531.5 553.5,531.5 554.5,531.5 555.5,531.5 556.5,531.5 557.5,531.5 558.5,531.5 559.5,531.5 560.5,531.5 561.5,531.5 562.5,531.5 563.5,531.5 564.5,531.5 565.5,531.5 566.5,531.5 567.5,531.5 568.5,531.5 569.5,531.5 570.5,531.5 571.5,531.5 572.5,531.5 573.5,531.5 574.5,531.5 575.5,531.5 576.5,531.6 577.5,531.6 578.5,531.6 579.5,531.6 580.5,531.6 581.5,531.6 582.5,531.6 583.5,531.6 584.5,531.6 585.5,531.6 586.5,531.6 587.5,531.6 588.5,531.6 589.5,531.6 590.5,531.6 591.5,531.6 592.5,531.6 593.5,531.6 594.5,531.6 595.5,531.6 596.5,531.6 597.5,531.6 598.5,531.6 599.5,531.6 600.5,531.6 601.5,531.6 602.5,531.6 603.5,531.6 604.5,531.6 605.5,531.6 606.5,531.6 607.5,531.6 608.5,531.6 609.5,531.6 610.5,531.6 611.5,531.6 612.5,531.6 613.5,531.6 614.5,531.6 615.5,531.6 616.5,531.6 617.5,531.6 618.5,531.6 619.5,531.6 620.5,531.6 621.5,531.6 622.5,531.6 623.5,531.6 624.5,531.6 625.5,531.6 626.5,531.6 627.5,531.6 628.5,531.6 629.5,531.6 630.5,531.6 631.5,531.6 632.5,531.6 633.5,531.6 634.5,531.6 635.5,531.6 636.5,531.6 637.5,531.6 638.5,531.6 639.5,531.6 640.5,531.6 641.5,531.6 642.5,531.6 643.5,531.6 644.5,531.7 645.5,531.7 646.5,531.7 647.5,531.7 648.5,531.7 649.5,531.7 650.5,531.7 651.5,531.7 652.5,531.7 653.5,531.7 654.5,531.7 655.5,531.7 656.5,531.7 657.5,531.7 658.5,531.7 659.5,531.7 660.5,531.7 661.5,531.7 662.5,531.7 663.5,531.7 664.5,531.7 665.5,531.7 666.5,531.7 667.5,531.7 668.5,531.7 669.5,531.7 670.5,531.7 671.5,531.7 672.5,531.7 673.5,531.7 674.5,531.7 675.5,531.7 676.5,531.7 677.5,531.7 678.5,531.7 679.5,531.7 680.5,531.7 681.5,531.7 682.5,531.7 683.5,531.7 684.5,531.7 685.5,531.7 686.5,531.7 687.5,531.7 688.5,531.7 689.5,531.7 690.5,531.7 691.5,531.8 692.5,531.8 693.5,531.8 694.5,531.8 695.5,531.8 696.5,531.8 697.5,531.8 698.5,531.8 699.5,531.8 700.5,531.8 701.5,531.8 702.5,531.8 703.5,531.8 704.5,531.8 705.5,531.8 706.5,531.8 707.5,531.8 708.5,531.8 709.5,531.8 710.5,531.8 711.5,531.8" fill="none" stroke="#883039" stroke-width="0.7" stroke-opacity="0.6" stroke-linejoin="round"/>
<polyline points="68.5,532.0 69.0,532.0 69.5,532.0 70.0,532.0 70.5,532.0 71.0,532.0 71.5,532.0 72.0,532.0 72.5,532.0 73.0,532.0 73.5,532.0 74.0,532.0 74.5,532.0 75.0,532.0 75.5,532.0 76.0,532.0 76.5,532.0 77.0,532.0 77.5,532.0 78.0,532.0 78.5,532.0 79.0,532.0 79.5,532.0 80.0,532.0 80.5,532.0 81.0,532.0 81.5,532.0 82.0,532.0 82.5,532.0 83.0,532.0 83.5,532.0 84.0,532.0 84.5,532.0 85.0,532.0 85.5,532.0 86.0,532.0 86.5,532.0 87.0,532.0 87.5,532.0 88.0,532.0 88.5,532.0 89.0,532.0 89.5,531.9 90.0,531.6 90.5,531.2 91.0,530.8 91.5,530.4 92.0,530.0 92.5,529.8 93.0,529.8 93.5,529.7 94.0,529.7 94.5,529.7 95.0,529.7 95.5,529.6 96.0,529.6 96.5,529.6 97.0,529.6 97.5,529.6 98.0,529.6 98.5,529.5 99.0,529.5 99.5,529.5 100.0,529.5 100.5,529.5 101.0,529.4 101.5,529.4 102.0,529.4 102.5,529.4 103.0,529.4 103.5,529.4 104.0,529.3 104.5,529.3 105.0,529.3 105.5,529.3 106.0,529.3 106.5,529.2 107.0,529.2 107.5,529.2 108.0,529.2 108.5,529.1 109.0,529.1 109.5,529.1 110.0,529.0 110.5,529.0 111.0,528.9 111.5,528.9 112.0,528.8 112.5,528.7 113.0,528.6 113.5,528.5 114.0,528.4 114.5,528.2 115.0,528.1 115.5,528.0 116.0,527.9 116.5,527.7 117.0,527.6 117.5,527.5 118.0,527.4 118.5,527.3 119.0,527.2 119.5,527.1 120.0,527.0 120.5,526.9 121.0,526.9 121.5,526.9 122.0,526.8 122.5,526.8 123.0,526.8 123.5,526.8 124.0,526.8 124.5,526.7 125.0,526.7 125.5,526.7 126.0,526.6 126.5,526.5 127.0,526.4 127.5,526.3 128.0,526.2 128.5,526.1 129.0,526.0 129.5,525.9 130.0,525.8 130.5,525.7 131.0,525.6 131.5,525.5 132.0,525.5 132.5,525.4 133.0,525.3 133.5,525.2 134.0,525.1 134.5,525.0 135.0,524.9 135.5,524.8 136.0,524.7 136.5,524.5 137.0,524.4 137.5,524.3 138.0,524.1 138.5,524.0 139.0,523.8 139.5,523.7 140.0,523.5 140.5,523.3 141.0,523.2 141.5,523.0 142.0,522.8 142.5,522.6 143.0,522.4 143.5,522.2 144.0,522.0 144.5,521.9 145.0,521.7 145.5,521.6 146.0,521.4 146.5,521.3 147.0,521.2 147.5,521.1 148.0,521.0 148.5,520.8 149.0,520.7 149.5,520.5 150.0,520.3 150.5,520.0 151.0,519.6 151.5,519.1 152.0,518.6 152.5,518.0 153.0,517.3 153.5,516.7 154.0,516.0 154.5,515.4 155.0,514.8 155.5,514.2 156.0,513.5 156.5,512.7 157.0,511.9 157.5,511.1 158.0,510.4 158.5,509.8 159.0,509.3 159.5,509.0 160.0,508.9 160.5,509.0 161.0,509.1 161.5,509.4 162.0,509.7 162.5,510.0 163.0,510.4 163.5,510.7 164.0,511.1 164.5,511.4 165.0,511.6 165.5,511.8 166.0,512.0 166.5,512.2 167.0,512.4 167.5,512.5 168.0,512.7 168.5,512.8 169.0,512.9 169.5,513.0 170.0,513.0 170.5,512.9 171.0,512.6 171.5,512.3 172.0,512.0 172.5,511.7 173.0,511.6 173.5,511.9 174.0,512.5 174.5,513.1 175.0,513.4 175.5,513.3 176.0,512.9 176.5,512.4 177.0,511.8 177.5,511.2 178.0,510.7 178.5,510.3 179.0,510.2 179.5,510.3 180.0,510.4 180.5,510.6 181.0,510.9 181.5,511.2 182.0,511.6 182.5,512.2 183.0,513.1 183.5,514.1 184.0,515.1 184.5,516.0 185.0,516.5 185.5,516.7 186.0,516.9 186.5,517.0 187.0,517.2 187.5,517.3 188.0,517.5 188.5,517.8 189.0,518.2 189.5,518.7 190.0,519.1 190.5,519.4 191.0,519.5 191.5,519.5 192.0,519.4 192.5,519.2 193.0,519.0 193.5,518.8 194.0,518.5 194.5,518.3 195.0,518.0 195.5,517.7 196.0,517.3 196.5,516.9 197.0,516.4 197.5,515.9 198.0,515.4 198.5,514.8 199.0,514.2 199.5,513.6 200.0,513.0 200.5,512.4 201.0,511.7 201.5,511.1 202.0,510.4 202.5,509.7 203.0,508.9 203.5,508.1 204.0,507.3 204.5,506.4 205.0,505.5 205.5,504.4 206.0,503.2 206.5,501.8 207.0,500.3 207.5,498.9 208.0,497.7 208.5,496.7 209.0,496.0 209.5,495.5 210.0,495.0 210.5,494.6 211.0,494.3 211.5,494.1 212.0,494.0 212.5,494.1 213.0,494.3 213.5,494.6 214.0,495.0 214.5,495.5 215.0,496.0 215.5,496.8 216.0,498.1 216.5,499.7 217.0,501.6 217.5,503.7 218.0,505.9 218.5,508.0 219.0,509.9 219.5,511.6 220.0,513.0 220.5,514.1 221.0,515.3 221.5,516.3 222.0,517.3 222.5,518.2 223.0,519.0 223.5,519.6 224.0,520.0 224.5,520.3 225.0,520.6 225.5,520.8 226.0,521.1 226.5,521.2 227.0,521.4 227.5,521.5 228.0,521.5 228.5,521.4 229.0,521.3 229.5,521.0 230.0,520.7 230.5,520.4 231.0,519.9 231.5,519.5 232.0,519.0 232.5,518.3 233.0,517.4 233.5,516.2 234.0,514.9 234.5,513.6 235.0,512.3 235.5,511.3 236.0,510.5 236.5,509.9 237.0,509.3 237.5,508.7 238.0,508.1 238.5,507.7 239.0,507.3 239.5,507.1 240.0,507.0 240.5,507.0 241.0,507.0 241.5,507.1 242.0,507.1 242.5,507.2 243.0,507.2 243.5,507.3 244.0,507.3 244.5,507.4 245.0,507.5 245.5,507.6 246.0,507.7 246.5,507.9 247.0,508.1 247.5,508.3 248.0,508.5 248.5,508.8 249.0,509.0 249.5,509.2 250.0,509.4 250.5,509.6 251.0,509.8 251.5,510.0 252.0,510.1 252.5,510.3 253.0,510.5 253.5,510.7 254.0,510.9 254.5,511.1 255.0,511.3 255.5,511.5 256.0,511.8 256.5,512.2 257.0,512.5 257.5,512.8 258.0,513.1 258.5,513.4 259.0,513.6 259.5,513.7 260.0,513.8 260.5,513.8 261.0,513.7 261.5,513.6 262.0,513.5 262.5,513.4 263.0,513.2 263.5,513.0 264.0,512.9 264.5,512.7 265.0,512.5 265.5,512.3 266.0,512.1 266.5,511.9 267.0,511.7 267.5,511.5 268.0,511.2 268.5,511.0 269.0,510.7 269.5,510.4 270.0,510.0 270.5,509.5 271.0,508.8 271.5,508.0 272.0,507.1 272.5,506.1 273.0,505.2 273.5,504.4 274.0,503.7 274.5,503.3 275.0,503.1 275.5,503.1 276.0,503.1 276.5,503.1 277.0,503.1 277.5,503.1 278.0,503.0 278.5,503.0 279.0,503.0 279.5,503.0 280.0,503.0 280.5,502.8 281.0,502.2 281.5,501.4 282.0,500.3 282.5,499.0 283.0,497.5 283.5,495.1 284.0,491.4 284.5,486.9 285.0,482.0 285.5,476.4 286.0,469.7 286.5,462.7 287.0,455.9 287.5,449.0 288.0,441.9 288.5,435.0 289.0,427.8 289.5,420.5 290.0,414.0 290.5,409.3 291.0,405.7 291.5,402.6 292.0,400.0 292.5,397.5 293.0,395.0 293.5,392.7 294.0,391.0 294.5,390.1 295.0,390.4 295.5,392.7 296.0,396.1 296.5,400.0 297.0,405.2 297.5,411.0 298.0,415.7 298.5,420.2 299.0,424.5 299.5,428.4 300.0,432.0 300.5,435.6 301.0,439.5 301.5,443.2 302.0,446.5 302.5,449.0 303.0,450.5 303.5,450.7 304.0,449.9 304.5,448.4 305.0,446.3 305.5,443.9 306.0,441.2 306.5,438.6 307.0,436.2 307.5,434.1 308.0,432.6 308.5,431.8 309.0,432.0 309.5,433.7 310.0,436.7 310.5,440.6 311.0,445.2 311.5,450.1 312.0,455.2 312.5,460.0 313.0,466.1 313.5,471.0 314.0,472.6 314.5,473.7 315.0,475.0 315.5,477.1 316.0,479.8 316.5,482.9 317.0,486.2 317.5,489.5 318.0,492.5 318.5,495.7 319.0,499.1 319.5,502.0 320.0,503.8 320.5,504.7 321.0,505.4 321.5,505.9 322.0,506.3 322.5,506.6 323.0,506.8 323.5,507.0 324.0,507.1 324.5,507.3 325.0,507.5 325.5,507.7 326.0,507.9 326.5,508.1 327.0,508.3 327.5,508.5 328.0,508.8 328.5,509.3 329.0,510.0 329.5,510.9 330.0,511.7 330.5,512.3 331.0,512.5 331.5,512.5 332.0,512.5 332.5,512.5 333.0,512.5 333.5,512.5 334.0,512.5 334.5,512.5 335.0,512.5 335.5,512.2 336.0,511.5 336.5,510.5 337.0,509.1 337.5,507.6 338.0,506.0 338.5,503.7 339.0,500.7 339.5,497.5 340.0,495.0 340.5,493.1 341.0,491.4 341.5,489.9 342.0,488.5 342.5,487.3 343.0,486.3 343.5,485.4 344.0,484.6 344.5,483.9 345.0,483.2 345.5,482.7 346.0,482.3 346.5,482.0 347.0,481.7 347.5,481.4 348.0,481.2 348.5,481.1 349.0,481.0 349.5,481.1 350.0,481.4 350.5,481.8 351.0,482.3 351.5,484.3 352.0,488.1 352.5,491.8 353.0,493.7 353.5,494.0 354.0,494.3 354.5,494.4 355.0,494.5 355.5,494.7 356.0,495.0 356.5,495.6 357.0,496.6 357.5,497.8 358.0,499.3 358.5,500.7 359.0,502.1 359.5,503.4 360.0,504.3 360.5,505.1 361.0,505.8 361.5,506.6 362.0,507.3 362.5,507.9 363.0,508.5 363.5,509.0 364.0,509.4 364.5,509.6 365.0,509.7 365.5,509.7 366.0,509.7 366.5,509.7 367.0,509.7 367.5,509.7 368.0,509.7 368.5,509.7 369.0,509.7 369.5,509.7 370.0,509.7 370.5,509.7 371.0,509.8 371.5,509.8 372.0,509.9 372.5,510.1 373.0,510.2 373.5,510.4 374.0,510.6 374.5,510.8 375.0,511.0 375.5,511.4 376.0,512.1 376.5,512.8 377.0,513.5 377.5,514.1 378.0,514.3 378.5,514.2 379.0,514.0 379.5,513.6 380.0,513.2 380.5,512.8 381.0,512.4 381.5,512.0 382.0,511.7 382.5,511.5 383.0,511.3 383.5,511.1 384.0,510.9 384.5,510.7 385.0,510.5 385.5,510.4 386.0,510.3 386.5,510.2 387.0,510.1 387.5,510.0 388.0,510.0 388.1,509.4 388.2,508.3 388.3,506.9 388.4,505.1 388.5,502.6 388.6,499.5 388.7,496.0 388.8,492.2 388.9,488.4 389.0,484.6 389.1,481.0 389.2,477.7 389.3,475.0 389.4,472.8 389.5,470.9 389.6,469.1 389.7,467.4 389.8,465.4 389.9,463.1 390.0,460.2 390.1,456.6 390.2,452.0 390.3,446.4 390.4,426.7 390.5,388.9 390.6,346.3 390.7,289.2 390.8,246.3 390.9,235.9 391.0,228.3 391.1,222.8 391.2,218.8 391.3,215.5 391.4,212.3 391.5,208.4 391.6,203.3 391.7,196.1 391.8,182.3 391.9,165.3 392.0,156.0 392.1,154.3 392.2,153.1 392.3,152.4 392.4,152.1 392.5,152.1 392.6,152.0 392.7,152.0 392.8,152.0 392.9,152.0 393.0,151.9 393.1,151.9 393.2,151.9 393.3,151.9 393.4,151.8 393.5,151.8 393.6,151.8 393.7,152.0 393.8,152.7 393.9,153.9 394.0,155.5 394.1,164.5 394.2,181.2 394.3,195.4 394.4,204.2 394.5,211.5 394.6,217.9 394.7,223.9 394.8,230.1 394.9,237.0 395.0,245.2 395.1,255.1 395.2,266.6 395.3,279.1 395.4,292.4 395.5,306.0 395.6,319.6 395.7,332.7 395.8,345.0 395.9,357.4 396.0,370.6 396.1,384.2 396.2,397.7 396.3,410.5 396.4,422.1 396.5,432.0 396.6,439.8 396.7,444.8 396.8,448.1 396.9,451.1 397.0,453.7 397.1,456.1 397.2,458.2 397.3,460.1 397.4,461.9 397.5,463.4 397.6,464.9 397.7,466.4 397.8,467.7 397.9,469.1 398.0,470.5 398.1,472.0 398.2,473.6 398.3,475.4 398.4,477.3 398.5,479.1 398.6,481.0 398.7,482.7 398.8,484.3 398.9,485.7 399.0,487.0 399.1,488.3 399.2,489.6 399.3,490.8 399.4,491.9 399.5,493.0 399.6,494.1 399.7,495.2 399.8,496.3 399.9,497.3 400.0,498.4 400.1,499.4 400.2,500.5 400.3,501.6 400.4,502.7 400.5,503.8 400.6,505.0 400.7,506.3 400.8,507.5 400.9,508.8 401.0,510.1 401.1,511.3 401.2,512.5 401.3,513.6 401.4,514.6 401.5,515.6 401.6,516.5 401.7,517.4 401.8,518.4 401.9,519.3 402.0,520.2 402.1,520.9 402.2,521.6 402.3,522.2 402.4,522.5 402.5,522.7 402.6,522.8 402.7,522.8 402.8,522.9 402.9,522.9 403.0,522.9 403.5,523.1 404.5,523.5 405.5,523.7 406.5,523.9 407.5,524.1 408.5,524.2 409.5,524.4 410.5,524.6 411.5,524.8 412.5,525.1 413.5,525.3 414.5,525.6 415.5,525.8 416.5,526.1 417.5,526.3 418.5,526.5 419.5,526.7 420.5,526.9 421.5,527.0 422.5,527.2 423.5,527.3 424.5,527.4 425.5,527.5 426.5,527.6 427.5,527.7 428.5,527.8 429.5,527.9 430.5,528.1 431.5,528.1 432.5,528.2 433.5,528.3 434.5,528.4 435.5,528.6 436.5,528.9 437.5,529.2 438.5,529.6 439.5,529.9 440.5,530.1 441.5,530.3 442.5,530.5 443.5,530.7 444.5,530.8 445.5,530.8 446.5,530.8 447.5,530.8 448.5,530.8 449.5,530.7 450.5,530.7 451.5,530.6 452.5,530.5 453.5,530.5 454.5,530.4 455.5,529.9 456.5,528.3 457.5,528.0 458.5,528.3 459.5,529.4 460.5,531.3 461.5,530.4 462.5,530.0 463.5,530.0 464.5,530.0 465.5,530.0 466.5,530.0 467.5,530.0 468.5,530.1 469.5,530.8 470.5,531.4 471.5,531.5 472.5,531.5 473.5,531.5 474.5,531.5 475.5,531.5 476.5,531.5 477.5,531.5 478.5,531.5 479.5,531.4 480.5,531.4 481.5,531.4 482.5,531.3 483.5,531.3 484.5,531.2 485.5,531.2 486.5,531.0 487.5,530.7 488.5,530.5 489.5,530.3 490.5,530.1 491.5,530.0 492.5,529.9 493.5,529.8 494.5,529.7 495.5,529.6 496.5,529.6 497.5,529.5 498.5,529.5 499.5,529.5 500.5,529.6 501.5,529.8 502.5,530.0 503.5,530.2 504.5,530.4 505.5,530.6 506.5,530.9 507.5,531.2 508.5,531.4 509.5,531.5 510.5,531.5 511.5,531.5 512.5,531.5 513.5,531.5 514.5,531.5 515.5,531.5 516.5,531.5 517.5,531.5 518.5,531.5 519.5,531.5 520.5,531.5 521.5,531.5 522.5,531.5 523.5,531.5 524.5,531.5 525.5,531.5 526.5,531.5 527.5,531.5 528.5,531.5 529.5,531.5 530.5,531.5 531.5,531.5 532.5,531.5 533.5,531.5 534.5,531.5 535.5,531.5 536.5,531.5 537.5,531.5 538.5,531.5 539.5,531.5 540.5,531.5 541.5,531.5 542.5,531.5 543.5,531.5 544.5,531.5 545.5,531.5 546.5,531.5 547.5,531.5 548.5,531.5 549.5,531.5 550.5,531.5 551.5,531.5 552.5,531.5 553.5,531.5 554.5,531.5 555.5,531.5 556.5,531.5 557.5,531.5 558.5,531.5 559.5,531.5 560.5,531.5 561.5,531.5 562.5,531.5 563.5,531.5 564.5,531.5 565.5,531.5 566.5,531.5 567.5,531.5 568.5,531.5 569.5,531.5 570.5,531.5 571.5,531.5 572.5,531.5 573.5,531.5 574.5,531.5 575.5,531.5 576.5,531.6 577.5,531.6 578.5,531.6 579.5,531.6 580.5,531.6 581.5,531.6 582.5,531.6 583.5,531.6 584.5,531.6 585.5,531.6 586.5,531.6 587.5,531.6 588.5,531.6 589.5,531.6 590.5,531.6 591.5,531.6 592.5,531.6 593.5,531.6 594.5,531.6 595.5,531.6 596.5,531.6 597.5,531.6 598.5,531.6 599.5,531.6 600.5,531.6 601.5,531.6 602.5,531.6 603.5,531.6 604.5,531.6 605.5,531.6 606.5,531.6 607.5,531.6 608.5,531.6 609.5,531.6 610.5,531.6 611.5,531.6 612.5,531.6 613.5,531.6 614.5,531.6 615.5,531.6 616.5,531.6 617.5,531.6 618.5,531.6 619.5,531.6 620.5,531.6 621.5,531.6 622.5,531.6 623.5,531.6 624.5,531.6 625.5,531.6 626.5,531.6 627.5,531.6 628.5,531.6 629.5,531.6 630.5,531.6 631.5,531.6 632.5,531.6 633.5,531.6 634.5,531.6 635.5,531.6 636.5,531.6 637.5,531.6 638.5,531.6 639.5,531.6 640.5,531.6 641.5,531.6 642.5,531.6 643.5,531.6 644.5,531.7 645.5,531.7 646.5,531.7 647.5,531.7 648.5,531.7 649.5,531.7 650.5,531.7 651.5,531.7 652.5,531.7 653.5,531.7 654.5,531.7 655.5,531.7 656.5,531.7 657.5,531.7 658.5,531.7 659.5,531.7 660.5,531.7 661.5,531.7 662.5,531.7 663.5,531.7 664.5,531.7 665.5,531.7 666.5,531.7 667.5,531.7 668.5,531.7 669.5,531.7 670.5,531.7 671.5,531.7 672.5,531.7 673.5,531.7 674.5,531.7 675.5,531.7 676.5,531.7 677.5,531.7 678.5,531.7 679.5,531.7 680.5,531.7 681.5,531.7 682.5,531.7 683.5,531.7 684.5,531.7 685.5,531.7 686.5,531.7 687.5,531.7 688.5,531.7 689.5,531.7 690.5,531.7 691.5,531.8 692.5,531.8 693.5,531.8 694.5,531.8 695.5,531.8 696.5,531.8 697.5,531.8 698.5,531.8 699.5,531.8 700.5,531.8 701.5,531.8 702.5,531.8 703.5,531.8 704.5,531.8 705.5,531.8 706.5,531.8 707.5,531.8 708.5,531.8 709.5,531.8 710.5,531.8 711.5,531.8" fill="none" stroke="#4c6a9c" stroke-width="0.7" stroke-opacity="0.6" stroke-linejoin="round"/>
<polyline points="68.5,532.0 69.0,532.0 69.5,532.0 70.0,532.0 70.5,532.0 71.0,532.0 71.5,532.0 72.0,532.0 72.5,532.0 73.0,532.0 73.5,532.0 74.0,532.0 74.5,532.0 75.0,532.0 75.5,532.0 76.0,532.0 76.5,532.0 77.0,532.0 77.5,532.0 78.0,532.0 78.5,532.0 79.0,532.0 79.5,532.0 80.0,532.0 80.5,532.0 81.0,532.0 81.5,532.0 82.0,532.0 82.5,532.0 83.0,532.0 83.5,532.0 84.0,532.0 84.5,532.0 85.0,532.0 85.5,532.0 86.0,532.0 86.5,532.0 87.0,532.0 87.5,532.0 88.0,532.0 88.5,532.0 89.0,532.0 89.5,531.9 90.0,531.6 90.5,531.2 91.0,531.1 91.5,531.1 92.0,531.0 92.5,531.0 93.0,531.0 93.5,531.0 94.0,530.9 94.5,530.9 95.0,530.9 95.5,530.8 96.0,530.8 96.5,530.7 97.0,530.7 97.5,530.7 98.0,530.6 98.5,530.6 99.0,530.6 99.5,530.5 100.0,530.5 100.5,530.4 101.0,530.4 101.5,530.4 102.0,530.3 102.5,530.3 103.0,530.2 103.5,530.2 104.0,530.1 104.5,530.1 105.0,530.0 105.5,530.0 106.0,530.0 106.5,529.9 107.0,529.9 107.5,529.8 108.0,529.8 108.5,529.7 109.0,529.6 109.5,529.6 110.0,529.5 110.5,529.5 111.0,529.4 111.5,529.4 112.0,529.3 112.5,529.2 113.0,529.2 113.5,529.1 114.0,529.0 114.5,528.9 115.0,528.9 115.5,528.8 116.0,528.7 116.5,528.6 117.0,528.6 117.5,528.5 118.0,528.4 118.5,528.3 119.0,528.3 119.5,528.2 120.0,528.1 120.5,528.1 121.0,528.0 121.5,527.9 122.0,527.9 122.5,527.8 123.0,527.7 123.5,527.7 124.0,527.6 124.5,527.6 125.0,527.5 125.5,527.5 126.0,527.4 126.5,527.4 127.0,527.3 127.5,527.3 128.0,527.3 128.5,527.2 129.0,527.2 129.5,527.2 130.0,527.1 130.5,527.0 131.0,527.0 131.5,526.9 132.0,526.8 132.5,526.7 133.0,526.6 133.5,526.5 134.0,526.4 134.5,526.3 135.0,526.2 135.5,526.1 136.0,526.0 136.5,525.9 137.0,525.9 137.5,525.8 138.0,525.7 138.5,525.6 139.0,525.5 139.5,525.4 140.0,525.3 140.5,525.2 141.0,525.0 141.5,524.9 142.0,524.7 142.5,524.5 143.0,524.3 143.5,524.2 144.0,524.1 144.5,524.0 145.0,523.9 145.5,523.9 146.0,523.8 146.5,523.8 147.0,523.8 147.5,523.8 148.0,523.7 148.5,523.7 149.0,523.7 149.5,523.7 150.0,523.7 150.5,523.7 151.0,523.7 151.5,523.8 152.0,523.9 152.5,523.9 153.0,524.0 153.5,524.1 154.0,524.2 154.5,524.2 155.0,524.3 155.5,524.4 156.0,524.4 156.5,524.5 157.0,524.5 157.5,524.6 158.0,524.6 158.5,524.7 159.0,524.7 159.5,524.8 160.0,524.8 160.5,524.9 161.0,524.9 161.5,525.0 162.0,525.0 162.5,525.1 163.0,525.2 163.5,525.2 164.0,525.3 164.5,525.3 165.0,525.3 165.5,525.3 166.0,525.2 166.5,525.1 167.0,524.9 167.5,524.8 168.0,524.7 168.5,524.5 169.0,524.4 169.5,524.3 170.0,524.3 170.5,524.3 171.0,524.3 171.5,524.4 172.0,524.4 172.5,524.5 173.0,524.5 173.5,524.6 174.0,524.7 174.5,524.7 175.0,524.8 175.5,524.9 176.0,525.0 176.5,525.1 177.0,525.2 177.5,525.4 178.0,525.5 178.5,525.6 179.0,525.7 179.5,525.8 180.0,525.8 180.5,525.9 181.0,525.9 181.5,526.0 182.0,526.0 182.5,526.1 183.0,526.1 183.5,526.2 184.0,526.2 184.5,526.2 185.0,526.3 185.5,526.4 186.0,526.4 186.5,526.5 187.0,526.6 187.5,526.7 188.0,526.7 188.5,526.8 189.0,526.9 189.5,526.9 190.0,527.0 190.5,527.0 191.0,527.0 191.5,527.0 192.0,527.0 192.5,526.9 193.0,526.8 193.5,526.8 194.0,526.7 194.5,526.6 195.0,526.5 195.5,526.4 196.0,526.3 196.5,526.1 197.0,526.0 197.5,525.8 198.0,525.6 198.5,525.3 199.0,525.1 199.5,524.8 200.0,524.5 200.5,524.1 201.0,523.6 201.5,522.9 202.0,522.1 202.5,521.2 203.0,520.3 203.5,519.2 204.0,518.2 204.5,517.1 205.0,516.0 205.5,514.7 206.0,513.2 206.5,511.4 207.0,509.6 207.5,507.9 208.0,506.3 208.5,505.0 209.0,504.0 209.5,503.3 210.0,502.6 210.5,502.0 211.0,501.5 211.5,501.1 212.0,501.0 212.5,501.1 213.0,501.2 213.5,501.5 214.0,501.8 214.5,502.1 215.0,502.5 215.5,503.1 216.0,504.0 216.5,505.1 217.0,506.5 217.5,508.0 218.0,509.5 218.5,511.0 219.0,512.5 219.5,513.9 220.0,515.0 220.5,516.1 221.0,517.2 221.5,518.3 222.0,519.3 222.5,519.6 223.0,520.4 223.5,521.0 224.0,521.4 224.5,521.6 225.0,521.8 225.5,522.0 226.0,522.1 226.5,522.2 227.0,522.3 227.5,522.4 228.0,522.4 228.5,522.4 229.0,522.3 229.5,522.1 230.0,521.9 230.5,521.7 231.0,521.4 231.5,521.2 232.0,520.9 232.5,520.6 233.0,520.3 233.5,519.9 234.0,519.5 234.5,519.1 235.0,518.7 235.5,518.3 236.0,517.9 236.5,517.5 237.0,517.0 237.5,516.6 238.0,516.1 238.5,515.7 239.0,515.3 239.5,515.0 240.0,514.9 240.5,514.8 241.0,514.8 241.5,514.8 242.0,514.7 242.5,514.7 243.0,514.7 243.5,514.6 244.0,514.6 244.5,514.6 245.0,514.6 245.5,514.6 246.0,514.6 246.5,514.6 247.0,514.6 247.5,514.6 248.0,514.6 248.5,514.6 249.0,514.7 249.5,514.7 250.0,514.7 250.5,514.8 251.0,515.0 251.5,515.3 252.0,515.7 252.5,516.1 253.0,516.6 253.5,517.1 254.0,517.5 254.5,518.0 255.0,519.0 255.5,519.4 256.0,519.8 256.5,520.2 257.0,520.6 257.5,521.1 258.0,521.5 258.5,521.9 259.0,522.2 259.5,522.5 260.0,522.8 260.5,523.0 261.0,523.3 261.5,523.5 262.0,523.7 262.5,523.9 263.0,524.1 263.5,524.2 264.0,524.4 264.5,524.5 265.0,524.6 265.5,524.7 266.0,524.8 266.5,524.9 267.0,525.0 267.5,525.1 268.0,525.2 268.5,525.2 269.0,525.3 269.5,525.3 270.0,525.3 270.5,525.3 271.0,525.3 271.5,525.3 272.0,525.3 272.5,525.3 273.0,525.3 273.5,525.3 274.0,525.3 274.5,525.3 275.0,525.3 275.5,525.3 276.0,525.3 276.5,525.3 277.0,525.3 277.5,525.3 278.0,525.3 278.5,525.3 279.0,525.3 279.5,525.3 280.0,525.3 280.5,525.3 281.0,525.3 281.5,525.2 282.0,525.2 282.5,525.1 283.0,525.0 283.5,524.9 284.0,524.7 284.5,524.4 285.0,524.0 285.5,521.3 286.0,517.0 286.5,513.2 287.0,509.0 287.5,503.8 288.0,497.8 288.5,492.4 289.0,489.0 289.5,487.1 290.0,485.5 290.5,484.4 291.0,484.0 291.5,484.0 292.0,484.0 292.5,484.0 293.0,484.0 293.5,484.4 294.0,485.5 294.5,486.7 295.0,487.8 295.5,488.7 296.0,489.7 296.5,490.7 297.0,491.7 297.5,492.6 298.0,493.5 298.5,494.2 299.0,494.8 299.5,495.2 300.0,495.3 300.5,495.0 301.0,494.3 301.5,493.2 302.0,491.9 302.5,490.3 303.0,488.7 303.5,487.0 304.0,485.4 304.5,484.0 305.0,482.8 305.5,481.7 306.0,480.5 306.5,479.4 307.0,478.4 307.5,477.6 308.0,477.1 308.5,477.1 309.0,477.7 309.5,479.0 310.0,480.6 310.5,482.3 311.0,484.0 311.5,485.7 312.0,487.7 312.5,489.9 313.0,492.2 313.5,494.6 314.0,497.0 314.5,499.3 315.0,501.5 315.5,503.7 316.0,506.0 316.5,508.2 317.0,510.3 317.5,512.3 318.0,514.0 318.5,515.5 319.0,516.9 319.5,518.0 320.0,519.0 320.5,519.9 321.0,520.7 321.5,521.3 322.0,521.5 322.5,521.3 323.0,520.9 323.5,520.2 324.0,519.6 324.5,519.2 325.0,519.0 325.5,519.0 326.0,519.1 326.5,519.2 327.0,519.3 327.5,519.5 328.0,519.6 328.5,519.8 329.0,520.2 329.5,520.6 330.0,521.0 330.5,521.3 331.0,521.5 331.5,521.6 332.0,521.7 332.5,521.8 333.0,521.8 333.5,521.9 334.0,521.9 334.5,522.0 335.0,522.0 335.5,522.0 336.0,522.0 336.5,522.1 337.0,522.1 337.5,522.1 338.0,522.1 338.5,522.0 339.0,521.8 339.5,521.4 340.0,521.0 340.5,520.4 341.0,519.4 341.5,518.1 342.0,516.7 342.5,515.3 343.0,514.0 343.5,512.7 344.0,511.4 344.5,510.0 345.0,508.6 345.5,507.3 346.0,506.0 346.5,504.7 347.0,503.4 347.5,502.1 348.0,500.9 348.5,500.0 349.0,499.3 349.5,498.8 350.0,498.4 350.5,498.1 351.0,498.0 351.5,498.8 352.0,500.6 352.5,502.6 353.0,504.0 353.5,504.7 354.0,505.3 354.5,505.7 355.0,506.2 355.5,506.7 356.0,507.3 356.5,508.1 357.0,509.0 357.5,510.1 358.0,511.2 358.5,512.3 359.0,513.4 359.5,514.4 360.0,515.3 360.5,516.1 361.0,517.0 361.5,517.8 362.0,518.6 362.5,519.4 363.0,520.1 363.5,520.7 364.0,521.3 364.5,521.7 365.0,522.0 365.5,522.2 366.0,522.4 366.5,522.6 367.0,522.8 367.5,522.9 368.0,523.1 368.5,523.2 369.0,523.2 369.5,523.3 370.0,523.3 370.5,523.3 371.0,523.2 371.5,523.2 372.0,523.1 372.5,523.0 373.0,522.9 373.5,522.8 374.0,522.8 374.5,522.7 375.0,522.7 375.5,522.7 376.0,522.9 376.5,523.0 377.0,523.1 377.5,523.3 378.0,523.3 378.5,523.2 379.0,523.1 379.5,522.9 380.0,522.6 380.5,522.3 381.0,522.0 381.5,521.8 382.0,521.5 382.5,521.3 383.0,521.0 383.5,520.8 384.0,520.6 384.5,520.3 385.0,520.1 385.5,519.8 386.0,519.5 386.5,519.1 387.0,518.8 387.5,518.6 388.0,518.5 388.1,517.9 388.2,516.7 388.3,515.3 388.4,513.4 388.5,510.8 388.6,507.7 388.7,504.2 388.8,500.4 388.9,496.5 389.0,492.6 389.1,489.0 389.2,485.7 389.3,482.9 389.4,480.7 389.5,478.7 389.6,477.0 389.7,475.2 389.8,473.2 389.9,470.8 390.0,467.8 390.1,464.2 390.2,459.6 390.3,454.0 390.4,434.2 390.5,396.4 390.6,353.8 390.7,296.6 390.8,253.6 390.9,243.2 391.0,235.5 391.1,230.0 391.2,225.9 391.3,222.6 391.4,219.4 391.5,215.5 391.6,210.3 391.7,203.0 391.8,189.2 391.9,172.2 392.0,162.8 392.1,161.1 392.2,159.9 392.3,159.1 392.4,158.7 392.5,158.7 392.6,158.6 392.7,158.5 392.8,158.5 392.9,158.4 393.0,158.3 393.1,158.3 393.2,158.2 393.3,158.1 393.4,158.1 393.5,158.0 393.6,157.9 393.7,158.1 393.8,158.8 393.9,159.9 394.0,161.5 394.1,170.4 394.2,187.1 394.3,201.3 394.4,210.0 394.5,217.2 394.6,223.6 394.7,229.6 394.8,235.8 394.9,242.6 395.0,250.8 395.1,260.7 395.2,272.0 395.3,284.5 395.4,297.8 395.5,311.4 395.6,324.9 395.7,338.0 395.8,350.3 395.9,362.6 396.0,375.8 396.1,389.3 396.2,402.7 396.3,415.5 396.4,427.1 396.5,437.0 396.6,444.7 396.7,449.7 396.8,452.9 396.9,455.9 397.0,458.5 397.1,460.8 397.2,462.9 397.3,464.7 397.4,466.4 397.5,468.0 397.6,469.4 397.7,470.8 397.8,472.1 397.9,473.5 398.0,474.9 398.1,476.3 398.2,477.9 398.3,479.6 398.4,481.4 398.5,483.2 398.6,485.0 398.7,486.7 398.8,488.2 398.9,489.6 399.0,490.9 399.1,492.2 399.2,493.4 399.3,494.5 399.4,495.6 399.5,496.7 399.6,497.8 399.7,498.8 399.8,499.8 399.9,500.8 400.0,501.8 400.1,502.9 400.2,503.9 400.3,504.9 400.4,506.0 400.5,507.1 400.6,508.3 400.7,509.4 400.8,510.7 400.9,511.9 401.0,513.1 401.1,514.3 401.2,515.4 401.3,516.5 401.4,517.5 401.5,518.4 401.6,519.3 401.7,520.2 401.8,521.1 401.9,522.0 402.0,522.8 402.1,523.5 402.2,524.2 402.3,524.7 402.4,525.0 402.5,525.2 402.6,525.2 402.7,525.2 402.8,525.2 402.9,525.3 403.0,525.3 403.5,525.4 404.5,525.7 405.5,525.9 406.5,526.0 407.5,526.2 408.5,526.3 409.5,526.4 410.5,526.6 411.5,526.7 412.5,526.9 413.5,527.0 414.5,527.2 415.5,527.3 416.5,527.5 417.5,527.6 418.5,527.8 419.5,527.9 420.5,528.1 421.5,528.2 422.5,528.4 423.5,528.5 424.5,528.7 425.5,528.8 426.5,529.0 427.5,529.1 428.5,529.2 429.5,529.2 430.5,529.2 431.5,529.2 432.5,529.2 433.5,529.2 434.5,529.2 435.5,529.2 436.5,529.4 437.5,529.6 438.5,529.8 439.5,530.0 440.5,530.1 441.5,530.3 442.5,530.5 443.5,530.7 444.5,530.8 445.5,530.8 446.5,530.8 447.5,530.8 448.5,530.8 449.5,530.7 450.5,530.7 451.5,530.6 452.5,530.5 453.5,530.5 454.5,530.4 455.5,529.9 456.5,528.3 457.5,528.1 458.5,528.4 459.5,529.4 460.5,531.3 461.5,530.4 462.5,530.0 463.5,530.0 464.5,530.0 465.5,530.0 466.5,530.0 467.5,530.0 468.5,530.1 469.5,530.8 470.5,531.4 471.5,531.5 472.5,531.5 473.5,531.5 474.5,531.5 475.5,531.5 476.5,531.5 477.5,531.5 478.5,531.5 479.5,531.4 480.5,531.4 481.5,531.4 482.5,531.3 483.5,531.3 484.5,531.2 485.5,531.2 486.5,531.0 487.5,530.7 488.5,530.5 489.5,530.5 490.5,530.5 491.5,530.5 492.5,530.5 493.5,530.5 494.5,530.5 495.5,530.5 496.5,530.5 497.5,530.5 498.5,530.5 499.5,530.5 500.5,530.5 501.5,530.5 502.5,530.5 503.5,530.5 504.5,530.5 505.5,530.6 506.5,530.9 507.5,531.2 508.5,531.4 509.5,531.5 510.5,531.5 511.5,531.5 512.5,531.5 513.5,531.5 514.5,531.5 515.5,531.5 516.5,531.5 517.5,531.5 518.5,531.5 519.5,531.5 520.5,531.5 521.5,531.5 522.5,531.5 523.5,531.5 524.5,531.5 525.5,531.5 526.5,531.5 527.5,531.5 528.5,531.5 529.5,531.5 530.5,531.5 531.5,531.5 532.5,531.5 533.5,531.5 534.5,531.5 535.5,531.5 536.5,531.5 537.5,531.5 538.5,531.5 539.5,531.5 540.5,531.5 541.5,531.5 542.5,531.5 543.5,531.5 544.5,531.5 545.5,531.5 546.5,531.5 547.5,531.5 548.5,531.5 549.5,531.5 550.5,531.5 551.5,531.5 552.5,531.5 553.5,531.5 554.5,531.5 555.5,531.5 556.5,531.5 557.5,531.5 558.5,531.5 559.5,531.5 560.5,531.5 561.5,531.5 562.5,531.5 563.5,531.5 564.5,531.5 565.5,531.5 566.5,531.5 567.5,531.5 568.5,531.5 569.5,531.5 570.5,531.5 571.5,531.5 572.5,531.5 573.5,531.5 574.5,531.5 575.5,531.5 576.5,531.6 577.5,531.6 578.5,531.6 579.5,531.6 580.5,531.6 581.5,531.6 582.5,531.6 583.5,531.6 584.5,531.6 585.5,531.6 586.5,531.6 587.5,531.6 588.5,531.6 589.5,531.6 590.5,531.6 591.5,531.6 592.5,531.6 593.5,531.6 594.5,531.6 595.5,531.6 596.5,531.6 597.5,531.6 598.5,531.6 599.5,531.6 600.5,531.6 601.5,531.6 602.5,531.6 603.5,531.6 604.5,531.6 605.5,531.6 606.5,531.6 607.5,531.6 608.5,531.6 609.5,531.6 610.5,531.6 611.5,531.6 612.5,531.6 613.5,531.6 614.5,531.6 615.5,531.6 616.5,531.6 617.5,531.6 618.5,531.6 619.5,531.6 620.5,531.6 621.5,531.6 622.5,531.6 623.5,531.6 624.5,531.6 625.5,531.6 626.5,531.6 627.5,531.6 628.5,531.6 629.5,531.6 630.5,531.6 631.5,531.6 632.5,531.6 633.5,531.6 634.5,531.6 635.5,531.6 636.5,531.6 637.5,531.6 638.5,531.6 639.5,531.6 640.5,531.6 641.5,531.6 642.5,531.6 643.5,531.6 644.5,531.7 645.5,531.7 646.5,531.7 647.5,531.7 648.5,531.7 649.5,531.7 650.5,531.7 651.5,531.7 652.5,531.7 653.5,531.7 654.5,531.7 655.5,531.7 656.5,531.7 657.5,531.7 658.5,531.7 659.5,531.7 660.5,531.7 661.5,531.7 662.5,531.7 663.5,531.7 664.5,531.7 665.5,531.7 666.5,531.7 667.5,531.7 668.5,531.7 669.5,531.7 670.5,531.7 671.5,531.7 672.5,531.7 673.5,531.7 674.5,531.7 675.5,531.7 676.5,531.7 677.5,531.7 678.5,531.7 679.5,531.7 680.5,531.7 681.5,531.7 682.5,531.7 683.5,531.7 684.5,531.7 685.5,531.7 686.5,531.7 687.5,531.7 688.5,531.7 689.5,531.7 690.5,531.7 691.5,531.8 692.5,531.8 693.5,531.8 694.5,531.8 695.5,531.8 696.5,531.8 697.5,531.8 698.5,531.8 699.5,531.8 700.5,531.8 701.5,531.8 702.5,531.8 703.5,531.8 704.5,531.8 705.5,531.8 706.5,531.8 707.5,531.8 708.5,531.8 709.5,531.8 710.5,531.8 711.5,531.8" fill="none" stroke="#a2559c" stroke-width="0.7" stroke-opacity="0.6" stroke-linejoin="round"/>
<polyline points="68.5,532.2 69.0,532.2 69.5,532.2 70.0,532.2 70.5,532.2 71.0,532.2 71.5,532.2 72.0,532.2 72.5,532.2 73.0,532.2 73.5,532.2 74.0,532.2 74.5,532.2 75.0,532.2 75.5,532.2 76.0,532.2 76.5,532.2 77.0,532.2 77.5,532.2 78.0,532.2 78.5,532.2 79.0,532.2 79.5,532.2 80.0,532.2 80.5,532.2 81.0,532.2 81.5,532.2 82.0,532.2 82.5,532.2 83.0,532.2 83.5,532.2 84.0,532.2 84.5,532.2 85.0,532.2 85.5,532.2 86.0,532.2 86.5,532.2 87.0,532.2 87.5,532.2 88.0,532.2 88.5,532.2 89.0,532.2 89.5,532.2 90.0,532.2 90.5,532.1 91.0,532.1 91.5,532.1 92.0,532.0 92.5,532.0 93.0,532.0 93.5,532.0 94.0,531.9 94.5,531.9 95.0,531.9 95.5,531.8 96.0,531.8 96.5,531.7 97.0,531.7 97.5,531.7 98.0,531.6 98.5,531.6 99.0,531.6 99.5,531.5 100.0,531.5 100.5,531.4 101.0,531.4 101.5,531.4 102.0,531.3 102.5,531.3 103.0,531.2 103.5,531.2 104.0,531.1 104.5,531.1 105.0,531.0 105.5,531.0 106.0,531.0 106.5,530.9 107.0,530.9 107.5,530.8 108.0,530.8 108.5,530.7 109.0,530.6 109.5,530.6 110.0,530.5 110.5,530.5 111.0,530.4 111.5,530.4 112.0,530.3 112.5,530.2 113.0,530.2 113.5,530.1 114.0,530.0 114.5,529.9 115.0,529.9 115.5,529.8 116.0,529.7 116.5,529.6 117.0,529.6 117.5,529.5 118.0,529.4 118.5,529.3 119.0,529.3 119.5,529.2 120.0,529.1 120.5,529.1 121.0,529.0 121.5,528.9 122.0,528.9 122.5,528.8 123.0,528.7 123.5,528.7 124.0,528.6 124.5,528.6 125.0,528.5 125.5,528.5 126.0,528.4 126.5,528.4 127.0,528.3 127.5,528.3 128.0,528.3 128.5,528.2 129.0,528.2 129.5,528.2 130.0,528.1 130.5,528.0 131.0,528.0 131.5,527.9 132.0,527.8 132.5,527.7 133.0,527.6 133.5,527.5 134.0,527.4 134.5,527.3 135.0,527.2 135.5,527.1 136.0,527.0 136.5,526.9 137.0,526.9 137.5,526.8 138.0,526.7 138.5,526.6 139.0,526.5 139.5,526.4 140.0,526.3 140.5,526.2 141.0,526.0 141.5,525.9 142.0,525.7 142.5,525.5 143.0,525.3 143.5,525.2 144.0,525.1 144.5,525.0 145.0,524.9 145.5,524.9 146.0,524.8 146.5,524.8 147.0,524.8 147.5,524.8 148.0,524.7 148.5,524.7 149.0,524.7 149.5,524.7 150.0,524.7 150.5,524.7 151.0,524.7 151.5,524.8 152.0,524.9 152.5,524.9 153.0,525.0 153.5,525.1 154.0,525.2 154.5,525.2 155.0,525.3 155.5,525.4 156.0,525.4 156.5,525.5 157.0,525.5 157.5,525.6 158.0,525.6 158.5,525.7 159.0,525.7 159.5,525.8 160.0,525.8 160.5,525.9 161.0,525.9 161.5,526.0 162.0,526.0 162.5,526.1 163.0,526.2 163.5,526.2 164.0,526.3 164.5,526.3 165.0,526.3 165.5,526.3 166.0,526.2 166.5,526.1 167.0,525.9 167.5,525.8 168.0,525.7 168.5,525.5 169.0,525.4 169.5,525.3 170.0,525.3 170.5,525.3 171.0,525.3 171.5,525.4 172.0,525.4 172.5,525.5 173.0,525.5 173.5,525.6 174.0,525.7 174.5,525.7 175.0,525.8 175.5,525.9 176.0,526.0 176.5,526.1 177.0,526.2 177.5,526.4 178.0,526.5 178.5,526.6 179.0,526.7 179.5,526.8 180.0,526.8 180.5,526.9 181.0,526.9 181.5,527.0 182.0,527.0 182.5,527.1 183.0,527.1 183.5,527.2 184.0,527.2 184.5,527.2 185.0,527.3 185.5,527.4 186.0,527.4 186.5,527.5 187.0,527.6 187.5,527.7 188.0,527.7 188.5,527.8 189.0,527.9 189.5,527.9 190.0,528.0 190.5,528.0 191.0,528.0 191.5,528.0 192.0,528.0 192.5,527.9 193.0,527.8 193.5,527.8 194.0,527.7 194.5,527.6 195.0,527.5 195.5,527.4 196.0,527.3 196.5,527.1 197.0,527.0 197.5,526.8 198.0,526.6 198.5,526.3 199.0,526.1 199.5,525.8 200.0,525.5 200.5,525.1 201.0,524.6 201.5,523.9 202.0,523.1 202.5,522.2 203.0,521.3 203.5,520.2 204.0,519.2 204.5,518.1 205.0,517.0 205.5,515.7 206.0,514.2 206.5,512.4 207.0,510.6 207.5,508.9 208.0,507.3 208.5,506.0 209.0,505.0 209.5,504.3 210.0,503.6 210.5,503.0 211.0,502.5 211.5,502.1 212.0,502.0 212.5,502.1 213.0,502.2 213.5,502.5 214.0,502.8 214.5,503.1 215.0,503.5 215.5,504.1 216.0,505.0 216.5,506.1 217.0,507.5 217.5,509.0 218.0,510.5 218.5,512.0 219.0,513.5 219.5,514.9 220.0,516.0 220.5,517.1 221.0,518.2 221.5,519.3 222.0,520.3 222.5,521.2 223.0,522.0 223.5,522.6 224.0,523.0 224.5,523.2 225.0,523.4 225.5,523.6 226.0,523.7 226.5,523.8 227.0,523.9 227.5,524.0 228.0,524.0 228.5,524.0 229.0,523.9 229.5,523.7 230.0,523.5 230.5,523.3 231.0,523.0 231.5,522.8 232.0,522.5 232.5,522.2 233.0,521.9 233.5,521.5 234.0,521.1 234.5,520.7 235.0,520.3 235.5,519.9 236.0,519.5 236.5,519.1 237.0,518.6 237.5,518.2 238.0,517.7 238.5,517.3 239.0,516.9 239.5,516.6 240.0,516.5 240.5,516.4 241.0,516.4 241.5,516.4 242.0,516.3 242.5,516.3 243.0,516.3 243.5,516.2 244.0,516.2 244.5,516.2 245.0,516.2 245.5,516.2 246.0,516.2 246.5,516.2 247.0,516.2 247.5,516.2 248.0,516.2 248.5,516.2 249.0,516.3 249.5,516.3 250.0,516.3 250.5,516.4 251.0,516.6 251.5,516.9 252.0,517.3 252.5,517.7 253.0,518.2 253.5,518.7 254.0,519.1 254.5,519.6 255.0,520.0 255.5,520.4 256.0,520.8 256.5,521.2 257.0,521.6 257.5,522.1 258.0,522.5 258.5,522.9 259.0,523.2 259.5,523.5 260.0,523.8 260.5,524.0 261.0,524.3 261.5,524.5 262.0,524.7 262.5,524.9 263.0,525.1 263.5,525.2 264.0,525.4 264.5,525.5 265.0,525.6 265.5,525.7 266.0,525.8 266.5,525.9 267.0,526.0 267.5,526.1 268.0,526.2 268.5,526.2 269.0,526.3 269.5,526.3 270.0,526.3 270.5,526.3 271.0,526.3 271.5,526.3 272.0,526.3 272.5,526.3 273.0,526.3 273.5,526.3 274.0,526.3 274.5,526.3 275.0,526.3 275.5,526.3 276.0,526.3 276.5,526.3 277.0,526.3 277.5,526.3 278.0,526.3 278.5,526.3 279.0,526.3 279.5,526.3 280.0,526.3 280.5,526.3 281.0,526.3 281.5,526.2 282.0,526.2 282.5,526.1 283.0,526.0 283.5,525.9 284.0,525.7 284.5,525.4 285.0,525.0 285.5,522.3 286.0,518.0 286.5,514.2 287.0,510.0 287.5,504.8 288.0,498.8 288.5,493.4 289.0,490.0 289.5,488.1 290.0,486.5 290.5,485.4 291.0,485.0 291.5,485.0 292.0,485.0 292.5,485.0 293.0,485.0 293.5,485.4 294.0,486.5 294.5,487.7 295.0,488.8 295.5,489.7 296.0,490.7 296.5,491.7 297.0,492.7 297.5,493.6 298.0,494.5 298.5,495.2 299.0,495.8 299.5,496.2 300.0,496.3 300.5,496.0 301.0,495.3 301.5,494.2 302.0,492.9 302.5,491.3 303.0,489.7 303.5,488.0 304.0,486.4 304.5,485.0 305.0,483.8 305.5,482.7 306.0,481.5 306.5,480.4 307.0,479.4 307.5,478.6 308.0,478.1 308.5,478.1 309.0,478.7 309.5,480.0 310.0,481.6 310.5,483.3 311.0,485.0 311.5,486.7 312.0,488.7 312.5,490.9 313.0,493.2 313.5,495.6 314.0,498.0 314.5,500.3 315.0,502.5 315.5,504.7 316.0,507.0 316.5,509.2 317.0,511.3 317.5,513.3 318.0,515.0 318.5,516.5 319.0,517.9 319.5,519.0 320.0,520.0 320.5,520.9 321.0,521.7 321.5,522.3 322.0,522.5 322.5,522.3 323.0,521.9 323.5,521.2 324.0,520.6 324.5,520.2 325.0,520.0 325.5,520.0 326.0,520.1 326.5,520.2 327.0,520.3 327.5,520.5 328.0,520.6 328.5,520.8 329.0,521.2 329.5,521.6 330.0,522.0 330.5,522.3 331.0,522.5 331.5,522.6 332.0,522.7 332.5,522.8 333.0,522.8 333.5,522.9 334.0,522.9 334.5,523.0 335.0,523.0 335.5,523.0 336.0,523.0 336.5,523.1 337.0,523.1 337.5,523.1 338.0,523.1 338.5,523.0 339.0,522.8 339.5,522.4 340.0,522.0 340.5,521.4 341.0,520.4 341.5,519.1 342.0,517.7 342.5,516.3 343.0,515.0 343.5,513.7 344.0,512.4 344.5,511.0 345.0,509.6 345.5,508.3 346.0,507.0 346.5,505.7 347.0,504.4 347.5,503.1 348.0,501.9 348.5,501.0 349.0,500.3 349.5,499.8 350.0,499.4 350.5,499.1 351.0,499.0 351.5,499.8 352.0,501.6 352.5,503.6 353.0,505.0 353.5,505.7 354.0,506.3 354.5,506.7 355.0,507.2 355.5,507.7 356.0,508.3 356.5,509.1 357.0,510.0 357.5,511.1 358.0,512.2 358.5,513.3 359.0,514.4 359.5,515.4 360.0,516.3 360.5,517.1 361.0,518.0 361.5,518.8 362.0,519.6 362.5,520.4 363.0,521.1 363.5,521.7 364.0,522.3 364.5,522.7 365.0,523.0 365.5,523.2 366.0,523.4 366.5,523.6 367.0,523.8 367.5,523.9 368.0,524.1 368.5,524.2 369.0,524.2 369.5,524.3 370.0,524.3 370.5,524.3 371.0,524.2 371.5,524.2 372.0,524.1 372.5,524.0 373.0,523.9 373.5,523.8 374.0,523.8 374.5,523.7 375.0,523.7 375.5,523.7 376.0,523.9 376.5,524.0 377.0,524.1 377.5,524.3 378.0,524.3 378.5,524.2 379.0,524.1 379.5,523.9 380.0,523.6 380.5,523.3 381.0,523.0 381.5,522.8 382.0,522.5 382.5,522.3 383.0,522.0 383.5,521.8 384.0,521.6 384.5,521.3 385.0,521.1 385.5,520.8 386.0,520.5 386.5,520.1 387.0,519.8 387.5,519.6 388.0,519.5 388.1,518.9 388.2,517.7 388.3,516.3 388.4,514.4 388.5,511.8 388.6,508.7 388.7,505.2 388.8,501.4 388.9,497.5 389.0,493.6 389.1,490.0 389.2,486.7 389.3,483.9 389.4,481.7 389.5,479.7 389.6,478.0 389.7,476.2 389.8,474.2 389.9,471.8 390.0,468.8 390.1,465.2 390.2,460.6 390.3,455.0 390.4,435.2 390.5,397.4 390.6,354.8 390.7,297.6 390.8,254.6 390.9,244.2 391.0,236.5 391.1,231.0 391.2,226.9 391.3,223.6 391.4,220.4 391.5,216.5 391.6,211.3 391.7,204.0 391.8,190.2 391.9,173.2 392.0,163.8 392.1,162.1 392.2,160.9 392.3,160.1 392.4,159.7 392.5,159.7 392.6,159.6 392.7,159.5 392.8,159.5 392.9,159.4 393.0,159.3 393.1,159.3 393.2,159.2 393.3,159.1 393.4,159.1 393.5,159.0 393.6,158.9 393.7,159.1 393.8,159.8 393.9,160.9 394.0,162.5 394.1,171.4 394.2,188.1 394.3,202.3 394.4,211.0 394.5,218.2 394.6,224.6 394.7,230.6 394.8,236.8 394.9,243.6 395.0,251.8 395.1,261.7 395.2,273.0 395.3,285.5 395.4,298.8 395.5,312.4 395.6,325.9 395.7,339.0 395.8,351.3 395.9,363.6 396.0,376.8 396.1,390.3 396.2,403.7 396.3,416.5 396.4,428.1 396.5,438.0 396.6,445.7 396.7,450.7 396.8,453.9 396.9,456.9 397.0,459.5 397.1,461.8 397.2,463.9 397.3,465.7 397.4,467.4 397.5,469.0 397.6,470.4 397.7,471.8 397.8,473.1 397.9,474.5 398.0,475.9 398.1,477.3 398.2,478.9 398.3,480.6 398.4,482.4 398.5,484.2 398.6,486.0 398.7,487.7 398.8,489.2 398.9,490.6 399.0,491.9 399.1,493.2 399.2,494.4 399.3,495.5 399.4,496.6 399.5,497.7 399.6,498.8 399.7,499.8 399.8,500.8 399.9,501.8 400.0,502.8 400.1,503.9 400.2,504.9 400.3,505.9 400.4,507.0 400.5,508.1 400.6,509.3 400.7,510.4 400.8,511.7 400.9,512.9 401.0,514.1 401.1,515.3 401.2,516.4 401.3,517.5 401.4,518.5 401.5,519.4 401.6,520.3 401.7,521.2 401.8,522.1 401.9,523.0 402.0,523.8 402.1,524.5 402.2,525.2 402.3,525.7 402.4,526.0 402.5,526.2 402.6,526.2 402.7,526.2 402.8,526.2 402.9,526.3 403.0,526.3 403.5,526.4 404.5,526.7 405.5,526.9 406.5,527.0 407.5,527.2 408.5,527.3 409.5,527.4 410.5,527.6 411.5,527.7 412.5,527.9 413.5,528.0 414.5,528.2 415.5,528.3 416.5,528.5 417.5,528.6 418.5,528.8 419.5,528.9 420.5,529.1 421.5,529.2 422.5,529.4 423.5,529.5 424.5,529.7 425.5,529.8 426.5,530.0 427.5,530.1 428.5,530.2 429.5,530.2 430.5,530.2 431.5,530.2 432.5,530.2 433.5,530.2 434.5,530.2 435.5,530.2 436.5,530.4 437.5,530.6 438.5,530.8 439.5,531.0 440.5,531.0 441.5,531.0 442.5,531.0 443.5,531.0 444.5,531.0 445.5,531.0 446.5,531.0 447.5,531.0 448.5,531.0 449.5,530.9 450.5,530.9 451.5,530.8 452.5,530.7 453.5,530.7 454.5,530.6 455.5,530.2 456.5,529.2 457.5,529.1 458.5,529.4 459.5,530.1 460.5,531.3 461.5,531.3 462.5,530.2 463.5,530.0 464.5,530.0 465.5,530.0 466.5,530.0 467.5,530.0 468.5,530.1 469.5,530.8 470.5,531.4 471.5,531.5 472.5,531.5 473.5,531.5 474.5,531.5 475.5,531.5 476.5,531.5 477.5,531.5 478.5,531.5 479.5,531.5 480.5,531.5 481.5,531.5 482.5,531.5 483.5,531.5 484.5,531.5 485.5,531.5 486.5,531.5 487.5,531.5 488.5,531.5 489.5,531.5 490.5,531.5 491.5,531.5 492.5,531.5 493.5,531.5 494.5,531.5 495.5,531.5 496.5,531.5 497.5,531.5 498.5,531.5 499.5,531.5 500.5,531.5 501.5,531.5 502.5,531.5 503.5,531.5 504.5,531.5 505.5,531.5 506.5,531.5 507.5,531.5 508.5,531.5 509.5,531.5 510.5,531.5 511.5,531.5 512.5,531.5 513.5,531.5 514.5,531.5 515.5,531.5 516.5,531.5 517.5,531.5 518.5,531.5 519.5,531.5 520.5,531.5 521.5,531.5 522.5,531.5 523.5,531.5 524.5,531.5 525.5,531.5 526.5,531.5 527.5,531.5 528.5,531.5 529.5,531.5 530.5,531.5 531.5,531.5 532.5,531.5 533.5,531.5 534.5,531.5 535.5,531.5 536.5,531.5 537.5,531.5 538.5,531.5 539.5,531.5 540.5,531.5 541.5,531.5 542.5,531.5 543.5,531.5 544.5,531.5 545.5,531.5 546.5,531.5 547.5,531.5 548.5,531.5 549.5,531.5 550.5,531.5 551.5,531.5 552.5,531.5 553.5,531.5 554.5,531.5 555.5,531.5 556.5,531.5 557.5,531.5 558.5,531.5 559.5,531.5 560.5,531.5 561.5,531.5 562.5,531.5 563.5,531.5 564.5,531.5 565.5,531.5 566.5,531.5 567.5,531.5 568.5,531.5 569.5,531.5 570.5,531.5 571.5,531.5 572.5,531.5 573.5,531.5 574.5,531.5 575.5,531.5 576.5,531.6 577.5,531.6 578.5,531.6 579.5,531.6 580.5,531.6 581.5,531.6 582.5,531.6 583.5,531.6 584.5,531.6 585.5,531.6 586.5,531.6 587.5,531.6 588.5,531.6 589.5,531.6 590.5,531.6 591.5,531.6 592.5,531.6 593.5,531.6 594.5,531.6 595.5,531.6 596.5,531.6 597.5,531.6 598.5,531.6 599.5,531.6 600.5,531.6 601.5,531.6 602.5,531.6 603.5,531.6 604.5,531.6 605.5,531.6 606.5,531.6 607.5,531.6 608.5,531.6 609.5,531.6 610.5,531.6 611.5,531.6 612.5,531.6 613.5,531.6 614.5,531.6 615.5,531.6 616.5,531.6 617.5,531.6 618.5,531.6 619.5,531.6 620.5,531.6 621.5,531.6 622.5,531.6 623.5,531.6 624.5,531.6 625.5,531.6 626.5,531.6 627.5,531.6 628.5,531.6 629.5,531.6 630.5,531.6 631.5,531.6 632.5,531.6 633.5,531.6 634.5,531.6 635.5,531.6 636.5,531.6 637.5,531.6 638.5,531.6 639.5,531.6 640.5,531.6 641.5,531.6 642.5,531.6 643.5,531.6 644.5,531.7 645.5,531.7 646.5,531.7 647.5,531.7 648.5,531.7 649.5,531.7 650.5,531.7 651.5,531.7 652.5,531.7 653.5,531.7 654.5,531.7 655.5,531.7 656.5,531.7 657.5,531.7 658.5,531.7 659.5,531.7 660.5,531.7 661.5,531.7 662.5,531.7 663.5,531.7 664.5,531.7 665.5,531.7 666.5,531.7 667.5,531.7 668.5,531.7 669.5,531.7 670.5,531.7 671.5,531.7 672.5,531.7 673.5,531.7 674.5,531.7 675.5,531.7 676.5,531.7 677.5,531.7 678.5,531.7 679.5,531.7 680.5,531.7 681.5,531.7 682.5,531.7 683.5,531.7 684.5,531.7 685.5,531.7 686.5,531.7 687.5,531.7 688.5,531.7 689.5,531.7 690.5,531.7 691.5,531.8 692.5,531.8 693.5,531.8 694.5,531.8 695.5,531.8 696.5,531.8 697.5,531.8 698.5,531.8 699.5,531.8 700.5,531.8 701.5,531.8 702.5,531.8 703.5,531.8 704.5,531.8 705.5,531.8 706.5,531.8 707.5,531.8 708.5,531.8 709.5,531.8 710.5,531.8 711.5,531.8" fill="none" stroke="#3c9a76" stroke-width="0.7" stroke-opacity="0.6" stroke-linejoin="round"/>
<polyline points="68.5,532.3 69.0,532.3 69.5,532.3 70.0,532.3 70.5,532.3 71.0,532.3 71.5,532.3 72.0,532.3 72.5,532.3 73.0,532.3 73.5,532.3 74.0,532.3 74.5,532.3 75.0,532.3 75.5,532.3 76.0,532.3 76.5,532.3 77.0,532.3 77.5,532.3 78.0,532.3 78.5,532.3 79.0,532.3 79.5,532.3 80.0,532.3 80.5,532.3 81.0,532.3 81.5,532.3 82.0,532.3 82.5,532.3 83.0,532.3 83.5,532.3 84.0,532.3 84.5,532.3 85.0,532.3 85.5,532.3 86.0,532.3 86.5,532.3 87.0,532.3 87.5,532.3 88.0,532.3 88.5,532.3 89.0,532.3 89.5,532.3 90.0,532.3 90.5,532.3 91.0,532.3 91.5,532.3 92.0,532.3 92.5,532.3 93.0,532.3 93.5,532.3 94.0,532.3 94.5,532.3 95.0,532.3 95.5,532.3 96.0,532.3 96.5,532.3 97.0,532.3 97.5,532.3 98.0,532.3 98.5,532.3 99.0,532.3 99.5,532.3 100.0,532.3 100.5,532.3 101.0,532.3 101.5,532.3 102.0,532.3 102.5,532.3 103.0,532.3 103.5,532.3 104.0,532.3 104.5,532.3 105.0,532.3 105.5,532.3 106.0,532.3 106.5,532.3 107.0,532.3 107.5,532.3 108.0,532.3 108.5,532.3 109.0,532.3 109.5,532.3 110.0,532.3 110.5,532.3 111.0,532.3 111.5,532.3 112.0,532.3 112.5,532.3 113.0,532.3 113.5,532.3 114.0,532.3 114.5,532.3 115.0,532.3 115.5,532.3 116.0,532.3 116.5,532.3 117.0,532.3 117.5,532.3 118.0,532.3 118.5,532.3 119.0,532.3 119.5,532.3 120.0,532.3 120.5,532.3 121.0,532.3 121.5,532.3 122.0,532.3 122.5,532.3 123.0,532.3 123.5,532.3 124.0,532.3 124.5,532.3 125.0,532.3 125.5,532.3 126.0,532.3 126.5,532.3 127.0,532.3 127.5,532.3 128.0,532.3 128.5,532.3 129.0,532.3 129.5,532.3 130.0,532.3 130.5,532.3 131.0,532.3 131.5,532.3 132.0,532.3 132.5,532.3 133.0,532.3 133.5,532.3 134.0,532.3 134.5,532.3 135.0,532.3 135.5,532.3 136.0,532.3 136.5,532.3 137.0,532.3 137.5,532.3 138.0,532.3 138.5,532.3 139.0,532.3 139.5,532.3 140.0,532.3 140.5,532.3 141.0,532.3 141.5,532.3 142.0,532.3 142.5,532.3 143.0,532.3 143.5,532.3 144.0,532.3 144.5,532.3 145.0,532.3 145.5,532.3 146.0,532.3 146.5,532.3 147.0,532.3 147.5,532.3 148.0,532.3 148.5,532.3 149.0,532.3 149.5,532.3 150.0,532.3 150.5,532.3 151.0,532.3 151.5,532.3 152.0,532.3 152.5,532.3 153.0,532.3 153.5,532.3 154.0,532.3 154.5,532.3 155.0,532.3 155.5,532.3 156.0,532.3 156.5,532.3 157.0,532.3 157.5,532.3 158.0,532.3 158.5,532.3 159.0,532.3 159.5,532.3 160.0,532.3 160.5,532.3 161.0,532.3 161.5,532.3 162.0,532.3 162.5,532.3 163.0,532.3 163.5,532.3 164.0,532.3 164.5,532.3 165.0,532.3 165.5,532.3 166.0,532.3 166.5,532.3 167.0,532.3 167.5,532.3 168.0,532.3 168.5,532.3 169.0,532.3 169.5,532.3 170.0,532.3 170.5,532.3 171.0,532.3 171.5,532.3 172.0,532.3 172.5,532.3 173.0,532.3 173.5,532.3 174.0,532.3 174.5,532.3 175.0,532.3 175.5,532.3 176.0,532.3 176.5,532.3 177.0,532.3 177.5,532.3 178.0,532.3 178.5,532.3 179.0,532.3 179.5,532.3 180.0,532.3 180.5,532.3 181.0,532.3 181.5,532.3 182.0,532.3 182.5,532.3 183.0,532.3 183.5,532.3 184.0,532.3 184.5,532.3 185.0,532.3 185.5,532.3 186.0,532.3 186.5,532.3 187.0,532.3 187.5,532.3 188.0,532.3 188.5,532.3 189.0,532.3 189.5,532.3 190.0,532.3 190.5,532.3 191.0,532.3 191.5,532.3 192.0,532.3 192.5,532.3 193.0,532.3 193.5,532.3 194.0,532.3 194.5,532.3 195.0,532.3 195.5,532.3 196.0,532.3 196.5,532.3 197.0,532.3 197.5,532.3 198.0,532.3 198.5,532.3 199.0,532.3 199.5,532.3 200.0,532.3 200.5,532.3 201.0,532.3 201.5,532.3 202.0,532.3 202.5,532.3 203.0,532.3 203.5,532.3 204.0,532.3 204.5,532.3 205.0,532.3 205.5,532.3 206.0,532.3 206.5,532.3 207.0,532.3 207.5,532.3 208.0,532.3 208.5,532.3 209.0,532.3 209.5,532.3 210.0,532.3 210.5,532.3 211.0,532.3 211.5,532.3 212.0,532.3 212.5,532.3 213.0,532.3 213.5,532.3 214.0,532.3 214.5,532.3 215.0,532.3 215.5,532.3 216.0,532.3 216.5,532.3 217.0,532.3 217.5,532.3 218.0,532.3 218.5,532.3 219.0,532.3 219.5,532.3 220.0,532.3 220.5,532.3 221.0,532.3 221.5,532.3 222.0,532.3 222.5,532.3 223.0,532.3 223.5,532.3 224.0,532.3 224.5,532.3 225.0,532.3 225.5,532.3 226.0,532.3 226.5,532.3 227.0,532.3 227.5,532.3 228.0,532.3 228.5,532.3 229.0,532.3 229.5,532.3 230.0,532.3 230.5,532.3 231.0,532.3 231.5,532.3 232.0,532.3 232.5,532.3 233.0,532.3 233.5,532.3 234.0,532.3 234.5,532.3 235.0,532.3 235.5,532.3 236.0,532.3 236.5,532.3 237.0,532.3 237.5,532.3 238.0,532.3 238.5,532.3 239.0,532.3 239.5,532.3 240.0,532.3 240.5,532.3 241.0,532.3 241.5,532.3 242.0,532.3 242.5,532.3 243.0,532.3 243.5,532.3 244.0,532.3 244.5,532.3 245.0,532.3 245.5,532.3 246.0,532.3 246.5,532.3 247.0,532.3 247.5,532.3 248.0,532.3 248.5,532.3 249.0,532.3 249.5,532.3 250.0,532.3 250.5,532.3 251.0,532.3 251.5,532.3 252.0,532.3 252.5,532.3 253.0,532.3 253.5,532.3 254.0,532.3 254.5,532.3 255.0,532.3 255.5,532.3 256.0,532.3 256.5,532.3 257.0,532.3 257.5,532.3 258.0,532.3 258.5,532.3 259.0,532.3 259.5,532.3 260.0,532.3 260.5,532.3 261.0,532.3 261.5,532.3 262.0,532.3 262.5,532.3 263.0,532.3 263.5,532.3 264.0,532.3 264.5,532.3 265.0,532.3 265.5,532.3 266.0,532.3 266.5,532.3 267.0,532.3 267.5,532.3 268.0,532.3 268.5,532.3 269.0,532.3 269.5,532.3 270.0,532.3 270.5,532.3 271.0,532.3 271.5,532.3 272.0,532.3 272.5,532.3 273.0,532.3 273.5,532.3 274.0,532.3 274.5,532.3 275.0,532.3 275.5,532.3 276.0,532.3 276.5,532.3 277.0,532.3 277.5,532.3 278.0,532.3 278.5,532.3 279.0,532.3 279.5,532.3 280.0,532.3 280.5,532.3 281.0,532.3 281.5,532.3 282.0,532.3 282.5,532.3 283.0,532.3 283.5,532.2 284.0,531.9 284.5,531.5 285.0,531.0 285.5,530.3 286.0,529.5 286.5,528.6 287.0,528.0 287.5,527.6 288.0,527.3 288.5,527.1 289.0,527.0 289.5,527.1 290.0,527.4 290.5,527.7 291.0,528.0 291.5,528.2 292.0,528.4 292.5,528.7 293.0,528.9 293.5,529.1 294.0,529.2 294.5,529.3 295.0,529.4 295.5,529.4 296.0,529.5 296.5,529.5 297.0,529.5 297.5,529.5 298.0,529.6 298.5,529.6 299.0,529.6 299.5,529.6 300.0,529.6 300.5,529.6 301.0,529.6 301.5,529.0 302.0,528.1 302.5,527.3 303.0,527.0 303.5,527.1 304.0,527.3 304.5,527.7 305.0,528.0 305.5,528.3 306.0,528.5 306.5,528.6 307.0,528.7 307.5,528.8 308.0,528.9 308.5,528.9 309.0,529.0 309.5,529.0 310.0,529.0 310.5,529.0 311.0,529.0 311.5,529.0 312.0,529.0 312.5,528.9 313.0,528.9 313.5,528.9 314.0,528.9 314.5,528.8 315.0,528.8 315.5,528.8 316.0,528.7 316.5,528.7 317.0,528.6 317.5,528.6 318.0,528.5 318.5,528.4 319.0,528.2 319.5,527.9 320.0,527.5 320.5,527.2 321.0,526.7 321.5,526.3 322.0,525.9 322.5,525.5 323.0,525.1 323.5,524.8 324.0,524.5 324.5,524.4 325.0,524.3 325.5,524.3 326.0,524.4 326.5,524.5 327.0,524.6 327.5,524.7 328.0,524.9 328.5,525.1 329.0,525.3 329.5,525.5 330.0,525.6 330.5,525.8 331.0,526.0 331.5,526.2 332.0,526.4 332.5,526.6 333.0,526.8 333.5,527.0 334.0,527.2 334.5,527.4 335.0,527.5 335.5,527.6 336.0,527.8 336.5,527.9 337.0,528.0 337.5,528.2 338.0,528.3 338.5,528.4 339.0,528.4 339.5,528.5 340.0,528.5 340.5,528.5 341.0,528.4 341.5,528.4 342.0,528.3 342.5,528.2 343.0,528.1 343.5,528.0 344.0,527.9 344.5,527.8 345.0,527.7 345.5,527.6 346.0,527.6 346.5,527.5 347.0,527.5 347.5,527.5 348.0,527.6 348.5,527.7 349.0,527.8 349.5,528.0 350.0,528.2 350.5,528.4 351.0,528.6 351.5,528.7 352.0,528.9 352.5,529.1 353.0,529.3 353.5,529.4 354.0,529.5 354.5,529.6 355.0,529.6 355.5,529.6 356.0,529.6 356.5,529.6 357.0,529.6 357.5,529.6 358.0,529.6 358.5,529.6 359.0,529.6 359.5,529.6 360.0,529.6 360.5,529.6 361.0,529.6 361.5,529.6 362.0,529.6 362.5,529.6 363.0,529.6 363.5,529.6 364.0,529.6 364.5,529.6 365.0,529.6 365.5,529.6 366.0,529.6 366.5,529.6 367.0,529.6 367.5,529.6 368.0,529.6 368.5,529.6 369.0,529.6 369.5,529.6 370.0,529.6 370.5,529.6 371.0,529.6 371.5,529.6 372.0,529.6 372.5,529.6 373.0,529.6 373.5,529.6 374.0,529.6 374.5,529.6 375.0,529.6 375.5,529.6 376.0,529.6 376.5,529.6 377.0,529.6 377.5,529.6 378.0,529.6 378.5,529.6 379.0,529.6 379.5,529.6 380.0,529.6 380.5,529.6 381.0,529.6 381.5,529.6 382.0,529.6 382.5,529.6 383.0,529.6 383.5,529.6 384.0,529.6 384.5,529.6 385.0,529.6 385.5,529.6 386.0,529.6 386.5,529.6 387.0,529.5 387.5,529.5 388.0,529.5 388.1,528.9 388.2,527.7 388.3,526.2 388.4,524.3 388.5,521.7 388.6,518.5 388.7,514.9 388.8,511.1 388.9,507.1 389.0,503.3 389.1,499.6 389.2,496.2 389.3,493.4 389.4,491.1 389.5,489.2 389.6,487.3 389.7,485.5 389.8,483.5 389.9,481.0 390.0,478.1 390.1,474.4 390.2,469.8 390.3,464.1 390.4,444.3 390.5,406.4 390.6,363.7 390.7,306.5 390.8,263.5 390.9,253.0 391.0,245.3 391.1,239.8 391.2,235.7 391.3,232.3 391.4,229.1 391.5,225.1 391.6,219.9 391.7,212.6 391.8,198.8 391.9,181.7 392.0,172.3 392.1,170.5 392.2,169.2 392.3,168.4 392.4,168.0 392.5,167.9 392.6,167.8 392.7,167.7 392.8,167.6 392.9,167.5 393.0,167.4 393.1,167.3 393.2,167.2 393.3,167.1 393.4,167.0 393.5,166.9 393.6,166.8 393.7,166.9 393.8,167.5 393.9,168.6 394.0,170.1 394.1,179.1 394.2,195.6 394.3,209.8 394.4,218.5 394.5,225.7 394.6,232.0 394.7,238.0 394.8,244.1 394.9,251.0 395.0,259.1 395.1,268.9 395.2,280.2 395.3,292.7 395.4,305.9 395.5,319.4 395.6,332.9 395.7,346.0 395.8,358.2 395.9,370.5 396.0,383.7 396.1,397.2 396.2,410.5 396.3,423.3 396.4,434.8 396.5,444.7 396.6,452.3 396.7,457.3 396.8,460.5 396.9,463.4 397.0,465.9 397.1,468.2 397.2,470.3 397.3,472.1 397.4,473.8 397.5,475.3 397.6,476.7 397.7,478.0 397.8,479.3 397.9,480.6 398.0,482.0 398.1,483.4 398.2,484.9 398.3,486.6 398.4,488.3 398.5,490.1 398.6,491.9 398.7,493.5 398.8,495.0 398.9,496.4 399.0,497.6 399.1,498.9 399.2,500.0 399.3,501.1 399.4,502.2 399.5,503.2 399.6,504.2 399.7,505.2 399.8,506.2 399.9,507.2 400.0,508.2 400.1,509.1 400.2,510.1 400.3,511.1 400.4,512.2 400.5,513.2 400.6,514.3 400.7,515.5 400.8,516.7 400.9,517.9 401.0,519.0 401.1,520.2 401.2,521.3 401.3,522.3 401.4,523.3 401.5,524.2 401.6,525.0 401.7,525.9 401.8,526.7 401.9,527.5 402.0,528.3 402.1,529.0 402.2,529.6 402.3,530.1 402.4,530.4 402.5,530.5 402.6,530.5 402.7,530.5 402.8,530.5 402.9,530.5 403.0,530.5 403.5,530.6 404.5,530.6 405.5,530.7 406.5,530.7 407.5,530.8 408.5,530.8 409.5,530.8 410.5,530.9 411.5,530.9 412.5,531.0 413.5,531.0 414.5,531.1 415.5,531.1 416.5,531.1 417.5,531.2 418.5,531.2 419.5,531.3 420.5,531.3 421.5,531.4 422.5,531.4 423.5,531.5 424.5,531.5 425.5,531.6 426.5,531.7 427.5,531.7 428.5,531.8 429.5,531.8 430.5,531.9 431.5,531.9 432.5,532.0 433.5,532.0 434.5,532.1 435.5,532.1 436.5,532.1 437.5,532.2 438.5,532.2 439.5,532.2 440.5,532.2 441.5,532.2 442.5,532.2 443.5,532.2 444.5,532.2 445.5,532.2 446.5,532.2 447.5,532.2 448.5,532.2 449.5,532.2 450.5,532.2 451.5,532.2 452.5,532.2 453.5,532.2 454.5,532.2 455.5,532.2 456.5,532.2 457.5,532.2 458.5,532.2 459.5,532.2 460.5,532.2 461.5,532.2 462.5,532.2 463.5,532.2 464.5,532.2 465.5,532.2 466.5,532.2 467.5,532.2 468.5,532.2 469.5,532.2 470.5,532.2 471.5,532.2 472.5,532.2 473.5,532.2 474.5,532.2 475.5,532.2 476.5,532.2 477.5,532.2 478.5,532.2 479.5,532.2 480.5,532.2 481.5,532.2 482.5,532.2 483.5,532.2 484.5,532.2 485.5,532.2 486.5,532.2 487.5,532.2 488.5,532.2 489.5,532.2 490.5,532.2 491.5,532.2 492.5,532.2 493.5,532.2 494.5,532.2 495.5,532.2 496.5,532.2 497.5,532.2 498.5,532.2 499.5,532.2 500.5,532.2 501.5,532.3 502.5,532.3 503.5,532.3 504.5,532.3 505.5,532.3 506.5,532.3 507.5,532.3 508.5,532.3 509.5,532.3 510.5,532.3 511.5,532.3 512.5,532.3 513.5,532.3 514.5,532.3 515.5,532.3 516.5,532.3 517.5,532.3 518.5,532.3 519.5,532.3 520.5,532.3 521.5,532.3 522.5,532.3 523.5,532.3 524.5,532.3 525.5,532.3 526.5,532.3 527.5,532.3 528.5,532.3 529.5,532.3 530.5,532.3 531.5,532.3 532.5,532.3 533.5,532.3 534.5,532.3 535.5,532.3 536.5,532.3 537.5,532.3 538.5,532.3 539.5,532.3 540.5,532.3 541.5,532.3 542.5,532.3 543.5,532.3 544.5,532.3 545.5,532.3 546.5,532.3 547.5,532.3 548.5,532.3 549.5,532.3 550.5,532.3 551.5,532.3 552.5,532.3 553.5,532.3 554.5,532.3 555.5,532.3 556.5,532.3 557.5,532.3 558.5,532.3 559.5,532.3 560.5,532.3 561.5,532.3 562.5,532.3 563.5,532.3 564.5,532.3 565.5,532.3 566.5,532.3 567.5,532.3 568.5,532.3 569.5,532.3 570.5,532.3 571.5,532.3 572.5,532.3 573.5,532.3 574.5,532.3 575.5,532.3 576.5,532.3 577.5,532.3 578.5,532.3 579.5,532.3 580.5,532.3 581.5,532.3 582.5,532.3 583.5,532.3 584.5,532.3 585.5,532.3 586.5,532.3 587.5,532.3 588.5,532.3 589.5,532.3 590.5,532.3 591.5,532.3 592.5,532.3 593.5,532.3 594.5,532.3 595.5,532.3 596.5,532.3 597.5,532.3 598.5,532.3 599.5,532.3 600.5,532.3 601.5,532.3 602.5,532.3 603.5,532.3 604.5,532.3 605.5,532.3 606.5,532.3 607.5,532.3 608.5,532.3 609.5,532.3 610.5,532.3 611.5,532.3 612.5,532.3 613.5,532.3 614.5,532.3 615.5,532.3 616.5,532.3 617.5,532.3 618.5,532.3 619.5,532.3 620.5,532.3 621.5,532.3 622.5,532.3 623.5,532.3 624.5,532.3 625.5,532.3 626.5,532.3 627.5,532.3 628.5,532.3 629.5,532.3 630.5,532.3 631.5,532.3 632.5,532.3 633.5,532.3 634.5,532.3 635.5,532.3 636.5,532.3 637.5,532.3 638.5,532.3 639.5,532.3 640.5,532.3 641.5,532.3 642.5,532.3 643.5,532.3 644.5,532.3 645.5,532.3 646.5,532.3 647.5,532.3 648.5,532.3 649.5,532.3 650.5,532.3 651.5,532.3 652.5,532.3 653.5,532.3 654.5,532.3 655.5,532.3 656.5,532.3 657.5,532.3 658.5,532.3 659.5,532.3 660.5,532.3 661.5,532.3 662.5,532.3 663.5,532.3 664.5,532.3 665.5,532.3 666.5,532.3 667.5,532.3 668.5,532.3 669.5,532.3 670.5,532.3 671.5,532.3 672.5,532.3 673.5,532.3 674.5,532.3 675.5,532.3 676.5,532.3 677.5,532.3 678.5,532.3 679.5,532.3 680.5,532.3 681.5,532.3 682.5,532.3 683.5,532.3 684.5,532.3 685.5,532.3 686.5,532.3 687.5,532.3 688.5,532.3 689.5,532.3 690.5,532.3 691.5,532.3 692.5,532.3 693.5,532.3 694.5,532.3 695.5,532.3 696.5,532.3 697.5,532.3 698.5,532.3 699.5,532.3 700.5,532.3 701.5,532.3 702.5,532.3 703.5,532.3 704.5,532.3 705.5,532.3 706.5,532.3 707.5,532.3 708.5,532.3 709.5,532.3 710.5,532.3 711.5,532.3" fill="none" stroke="#d73c50" stroke-width="0.7" stroke-opacity="0.6" stroke-linejoin="round"/>
<polyline points="68.5,532.3 69.0,532.3 69.5,532.3 70.0,532.3 70.5,532.3 71.0,532.3 71.5,532.3 72.0,532.3 72.5,532.3 73.0,532.3 73.5,532.3 74.0,532.3 74.5,532.3 75.0,532.3 75.5,532.3 76.0,532.3 76.5,532.3 77.0,532.3 77.5,532.3 78.0,532.3 78.5,532.3 79.0,532.3 79.5,532.3 80.0,532.3 80.5,532.3 81.0,532.3 81.5,532.3 82.0,532.3 82.5,532.3 83.0,532.3 83.5,532.3 84.0,532.3 84.5,532.3 85.0,532.3 85.5,532.3 86.0,532.3 86.5,532.3 87.0,532.3 87.5,532.3 88.0,532.3 88.5,532.3 89.0,532.3 89.5,532.3 90.0,532.3 90.5,532.3 91.0,532.3 91.5,532.3 92.0,532.3 92.5,532.3 93.0,532.3 93.5,532.3 94.0,532.3 94.5,532.3 95.0,532.3 95.5,532.3 96.0,532.3 96.5,532.3 97.0,532.3 97.5,532.3 98.0,532.3 98.5,532.3 99.0,532.3 99.5,532.3 100.0,532.3 100.5,532.3 101.0,532.3 101.5,532.3 102.0,532.3 102.5,532.3 103.0,532.3 103.5,532.3 104.0,532.3 104.5,532.3 105.0,532.3 105.5,532.3 106.0,532.3 106.5,532.3 107.0,532.3 107.5,532.3 108.0,532.3 108.5,532.3 109.0,532.3 109.5,532.3 110.0,532.3 110.5,532.3 111.0,532.3 111.5,532.3 112.0,532.3 112.5,532.3 113.0,532.3 113.5,532.3 114.0,532.3 114.5,532.3 115.0,532.3 115.5,532.3 116.0,532.3 116.5,532.3 117.0,532.3 117.5,532.3 118.0,532.3 118.5,532.3 119.0,532.3 119.5,532.3 120.0,532.3 120.5,532.3 121.0,532.3 121.5,532.3 122.0,532.3 122.5,532.3 123.0,532.3 123.5,532.3 124.0,532.3 124.5,532.3 125.0,532.3 125.5,532.3 126.0,532.3 126.5,532.3 127.0,532.3 127.5,532.3 128.0,532.3 128.5,532.3 129.0,532.3 129.5,532.3 130.0,532.3 130.5,532.3 131.0,532.3 131.5,532.3 132.0,532.3 132.5,532.3 133.0,532.3 133.5,532.3 134.0,532.3 134.5,532.3 135.0,532.3 135.5,532.3 136.0,532.3 136.5,532.3 137.0,532.3 137.5,532.3 138.0,532.3 138.5,532.3 139.0,532.3 139.5,532.3 140.0,532.3 140.5,532.3 141.0,532.3 141.5,532.3 142.0,532.3 142.5,532.3 143.0,532.3 143.5,532.3 144.0,532.3 144.5,532.3 145.0,532.3 145.5,532.3 146.0,532.3 146.5,532.3 147.0,532.3 147.5,532.3 148.0,532.3 148.5,532.3 149.0,532.3 149.5,532.3 150.0,532.3 150.5,532.3 151.0,532.3 151.5,532.3 152.0,532.3 152.5,532.3 153.0,532.3 153.5,532.3 154.0,532.3 154.5,532.3 155.0,532.3 155.5,532.3 156.0,532.3 156.5,532.3 157.0,532.3 157.5,532.3 158.0,532.3 158.5,532.3 159.0,532.3 159.5,532.3 160.0,532.3 160.5,532.3 161.0,532.3 161.5,532.3 162.0,532.3 162.5,532.3 163.0,532.3 163.5,532.3 164.0,532.3 164.5,532.3 165.0,532.3 165.5,532.3 166.0,532.3 166.5,532.3 167.0,532.3 167.5,532.3 168.0,532.3 168.5,532.3 169.0,532.3 169.5,532.3 170.0,532.3 170.5,532.3 171.0,532.3 171.5,532.3 172.0,532.3 172.5,532.3 173.0,532.3 173.5,532.3 174.0,532.3 174.5,532.3 175.0,532.3 175.5,532.3 176.0,532.3 176.5,532.3 177.0,532.3 177.5,532.3 178.0,532.3 178.5,532.3 179.0,532.3 179.5,532.3 180.0,532.3 180.5,532.3 181.0,532.3 181.5,532.3 182.0,532.3 182.5,532.3 183.0,532.3 183.5,532.3 184.0,532.3 184.5,532.3 185.0,532.3 185.5,532.3 186.0,532.3 186.5,532.3 187.0,532.3 187.5,532.3 188.0,532.3 188.5,532.3 189.0,532.3 189.5,532.3 190.0,532.3 190.5,532.3 191.0,532.3 191.5,532.3 192.0,532.3 192.5,532.3 193.0,532.3 193.5,532.3 194.0,532.3 194.5,532.3 195.0,532.3 195.5,532.3 196.0,532.3 196.5,532.3 197.0,532.3 197.5,532.3 198.0,532.3 198.5,532.3 199.0,532.3 199.5,532.3 200.0,532.3 200.5,532.3 201.0,532.3 201.5,532.3 202.0,532.3 202.5,532.3 203.0,532.3 203.5,532.3 204.0,532.3 204.5,532.3 205.0,532.3 205.5,532.3 206.0,532.3 206.5,532.3 207.0,532.3 207.5,532.3 208.0,532.3 208.5,532.3 209.0,532.3 209.5,532.3 210.0,532.3 210.5,532.3 211.0,532.3 211.5,532.3 212.0,532.3 212.5,532.3 213.0,532.3 213.5,532.3 214.0,532.3 214.5,532.3 215.0,532.3 215.5,532.3 216.0,532.3 216.5,532.3 217.0,532.3 217.5,532.3 218.0,532.3 218.5,532.3 219.0,532.3 219.5,532.3 220.0,532.3 220.5,532.3 221.0,532.3 221.5,532.3 222.0,532.3 222.5,532.3 223.0,532.3 223.5,532.3 224.0,532.3 224.5,532.3 225.0,532.3 225.5,532.3 226.0,532.3 226.5,532.3 227.0,532.3 227.5,532.3 228.0,532.3 228.5,532.3 229.0,532.3 229.5,532.3 230.0,532.3 230.5,532.3 231.0,532.3 231.5,532.3 232.0,532.3 232.5,532.3 233.0,532.3 233.5,532.3 234.0,532.3 234.5,532.3 235.0,532.3 235.5,532.3 236.0,532.3 236.5,532.3 237.0,532.3 237.5,532.3 238.0,532.3 238.5,532.3 239.0,532.3 239.5,532.3 240.0,532.3 240.5,532.3 241.0,532.3 241.5,532.3 242.0,532.3 242.5,532.3 243.0,532.3 243.5,532.3 244.0,532.3 244.5,532.3 245.0,532.3 245.5,532.3 246.0,532.3 246.5,532.3 247.0,532.3 247.5,532.3 248.0,532.3 248.5,532.3 249.0,532.3 249.5,532.3 250.0,532.3 250.5,532.3 251.0,532.3 251.5,532.3 252.0,532.3 252.5,532.3 253.0,532.3 253.5,532.3 254.0,532.3 254.5,532.3 255.0,532.3 255.5,532.3 256.0,532.3 256.5,532.3 257.0,532.3 257.5,532.3 258.0,532.3 258.5,532.3 259.0,532.3 259.5,532.3 260.0,532.3 260.5,532.3 261.0,532.3 261.5,532.3 262.0,532.3 262.5,532.3 263.0,532.3 263.5,532.3 264.0,532.3 264.5,532.3 265.0,532.3 265.5,532.3 266.0,532.3 266.5,532.3 267.0,532.3 267.5,532.3 268.0,532.3 268.5,532.3 269.0,532.3 269.5,532.3 270.0,532.3 270.5,532.3 271.0,532.3 271.5,532.3 272.0,532.3 272.5,532.3 273.0,532.3 273.5,532.3 274.0,532.3 274.5,532.3 275.0,532.3 275.5,532.3 276.0,532.3 276.5,532.3 277.0,532.3 277.5,532.3 278.0,532.3 278.5,532.3 279.0,532.3 279.5,532.3 280.0,532.3 280.5,532.3 281.0,532.3 281.5,532.3 282.0,532.3 282.5,532.3 283.0,532.3 283.5,532.2 284.0,531.9 284.5,531.5 285.0,531.0 285.5,530.3 286.0,529.5 286.5,528.6 287.0,528.0 287.5,527.6 288.0,527.3 288.5,527.1 289.0,527.0 289.5,527.1 290.0,527.4 290.5,527.7 291.0,528.0 291.5,528.2 292.0,528.4 292.5,528.7 293.0,528.9 293.5,529.1 294.0,529.2 294.5,529.3 295.0,529.4 295.5,529.4 296.0,529.5 296.5,529.5 297.0,529.5 297.5,529.5 298.0,529.6 298.5,529.6 299.0,529.6 299.5,529.6 300.0,529.6 300.5,529.6 301.0,529.6 301.5,529.6 302.0,529.6 302.5,529.6 303.0,529.6 303.5,529.6 304.0,529.6 304.5,529.6 305.0,529.6 305.5,529.6 306.0,529.6 306.5,529.6 307.0,529.6 307.5,529.6 308.0,529.6 308.5,529.6 309.0,529.6 309.5,529.6 310.0,529.6 310.5,529.6 311.0,529.6 311.5,529.6 312.0,529.6 312.5,529.6 313.0,529.6 313.5,529.6 314.0,529.6 314.5,529.6 315.0,529.6 315.5,529.6 316.0,529.6 316.5,529.6 317.0,529.6 317.5,529.6 318.0,529.6 318.5,529.6 319.0,529.6 319.5,529.6 320.0,529.6 320.5,529.6 321.0,529.6 321.5,529.6 322.0,529.6 322.5,529.6 323.0,529.6 323.5,529.6 324.0,529.6 324.5,529.6 325.0,529.6 325.5,529.6 326.0,529.6 326.5,529.6 327.0,529.6 327.5,529.6 328.0,529.6 328.5,529.6 329.0,529.6 329.5,529.6 330.0,529.6 330.5,529.6 331.0,529.6 331.5,529.6 332.0,529.6 332.5,529.6 333.0,529.6 333.5,529.6 334.0,529.6 334.5,529.6 335.0,529.6 335.5,529.6 336.0,529.6 336.5,529.6 337.0,529.6 337.5,529.6 338.0,529.6 338.5,529.6 339.0,529.6 339.5,529.6 340.0,529.6 340.5,529.6 341.0,529.6 341.5,529.6 342.0,529.6 342.5,529.7 343.0,529.7 343.5,529.7 344.0,529.8 344.5,529.8 345.0,529.8 345.5,529.9 346.0,529.9 346.5,530.0 347.0,530.0 347.5,530.0 348.0,530.1 348.5,530.1 349.0,530.2 349.5,530.2 350.0,530.3 350.5,530.3 351.0,530.3 351.5,530.4 352.0,530.4 352.5,530.4 353.0,530.5 353.5,530.5 354.0,530.5 354.5,530.5 355.0,530.5 355.5,530.5 356.0,530.5 356.5,530.5 357.0,530.5 357.5,530.5 358.0,530.5 358.5,530.5 359.0,530.5 359.5,530.5 360.0,530.5 360.5,530.5 361.0,530.5 361.5,530.5 362.0,530.5 362.5,530.5 363.0,530.5 363.5,530.5 364.0,530.5 364.5,530.5 365.0,530.5 365.5,530.5 366.0,530.5 366.5,530.5 367.0,530.5 367.5,530.5 368.0,530.5 368.5,530.5 369.0,530.5 369.5,530.5 370.0,530.5 370.5,530.5 371.0,530.5 371.5,530.5 372.0,530.5 372.5,530.5 373.0,530.5 373.5,530.5 374.0,530.5 374.5,530.5 375.0,530.5 375.5,530.5 376.0,530.5 376.5,530.5 377.0,530.5 377.5,530.5 378.0,530.5 378.5,530.5 379.0,530.5 379.5,530.5 380.0,530.5 380.5,530.5 381.0,530.5 381.5,530.5 382.0,530.5 382.5,530.5 383.0,530.5 383.5,530.5 384.0,530.5 384.5,530.5 385.0,530.5 385.5,530.5 386.0,530.5 386.5,530.5 387.0,530.5 387.5,530.5 388.0,530.5 388.1,530.5 388.2,530.5 388.3,530.5 388.4,530.5 388.5,530.5 388.6,530.5 388.7,530.5 388.8,530.5 388.9,530.5 389.0,530.5 389.1,530.5 389.2,530.5 389.3,530.5 389.4,530.5 389.5,530.6 389.6,530.6 389.7,530.6 389.8,530.6 389.9,530.6 390.0,530.6 390.1,530.6 390.2,530.6 390.3,530.6 390.4,530.6 390.5,530.6 390.6,530.6 390.7,530.6 390.8,530.6 390.9,530.6 391.0,530.6 391.1,530.6 391.2,530.6 391.3,530.6 391.4,530.6 391.5,530.6 391.6,530.6 391.7,530.6 391.8,530.6 391.9,530.6 392.0,530.6 392.1,530.6 392.2,530.6 392.3,530.7 392.4,530.7 392.5,530.7 392.6,530.7 392.7,530.7 392.8,530.7 392.9,530.7 393.0,530.7 393.1,530.7 393.2,530.7 393.3,530.7 393.4,530.7 393.5,530.7 393.6,530.7 393.7,530.7 393.8,530.7 393.9,530.7 394.0,530.7 394.1,530.7 394.2,530.7 394.3,530.7 394.4,530.7 394.5,530.7 394.6,530.7 394.7,530.7 394.8,530.7 394.9,530.7 395.0,530.7 395.1,530.8 395.2,530.8 395.3,530.8 395.4,530.8 395.5,530.8 395.6,530.8 395.7,530.8 395.8,530.8 395.9,530.8 396.0,530.8 396.1,530.8 396.2,530.8 396.3,530.8 396.4,530.8 396.5,530.8 396.6,530.8 396.7,530.8 396.8,530.8 396.9,530.8 397.0,530.8 397.1,530.8 397.2,530.8 397.3,530.8 397.4,530.8 397.5,530.8 397.6,530.8 397.7,530.8 397.8,530.8 397.9,530.9 398.0,530.9 398.1,530.9 398.2,530.9 398.3,530.9 398.4,530.9 398.5,530.9 398.6,530.9 398.7,530.9 398.8,530.9 398.9,530.9 399.0,530.9 399.1,530.9 399.2,530.9 399.3,530.9 399.4,530.9 399.5,530.9 399.6,530.9 399.7,530.9 399.8,530.9 399.9,530.9 400.0,530.9 400.1,530.9 400.2,530.9 400.3,530.9 400.4,530.9 400.5,530.9 400.6,530.9 400.7,531.0 400.8,531.0 400.9,531.0 401.0,531.0 401.1,531.0 401.2,531.0 401.3,531.0 401.4,531.0 401.5,531.0 401.6,531.0 401.7,531.0 401.8,531.0 401.9,531.0 402.0,531.0 402.1,531.0 402.2,531.0 402.3,531.0 402.4,531.0 402.5,531.0 402.6,531.0 402.7,531.0 402.8,531.0 402.9,531.0 403.0,531.0 403.5,531.1 404.5,531.1 405.5,531.1 406.5,531.2 407.5,531.2 408.5,531.2 409.5,531.3 410.5,531.3 411.5,531.3 412.5,531.4 413.5,531.4 414.5,531.4 415.5,531.4 416.5,531.5 417.5,531.5 418.5,531.5 419.5,531.6 420.5,531.6 421.5,531.7 422.5,531.7 423.5,531.7 424.5,531.8 425.5,531.8 426.5,531.9 427.5,531.9 428.5,532.0 429.5,532.0 430.5,532.1 431.5,532.1 432.5,532.1 433.5,532.2 434.5,532.2 435.5,532.2 436.5,532.3 437.5,532.3 438.5,532.3 439.5,532.3 440.5,532.3 441.5,532.3 442.5,532.3 443.5,532.3 444.5,532.3 445.5,532.3 446.5,532.3 447.5,532.3 448.5,532.3 449.5,532.3 450.5,532.3 451.5,532.3 452.5,532.3 453.5,532.3 454.5,532.3 455.5,532.3 456.5,532.3 457.5,532.3 458.5,532.3 459.5,532.3 460.5,532.3 461.5,532.3 462.5,532.3 463.5,532.3 464.5,532.3 465.5,532.3 466.5,532.3 467.5,532.3 468.5,532.3 469.5,532.3 470.5,532.3 471.5,532.3 472.5,532.3 473.5,532.3 474.5,532.3 475.5,532.3 476.5,532.3 477.5,532.3 478.5,532.3 479.5,532.3 480.5,532.3 481.5,532.3 482.5,532.3 483.5,532.3 484.5,532.3 485.5,532.3 486.5,532.3 487.5,532.3 488.5,532.3 489.5,532.3 490.5,532.3 491.5,532.3 492.5,532.3 493.5,532.3 494.5,532.3 495.5,532.3 496.5,532.3 497.5,532.3 498.5,532.3 499.5,532.3 500.5,532.3 501.5,532.3 502.5,532.3 503.5,532.3 504.5,532.3 505.5,532.3 506.5,532.3 507.5,532.3 508.5,532.3 509.5,532.3 510.5,532.3 511.5,532.3 512.5,532.3 513.5,532.3 514.5,532.3 515.5,532.3 516.5,532.3 517.5,532.3 518.5,532.3 519.5,532.3 520.5,532.3 521.5,532.3 522.5,532.3 523.5,532.3 524.5,532.3 525.5,532.3 526.5,532.3 527.5,532.3 528.5,532.3 529.5,532.3 530.5,532.3 531.5,532.3 532.5,532.3 533.5,532.3 534.5,532.3 535.5,532.3 536.5,532.3 537.5,532.3 538.5,532.3 539.5,532.3 540.5,532.3 541.5,532.3 542.5,532.3 543.5,532.3 544.5,532.3 545.5,532.3 546.5,532.3 547.5,532.3 548.5,532.3 549.5,532.3 550.5,532.3 551.5,532.3 552.5,532.3 553.5,532.3 554.5,532.3 555.5,532.3 556.5,532.3 557.5,532.3 558.5,532.3 559.5,532.3 560.5,532.3 561.5,532.3 562.5,532.3 563.5,532.3 564.5,532.3 565.5,532.3 566.5,532.3 567.5,532.3 568.5,532.3 569.5,532.3 570.5,532.3 571.5,532.3 572.5,532.3 573.5,532.3 574.5,532.3 575.5,532.3 576.5,532.3 577.5,532.3 578.5,532.3 579.5,532.3 580.5,532.3 581.5,532.3 582.5,532.3 583.5,532.3 584.5,532.3 585.5,532.3 586.5,532.3 587.5,532.3 588.5,532.3 589.5,532.3 590.5,532.3 591.5,532.3 592.5,532.3 593.5,532.3 594.5,532.3 595.5,532.3 596.5,532.3 597.5,532.3 598.5,532.3 599.5,532.3 600.5,532.3 601.5,532.3 602.5,532.3 603.5,532.3 604.5,532.3 605.5,532.3 606.5,532.3 607.5,532.3 608.5,532.3 609.5,532.3 610.5,532.3 611.5,532.3 612.5,532.3 613.5,532.3 614.5,532.3 615.5,532.3 616.5,532.3 617.5,532.3 618.5,532.3 619.5,532.3 620.5,532.3 621.5,532.3 622.5,532.3 623.5,532.3 624.5,532.3 625.5,532.3 626.5,532.3 627.5,532.3 628.5,532.3 629.5,532.3 630.5,532.3 631.5,532.3 632.5,532.3 633.5,532.3 634.5,532.3 635.5,532.3 636.5,532.3 637.5,532.3 638.5,532.3 639.5,532.3 640.5,532.3 641.5,532.3 642.5,532.3 643.5,532.3 644.5,532.3 645.5,532.3 646.5,532.3 647.5,532.3 648.5,532.3 649.5,532.3 650.5,532.3 651.5,532.3 652.5,532.3 653.5,532.3 654.5,532.3 655.5,532.3 656.5,532.3 657.5,532.3 658.5,532.3 659.5,532.3 660.5,532.3 661.5,532.3 662.5,532.3 663.5,532.3 664.5,532.3 665.5,532.3 666.5,532.3 667.5,532.3 668.5,532.3 669.5,532.3 670.5,532.3 671.5,532.3 672.5,532.3 673.5,532.3 674.5,532.3 675.5,532.3 676.5,532.3 677.5,532.3 678.5,532.3 679.5,532.3 680.5,532.3 681.5,532.3 682.5,532.3 683.5,532.3 684.5,532.3 685.5,532.3 686.5,532.3 687.5,532.3 688.5,532.3 689.5,532.3 690.5,532.3 691.5,532.3 692.5,532.3 693.5,532.3 694.5,532.3 695.5,532.3 696.5,532.3 697.5,532.3 698.5,532.3 699.5,532.3 700.5,532.3 701.5,532.3 702.5,532.3 703.5,532.3 704.5,532.3 705.5,532.3 706.5,532.3 707.5,532.3 708.5,532.3 709.5,532.3 710.5,532.3 711.5,532.3" fill="none" stroke="#9a5129" stroke-width="0.7" stroke-opacity="0.6" stroke-linejoin="round"/>
<line x1="68.5" y1="532" x2="68.5" y2="537" stroke="#999" stroke-width="1"/><line x1="222" y1="532" x2="222" y2="537" stroke="#999" stroke-width="1"/><line x1="372" y1="532" x2="372" y2="537" stroke="#999" stroke-width="1"/><line x1="521.5" y1="532" x2="521.5" y2="537" stroke="#999" stroke-width="1"/><line x1="711.5" y1="532" x2="711.5" y2="537" stroke="#999" stroke-width="1"/>
<polyline points="714.5,532 718,532 718,435.5 732,435.5" fill="none" stroke="#d2d2d2" stroke-width="1.1"/><polyline points="714.5,532 720.6,532 720.6,453.8 732,453.8" fill="none" stroke="#d2d2d2" stroke-width="1.1"/><polyline points="714.5,532 723.1,532 723.1,472.0 732,472.0" fill="none" stroke="#d2d2d2" stroke-width="1.1"/><polyline points="714.5,532 725.6,532 725.6,490.3 732,490.3" fill="none" stroke="#d2d2d2" stroke-width="1.1"/><polyline points="714.5,532 728.1,532 728.1,508.79999999999995 732,508.79999999999995" fill="none" stroke="#d2d2d2" stroke-width="1.1"/><polyline points="714.5,532 730.6,532 730.6,527.0 732,527.0" fill="none" stroke="#d2d2d2" stroke-width="1.1"/><polyline points="714.5,532 730.6,532 730.6,545.3 732,545.3" fill="none" stroke="#d2d2d2" stroke-width="1.1"/>
<rect x="769" y="16" width="65" height="36" fill="#002147"/><rect x="769" y="48.8" width="65" height="3.2" fill="#ce261e"/>
<text x="16.8" y="40" font-family="Liberation Serif" font-size="27" fill="#333" font-weight="bold" text-anchor="start" textLength="554.4" lengthAdjust="spacingAndGlyphs">Daily confirmed COVID-19 cases by world region</text><text x="16.5" y="66" font-family="Liberation Sans" font-size="14.3" fill="#5b5b5b" font-weight="normal" text-anchor="start" textLength="712.5" lengthAdjust="spacingAndGlyphs">7-day rolling average. Due to limited testing, the number of confirmed cases is lower than the true number of</text><text x="16.5" y="83.8" font-family="Liberation Sans" font-size="14.3" fill="#5b5b5b" font-weight="normal" text-anchor="start" textLength="66.3" lengthAdjust="spacingAndGlyphs">infections.</text><text x="63.5" y="537.0" font-family="Liberation Sans" font-size="13.4" fill="#5b5b5b" font-weight="normal" text-anchor="end">0</text><text x="15.9" y="476.74300000000005" font-family="Liberation Sans" font-size="12.8" fill="#5b5b5b" font-weight="normal" text-anchor="start" textLength="47" lengthAdjust="spacingAndGlyphs">1 million</text><text x="15.9" y="416.386" font-family="Liberation Sans" font-size="12.8" fill="#5b5b5b" font-weight="normal" text-anchor="start" textLength="47" lengthAdjust="spacingAndGlyphs">2 million</text><text x="15.9" y="356.029" font-family="Liberation Sans" font-size="12.8" fill="#5b5b5b" font-weight="normal" text-anchor="start" textLength="47" lengthAdjust="spacingAndGlyphs">3 million</text><text x="15.9" y="295.672" font-family="Liberation Sans" font-size="12.8" fill="#5b5b5b" font-weight="normal" text-anchor="start" textLength="47" lengthAdjust="spacingAndGlyphs">4 million</text><text x="15.9" y="235.31500000000003" font-family="Liberation Sans" font-size="12.8" fill="#5b5b5b" font-weight="normal" text-anchor="start" textLength="47" lengthAdjust="spacingAndGlyphs">5 million</text><text x="15.9" y="174.958" font-family="Liberation Sans" font-size="12.8" fill="#5b5b5b" font-weight="normal" text-anchor="start" textLength="47" lengthAdjust="spacingAndGlyphs">6 million</text><text x="15.9" y="114.60099999999997" font-family="Liberation Sans" font-size="12.8" fill="#5b5b5b" font-weight="normal" text-anchor="start" textLength="47" lengthAdjust="spacingAndGlyphs">7 million</text><text x="69.4" y="550.4" font-family="Liberation Sans" font-size="12.8" fill="#5b5b5b" font-weight="normal" text-anchor="start" textLength="65.2" lengthAdjust="spacingAndGlyphs">Jan 9, 2020</text><text x="189" y="550.4" font-family="Liberation Sans" font-size="12.8" fill="#5b5b5b" font-weight="normal" text-anchor="start" textLength="65.8" lengthAdjust="spacingAndGlyphs">Jun 4, 2021</text><text x="334.4" y="550.4" font-family="Liberation Sans" font-size="12.8" fill="#5b5b5b" font-weight="normal" text-anchor="start" textLength="75" lengthAdjust="spacingAndGlyphs">Oct 17, 2022</text><text x="484.3" y="550.4" font-family="Liberation Sans" font-size="12.8" fill="#5b5b5b" font-weight="normal" text-anchor="start" textLength="74.3" lengthAdjust="spacingAndGlyphs">Feb 29, 2024</text><text x="634" y="550.4" font-family="Liberation Sans" font-size="12.8" fill="#5b5b5b" font-weight="normal" text-anchor="start" textLength="77" lengthAdjust="spacingAndGlyphs">Nov 23, 2025</text><text x="736.9" y="440" font-family="Liberation Sans" font-size="12.8" fill="#e56e5a" font-weight="normal" text-anchor="start" textLength="82.6" lengthAdjust="spacingAndGlyphs">North America</text><text x="736.9" y="458.3" font-family="Liberation Sans" font-size="12.8" fill="#883039" font-weight="normal" text-anchor="start" textLength="82.6" lengthAdjust="spacingAndGlyphs">South America</text><text x="736.9" y="476.5" font-family="Liberation Sans" font-size="12.8" fill="#4c6a9c" font-weight="normal" text-anchor="start" textLength="39.6" lengthAdjust="spacingAndGlyphs">Europe</text><text x="736.9" y="494.8" font-family="Liberation Sans" font-size="12.8" fill="#a2559c" font-weight="normal" text-anchor="start" textLength="33.1" lengthAdjust="spacingAndGlyphs">Africa</text><text x="736.9" y="513.3" font-family="Liberation Sans" font-size="12.8" fill="#3c9a76" font-weight="normal" text-anchor="start" textLength="87.9" lengthAdjust="spacingAndGlyphs">Asia excl. China</text><text x="736.9" y="531.5" font-family="Liberation Sans" font-size="12.8" fill="#d73c50" font-weight="normal" text-anchor="start" textLength="31.9" lengthAdjust="spacingAndGlyphs">China</text><text x="736.9" y="549.8" font-family="Liberation Sans" font-size="12.8" fill="#9a5129" font-weight="normal" text-anchor="start" textLength="45.5" lengthAdjust="spacingAndGlyphs">Oceania</text><text x="17.1" y="580.5" font-family="Liberation Sans" font-size="12.3" fill="#6e6e6e" font-weight="bold" text-anchor="start" textLength="70.5" lengthAdjust="spacingAndGlyphs">Data source:</text><text x="91" y="580.5" font-family="Liberation Sans" font-size="12.3" fill="#858585" font-weight="normal" text-anchor="start" textLength="194" lengthAdjust="spacingAndGlyphs">World Health Organization (2025)</text><text x="596.5" y="580.5" font-family="Liberation Sans" font-size="12.3" fill="#858585" font-weight="normal" text-anchor="start" textLength="234.5" lengthAdjust="spacingAndGlyphs">OurWorldinData.org/coronavirus | CC BY</text><text x="801.5" y="30.8" font-family="Liberation Sans" font-size="11.2" fill="#fff" font-weight="bold" text-anchor="middle" textLength="54.8" lengthAdjust="spacingAndGlyphs">Our World</text><text x="801.8" y="42.6" font-family="Liberation Sans" font-size="11.2" fill="#fff" font-weight="bold" text-anchor="middle" textLength="36.5" lengthAdjust="spacingAndGlyphs">in Data</text>
</svg></body></html>
